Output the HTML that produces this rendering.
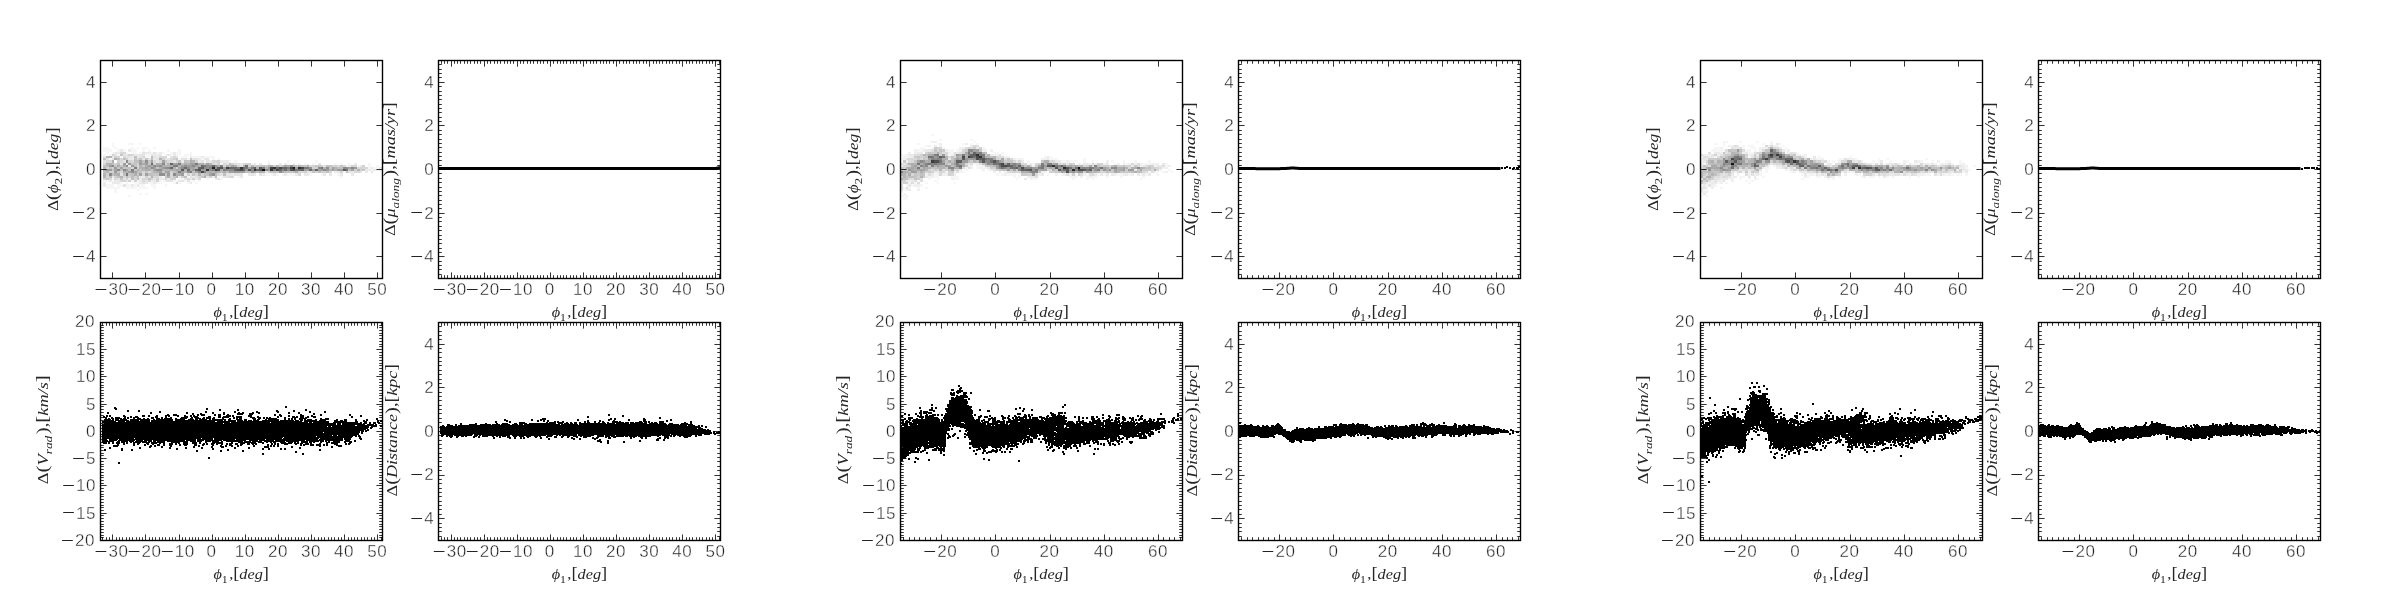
<!DOCTYPE html><html><head><meta charset="utf-8"><title>fig</title><style>html,body{margin:0;padding:0;background:#fff}svg{display:block;will-change:transform}text{font-family:"Liberation Sans",sans-serif;font-size:17px;fill:#242424;stroke:#fff;stroke-width:.36px}text.m{font-family:"Liberation Serif",serif;font-size:15.5px;fill:#262626;stroke:none}tspan.b{font-size:17.6px}</style></head><body><svg width="2400" height="600" viewBox="0 0 2400 600"><rect width="2400" height="600" fill="#fff"/>
<g shape-rendering="crispEdges" fill="none" stroke-width="1">
<path fill="#121212" d="M262 169h3v2h-3z"/>
<path fill="#1e1e1e" d="M293 167h2v2h-2z"/>
<path fill="#242424" d="M212 167h3v2h-3z"/>
<path fill="#303030" d="M298 167h3v2h-3z"/>
<path fill="#363636" d="M206 169h3v2h-3zM240 167h3v2h-3zM254 169h2v2h-2zM270 169h3v2h-3zM273 167h3v2h-3z"/>
<path fill="#424242" d="M215 169h2v2h-2zM226 167h3v2h-3zM270 167h3v2h-3zM290 167h3v2h-3z"/>
<path fill="#484848" d="M201 171h3v2h-3zM240 169h3v2h-3zM276 169h3v2h-3zM279 167h3v2h-3zM293 169h2v2h-2zM301 167h3v2h-3z"/>
<path fill="#545454" d="M198 169h3v2h-3zM217 169h3v2h-3zM220 167h3v2h-3zM248 169h3v2h-3zM290 169h3v2h-3z"/>
<path fill="#5a5a5a" d="M181 169h3v2h-3zM201 167h3v2h-3zM217 167h3v2h-3zM237 169h3v2h-3zM254 167h2v2h-2zM259 167h3v2h-3zM259 169h3v2h-3zM343 169h3v2h-3z"/>
<path fill="#666666" d="M170 163h3v2h-3zM170 167h3v2h-3zM195 169h3v2h-3zM198 167h3v2h-3zM212 165h3v2h-3zM229 167h2v2h-2zM234 169h3v2h-3zM243 169h2v2h-2zM256 169h3v2h-3zM279 169h3v2h-3zM282 167h2v2h-2zM284 167h3v2h-3zM301 169h3v2h-3zM315 169h3v2h-3z"/>
<path fill="#6c6c6c" d="M151 163h2v2h-2zM184 167h3v2h-3zM187 169h3v2h-3zM201 165h3v2h-3zM231 167h3v2h-3zM234 167h3v2h-3zM243 167h2v2h-2zM245 165h3v2h-3zM276 167h3v2h-3zM284 169h3v2h-3zM298 169h3v2h-3zM309 169h3v2h-3z"/>
<path fill="#787878" d="M126 173h2v3h-2zM176 165h2v2h-2zM195 163h3v2h-3zM204 165h2v2h-2zM245 167h3v2h-3zM262 167h3v2h-3zM273 169h3v2h-3zM295 169h3v2h-3zM304 167h3v2h-3zM307 167h2v2h-2zM321 167h2v2h-2zM346 169h2v2h-2z"/>
<path fill="#7e7e7e" d="M131 169h3v2h-3zM134 167h3v2h-3zM173 165h3v2h-3zM178 163h3v2h-3zM178 171h3v2h-3zM190 171h2v2h-2zM209 167h3v2h-3zM212 169h3v2h-3zM220 165h3v2h-3zM223 169h3v2h-3zM237 167h3v2h-3zM251 167h3v2h-3zM287 167h3v2h-3z"/>
<path fill="#8a8a8a" d="M109 173h3v3h-3zM112 165h2v2h-2zM117 169h3v2h-3zM123 169h3v2h-3zM126 160h2v3h-2zM126 165h2v2h-2zM151 167h2v2h-2zM156 169h3v2h-3zM162 163h3v2h-3zM167 167h3v2h-3zM173 173h3v3h-3zM181 167h3v2h-3zM192 165h3v2h-3zM198 171h3v2h-3zM204 167h2v2h-2zM204 171h2v2h-2zM226 169h3v2h-3zM229 169h2v2h-2zM231 169h3v2h-3zM251 169h3v2h-3zM265 169h3v2h-3zM282 169h2v2h-2zM318 167h3v2h-3zM323 169h3v2h-3zM343 167h3v2h-3zM351 167h3v2h-3z"/>
<path fill="#909090" d="M131 171h3v2h-3zM145 160h3v3h-3zM153 165h3v2h-3zM159 165h3v2h-3zM159 169h3v2h-3zM159 173h3v3h-3zM162 173h3v3h-3zM165 167h2v2h-2zM184 165h3v2h-3zM187 167h3v2h-3zM187 171h3v2h-3zM206 165h3v2h-3zM206 167h3v2h-3zM209 165h3v2h-3zM209 169h3v2h-3zM212 173h3v3h-3zM215 165h2v2h-2zM215 167h2v2h-2zM279 171h3v2h-3zM287 169h3v2h-3zM290 165h3v2h-3zM309 167h3v2h-3zM326 167h3v2h-3zM346 167h2v2h-2z"/>
<path fill="#9c9c9c" d="M106 169h3v2h-3zM109 165h3v2h-3zM109 169h3v2h-3zM114 167h3v2h-3zM114 171h3v2h-3zM123 163h3v2h-3zM128 163h3v2h-3zM131 165h3v2h-3zM139 163h3v2h-3zM145 163h3v2h-3zM148 165h3v2h-3zM153 167h3v2h-3zM156 165h3v2h-3zM162 167h3v2h-3zM167 173h3v3h-3zM181 165h3v2h-3zM181 173h3v3h-3zM187 165h3v2h-3zM190 165h2v2h-2zM192 169h3v2h-3zM201 169h3v2h-3zM204 169h2v2h-2zM223 167h3v2h-3zM229 171h2v2h-2zM234 171h3v2h-3zM237 171h3v2h-3zM245 169h3v2h-3zM251 171h3v2h-3zM268 167h2v2h-2zM268 169h2v2h-2zM295 167h3v2h-3zM321 169h2v2h-2zM326 169h3v2h-3zM332 169h2v2h-2zM337 169h3v2h-3zM340 169h3v2h-3zM354 167h3v2h-3z"/>
<path fill="#a2a2a2" d="M114 169h3v2h-3zM120 167h3v2h-3zM126 169h2v2h-2zM128 171h3v2h-3zM134 171h3v2h-3zM139 160h3v3h-3zM139 173h3v3h-3zM145 167h3v2h-3zM145 173h3v3h-3zM151 160h2v3h-2zM153 169h3v2h-3zM159 171h3v2h-3zM162 160h3v3h-3zM165 171h2v2h-2zM167 171h3v2h-3zM173 163h3v2h-3zM176 163h2v2h-2zM176 169h2v2h-2zM178 167h3v2h-3zM181 171h3v2h-3zM190 163h2v2h-2zM190 167h2v2h-2zM192 163h3v2h-3zM192 167h3v2h-3zM195 165h3v2h-3zM195 171h3v2h-3zM206 163h3v2h-3zM209 173h3v3h-3zM215 171h2v2h-2zM231 165h3v2h-3zM231 171h3v2h-3zM240 171h3v2h-3zM243 171h2v2h-2zM248 167h3v2h-3zM284 165h3v2h-3zM304 169h3v2h-3zM307 169h2v2h-2zM312 169h3v2h-3zM318 169h3v2h-3zM332 167h2v2h-2zM348 167h3v2h-3zM351 169h3v2h-3z"/>
<path fill="#aeaeae" d="M103 169h3v2h-3zM112 160h2v3h-2zM114 158h3v2h-3zM117 165h3v2h-3zM117 173h3v3h-3zM123 165h3v2h-3zM123 171h3v2h-3zM134 173h3v3h-3zM137 169h2v2h-2zM142 163h3v2h-3zM142 167h3v2h-3zM145 165h3v2h-3zM145 169h3v2h-3zM148 167h3v2h-3zM148 169h3v2h-3zM151 165h2v2h-2zM156 163h3v2h-3zM156 171h3v2h-3zM159 167h3v2h-3zM162 165h3v2h-3zM167 176h3v2h-3zM170 165h3v2h-3zM170 169h3v2h-3zM173 167h3v2h-3zM173 169h3v2h-3zM176 173h2v3h-2zM178 169h3v2h-3zM178 173h3v3h-3zM184 163h3v2h-3zM184 169h3v2h-3zM190 160h2v3h-2zM190 169h2v2h-2zM198 163h3v2h-3zM198 165h3v2h-3zM201 163h3v2h-3zM204 176h2v2h-2zM206 171h3v2h-3zM209 171h3v2h-3zM217 165h3v2h-3zM217 171h3v2h-3zM220 169h3v2h-3zM223 171h3v2h-3zM226 165h3v2h-3zM234 165h3v2h-3zM254 171h2v2h-2zM259 171h3v2h-3zM270 165h3v2h-3zM282 171h2v2h-2zM287 165h3v2h-3zM295 171h3v2h-3zM307 165h2v2h-2z"/>
<path fill="#b4b4b4" d="M103 167h3v2h-3zM103 173h3v3h-3zM103 176h3v2h-3zM106 156h3v2h-3zM106 163h3v2h-3zM106 171h3v2h-3zM109 156h3v2h-3zM109 163h3v2h-3zM114 173h3v3h-3zM120 176h3v2h-3zM126 171h2v2h-2zM139 165h3v2h-3zM139 167h3v2h-3zM142 169h3v2h-3zM151 176h2v2h-2zM153 171h3v2h-3zM159 158h3v2h-3zM159 163h3v2h-3zM162 169h3v2h-3zM165 165h2v2h-2zM165 169h2v2h-2zM167 163h3v2h-3zM167 165h3v2h-3zM167 169h3v2h-3zM176 171h2v2h-2zM176 176h2v2h-2zM178 165h3v2h-3zM184 171h3v2h-3zM187 163h3v2h-3zM192 160h3v3h-3zM195 167h3v2h-3zM198 173h3v3h-3zM209 163h3v2h-3zM212 171h3v2h-3zM243 165h2v2h-2zM251 165h3v2h-3zM256 167h3v2h-3zM262 171h3v2h-3zM265 167h3v2h-3zM268 165h2v2h-2zM276 165h3v2h-3zM293 165h2v2h-2zM298 165h3v2h-3zM323 167h3v2h-3zM329 169h3v2h-3zM334 167h3v2h-3zM334 169h3v2h-3zM357 169h3v2h-3z"/>
<path fill="#c0c0c0" d="M103 158h3v2h-3zM103 165h3v2h-3zM103 171h3v2h-3zM106 165h3v2h-3zM109 176h3v2h-3zM112 163h2v2h-2zM112 173h2v3h-2zM117 158h3v2h-3zM117 163h3v2h-3zM117 176h3v2h-3zM120 169h3v2h-3zM123 158h3v2h-3zM123 173h3v3h-3zM126 176h2v2h-2zM128 167h3v2h-3zM128 169h3v2h-3zM131 173h3v3h-3zM131 176h3v2h-3zM131 178h3v2h-3zM134 156h3v2h-3zM134 160h3v3h-3zM134 165h3v2h-3zM137 160h2v3h-2zM137 171h2v2h-2zM137 176h2v2h-2zM137 178h2v2h-2zM139 169h3v2h-3zM139 171h3v2h-3zM142 160h3v3h-3zM148 173h3v3h-3zM148 178h3v2h-3zM151 156h2v2h-2zM151 158h2v2h-2zM151 173h2v3h-2zM173 171h3v2h-3zM178 160h3v3h-3zM181 163h3v2h-3zM184 160h3v3h-3zM184 176h3v2h-3zM192 171h3v2h-3zM204 173h2v3h-2zM206 173h3v3h-3zM215 173h2v3h-2zM215 176h2v2h-2zM220 171h3v2h-3zM223 173h3v3h-3zM226 171h3v2h-3zM229 163h2v2h-2zM229 165h2v2h-2zM245 171h3v2h-3zM248 171h3v2h-3zM256 171h3v2h-3zM262 165h3v2h-3zM270 171h3v2h-3zM273 171h3v2h-3zM282 165h2v2h-2zM284 171h3v2h-3zM287 171h3v2h-3zM293 171h2v2h-2zM301 165h3v2h-3zM318 171h3v2h-3zM326 165h3v2h-3zM326 171h3v2h-3zM337 167h3v2h-3zM340 167h3v2h-3zM346 171h2v2h-2zM348 169h3v2h-3z"/>
<path fill="#c6c6c6" d="M106 178h3v2h-3zM109 167h3v2h-3zM112 169h2v2h-2zM114 165h3v2h-3zM117 167h3v2h-3zM117 171h3v2h-3zM120 154h3v2h-3zM120 165h3v2h-3zM120 178h3v2h-3zM123 167h3v2h-3zM126 167h2v2h-2zM128 173h3v3h-3zM131 163h3v2h-3zM134 158h3v2h-3zM134 163h3v2h-3zM134 169h3v2h-3zM137 173h2v3h-2zM139 158h3v2h-3zM142 165h3v2h-3zM145 158h3v2h-3zM145 171h3v2h-3zM148 160h3v3h-3zM148 163h3v2h-3zM151 169h2v2h-2zM151 171h2v2h-2zM153 173h3v3h-3zM156 167h3v2h-3zM156 173h3v3h-3zM162 171h3v2h-3zM165 160h2v3h-2zM165 173h2v3h-2zM165 176h2v2h-2zM173 176h3v2h-3zM176 158h2v2h-2zM187 160h3v3h-3zM190 158h2v2h-2zM192 173h3v3h-3zM201 176h3v2h-3zM204 163h2v2h-2zM256 165h3v2h-3zM259 165h3v2h-3zM265 165h3v2h-3zM276 171h3v2h-3zM290 171h3v2h-3zM295 165h3v2h-3zM304 165h3v2h-3zM312 171h3v2h-3zM315 165h3v2h-3zM318 165h3v2h-3zM329 165h3v2h-3zM329 167h3v2h-3zM340 165h3v2h-3zM362 169h3v2h-3z"/>
<path fill="#d2d2d2" d="M103 178h3v2h-3zM106 167h3v2h-3zM106 173h3v3h-3zM109 171h3v2h-3zM112 154h2v2h-2zM112 167h2v2h-2zM112 171h2v2h-2zM114 156h3v2h-3zM114 163h3v2h-3zM114 176h3v2h-3zM117 160h3v3h-3zM123 180h3v2h-3zM126 158h2v2h-2zM126 178h2v2h-2zM128 154h3v2h-3zM128 160h3v3h-3zM128 176h3v2h-3zM128 180h3v2h-3zM134 176h3v2h-3zM134 180h3v2h-3zM137 163h2v2h-2zM137 167h2v2h-2zM145 176h3v2h-3zM153 163h3v2h-3zM156 178h3v2h-3zM156 180h3v2h-3zM162 158h3v2h-3zM165 163h2v2h-2zM165 178h2v2h-2zM170 171h3v2h-3zM170 178h3v2h-3zM173 158h3v2h-3zM173 178h3v2h-3zM176 160h2v3h-2zM176 167h2v2h-2zM181 176h3v2h-3zM187 173h3v3h-3zM192 178h3v2h-3zM195 160h3v3h-3zM201 173h3v3h-3zM209 176h3v2h-3zM217 160h3v3h-3zM217 163h3v2h-3zM231 163h3v2h-3zM245 163h3v2h-3zM248 163h3v2h-3zM248 165h3v2h-3zM254 165h2v2h-2zM268 171h2v2h-2zM273 165h3v2h-3zM279 165h3v2h-3zM304 171h3v2h-3zM312 165h3v2h-3zM312 167h3v2h-3zM315 167h3v2h-3zM315 171h3v2h-3zM321 165h2v2h-2zM321 171h2v2h-2zM323 171h3v2h-3zM332 165h2v2h-2zM334 165h3v2h-3zM340 171h3v2h-3zM351 165h3v2h-3zM354 169h3v2h-3zM360 167h2v2h-2zM360 169h2v2h-2zM362 165h3v2h-3z"/>
<path fill="#d8d8d8" d="M103 163h3v2h-3zM106 160h3v3h-3zM106 176h3v2h-3zM109 160h3v3h-3zM109 178h3v2h-3zM114 178h3v2h-3zM117 156h3v2h-3zM120 152h3v2h-3zM120 158h3v2h-3zM120 160h3v3h-3zM120 171h3v2h-3zM120 180h3v2h-3zM123 152h3v2h-3zM123 156h3v2h-3zM123 176h3v2h-3zM131 154h3v2h-3zM131 160h3v3h-3zM131 167h3v2h-3zM134 178h3v2h-3zM137 158h2v2h-2zM137 165h2v2h-2zM142 156h3v2h-3zM142 171h3v2h-3zM142 173h3v3h-3zM142 178h3v2h-3zM142 180h3v2h-3zM145 178h3v2h-3zM148 171h3v2h-3zM148 180h3v2h-3zM151 178h2v2h-2zM153 160h3v3h-3zM153 176h3v2h-3zM156 176h3v2h-3zM159 156h3v2h-3zM159 160h3v3h-3zM162 156h3v2h-3zM165 156h2v2h-2zM167 160h3v3h-3zM170 158h3v2h-3zM170 160h3v3h-3zM170 173h3v3h-3zM170 176h3v2h-3zM173 156h3v2h-3zM176 182h2v2h-2zM187 178h3v2h-3zM195 173h3v3h-3zM198 176h3v2h-3zM198 178h3v2h-3zM212 160h3v3h-3zM212 163h3v2h-3zM215 160h2v3h-2zM217 173h3v3h-3zM223 163h3v2h-3zM223 165h3v2h-3zM229 176h2v2h-2zM231 176h3v2h-3zM237 165h3v2h-3zM243 163h2v2h-2zM298 171h3v2h-3zM298 173h3v3h-3zM301 171h3v2h-3zM309 165h3v2h-3zM329 171h3v2h-3zM337 165h3v2h-3zM343 165h3v2h-3zM354 165h3v2h-3zM354 171h3v2h-3zM357 167h3v2h-3zM357 171h3v2h-3zM362 167h3v2h-3zM365 167h3v2h-3z"/>
<path fill="#e4e4e4" d="M103 156h3v2h-3zM103 160h3v3h-3zM106 158h3v2h-3zM112 158h2v2h-2zM114 154h3v2h-3zM117 178h3v2h-3zM120 163h3v2h-3zM120 173h3v3h-3zM123 154h3v2h-3zM123 160h3v3h-3zM123 178h3v2h-3zM123 184h3v3h-3zM126 154h2v2h-2zM126 156h2v2h-2zM126 163h2v2h-2zM128 156h3v2h-3zM139 154h3v2h-3zM139 156h3v2h-3zM142 152h3v2h-3zM142 154h3v2h-3zM142 158h3v2h-3zM142 182h3v2h-3zM145 180h3v2h-3zM148 158h3v2h-3zM148 176h3v2h-3zM151 154h2v2h-2zM153 152h3v2h-3zM153 156h3v2h-3zM153 178h3v2h-3zM156 158h3v2h-3zM156 160h3v3h-3zM165 158h2v2h-2zM167 154h3v2h-3zM167 158h3v2h-3zM167 180h3v2h-3zM170 156h3v2h-3zM170 180h3v2h-3zM173 160h3v3h-3zM176 156h2v2h-2zM181 158h3v2h-3zM181 180h3v2h-3zM184 158h3v2h-3zM184 178h3v2h-3zM187 180h3v2h-3zM190 173h2v3h-2zM190 176h2v2h-2zM192 158h3v2h-3zM195 158h3v2h-3zM195 176h3v2h-3zM201 160h3v3h-3zM206 158h3v2h-3zM206 160h3v3h-3zM206 176h3v2h-3zM215 163h2v2h-2zM217 178h3v2h-3zM220 173h3v3h-3zM223 176h3v2h-3zM226 163h3v2h-3zM226 173h3v3h-3zM226 176h3v2h-3zM229 173h2v3h-2zM234 163h3v2h-3zM234 173h3v3h-3zM237 163h3v2h-3zM237 173h3v3h-3zM240 165h3v2h-3zM240 173h3v3h-3zM251 173h3v3h-3zM259 173h3v3h-3zM265 171h3v2h-3zM309 171h3v2h-3zM318 163h3v2h-3zM323 165h3v2h-3zM348 171h3v2h-3zM360 171h2v2h-2zM371 171h2v2h-2z"/>
<path fill="#eaeaea" d="M103 182h3v2h-3zM103 184h3v3h-3zM109 180h3v2h-3zM112 156h2v2h-2zM112 176h2v2h-2zM112 182h2v2h-2zM114 152h3v2h-3zM114 180h3v2h-3zM114 182h3v2h-3zM117 152h3v2h-3zM117 180h3v2h-3zM117 182h3v2h-3zM120 149h3v3h-3zM126 180h2v2h-2zM128 149h3v3h-3zM128 158h3v2h-3zM128 165h3v2h-3zM128 178h3v2h-3zM131 156h3v2h-3zM131 158h3v2h-3zM131 184h3v3h-3zM134 154h3v2h-3zM137 154h2v2h-2zM137 156h2v2h-2zM137 184h2v3h-2zM139 176h3v2h-3zM139 178h3v2h-3zM139 180h3v2h-3zM139 182h3v2h-3zM142 176h3v2h-3zM145 152h3v2h-3zM145 182h3v2h-3zM148 152h3v2h-3zM151 180h2v2h-2zM153 154h3v2h-3zM153 158h3v2h-3zM153 180h3v2h-3zM153 182h3v2h-3zM156 154h3v2h-3zM156 156h3v2h-3zM159 152h3v2h-3zM159 154h3v2h-3zM159 176h3v2h-3zM159 178h3v2h-3zM162 178h3v2h-3zM165 180h2v2h-2zM167 178h3v2h-3zM173 152h3v2h-3zM173 154h3v2h-3zM178 176h3v2h-3zM178 180h3v2h-3zM181 160h3v3h-3zM184 173h3v3h-3zM190 156h2v2h-2zM190 178h2v2h-2zM190 182h2v2h-2zM192 176h3v2h-3zM195 178h3v2h-3zM198 158h3v2h-3zM198 160h3v3h-3zM201 156h3v2h-3zM204 158h2v2h-2zM209 160h3v3h-3zM212 176h3v2h-3zM215 178h2v2h-2zM220 160h3v3h-3zM223 160h3v3h-3zM226 160h3v3h-3zM231 173h3v3h-3zM240 163h3v2h-3zM240 176h3v2h-3zM248 173h3v3h-3zM254 163h2v2h-2zM254 173h2v3h-2zM259 163h3v2h-3zM262 173h3v3h-3zM268 163h2v2h-2zM273 173h3v3h-3zM279 163h3v2h-3zM284 163h3v2h-3zM284 173h3v3h-3zM293 163h2v2h-2zM295 173h3v3h-3zM304 173h3v3h-3zM307 171h2v2h-2zM307 173h2v3h-2zM323 173h3v3h-3zM329 173h3v3h-3zM334 171h3v2h-3zM337 171h3v2h-3zM340 173h3v3h-3zM348 165h3v2h-3zM351 171h3v2h-3zM351 173h3v3h-3zM354 163h3v2h-3zM360 165h2v2h-2zM365 169h3v2h-3zM365 171h3v2h-3zM368 169h3v2h-3zM371 167h2v2h-2zM373 169h3v2h-3zM379 167h3v2h-3zM379 169h3v2h-3z"/>
<path fill="#f6f6f6" d="M103 147h3v2h-3zM103 149h3v3h-3zM103 154h3v2h-3zM103 180h3v2h-3zM106 147h3v2h-3zM106 149h3v3h-3zM106 152h3v2h-3zM106 180h3v2h-3zM106 184h3v3h-3zM106 187h3v2h-3zM109 149h3v3h-3zM109 154h3v2h-3zM109 158h3v2h-3zM109 184h3v3h-3zM109 187h3v2h-3zM112 143h2v2h-2zM112 145h2v2h-2zM112 152h2v2h-2zM112 178h2v2h-2zM112 180h2v2h-2zM112 184h2v3h-2zM112 187h2v2h-2zM114 147h3v2h-3zM114 187h3v2h-3zM114 189h3v2h-3zM114 191h3v2h-3zM117 149h3v3h-3zM117 154h3v2h-3zM117 184h3v3h-3zM117 187h3v2h-3zM120 156h3v2h-3zM120 182h3v2h-3zM120 184h3v3h-3zM123 149h3v3h-3zM126 152h2v2h-2zM126 182h2v2h-2zM126 184h2v3h-2zM126 187h2v2h-2zM128 143h3v2h-3zM128 184h3v3h-3zM128 187h3v2h-3zM128 195h3v2h-3zM131 143h3v2h-3zM131 147h3v2h-3zM131 149h3v3h-3zM131 152h3v2h-3zM131 180h3v2h-3zM131 187h3v2h-3zM134 149h3v3h-3zM134 152h3v2h-3zM134 182h3v2h-3zM134 184h3v3h-3zM134 187h3v2h-3zM137 147h2v2h-2zM137 180h2v2h-2zM137 182h2v2h-2zM137 189h2v2h-2zM139 143h3v2h-3zM139 152h3v2h-3zM139 184h3v3h-3zM139 187h3v2h-3zM139 193h3v2h-3zM142 147h3v2h-3zM142 149h3v3h-3zM142 184h3v3h-3zM142 187h3v2h-3zM145 147h3v2h-3zM145 154h3v2h-3zM145 156h3v2h-3zM145 187h3v2h-3zM145 193h3v2h-3zM148 149h3v3h-3zM148 154h3v2h-3zM148 156h3v2h-3zM148 182h3v2h-3zM151 152h2v2h-2zM151 182h2v2h-2zM151 184h2v3h-2zM153 147h3v2h-3zM153 184h3v3h-3zM153 187h3v2h-3zM156 152h3v2h-3zM156 182h3v2h-3zM159 180h3v2h-3zM159 182h3v2h-3zM162 152h3v2h-3zM162 176h3v2h-3zM162 180h3v2h-3zM165 154h2v2h-2zM165 184h2v3h-2zM167 149h3v3h-3zM170 152h3v2h-3zM170 154h3v2h-3zM173 180h3v2h-3zM173 182h3v2h-3zM176 152h2v2h-2zM176 154h2v2h-2zM176 180h2v2h-2zM178 149h3v3h-3zM178 152h3v2h-3zM178 154h3v2h-3zM178 158h3v2h-3zM178 178h3v2h-3zM178 182h3v2h-3zM181 156h3v2h-3zM181 178h3v2h-3zM184 154h3v2h-3zM184 156h3v2h-3zM184 180h3v2h-3zM187 154h3v2h-3zM187 158h3v2h-3zM187 176h3v2h-3zM187 182h3v2h-3zM190 152h2v2h-2zM190 154h2v2h-2zM190 180h2v2h-2zM192 156h3v2h-3zM192 180h3v2h-3zM195 156h3v2h-3zM195 182h3v2h-3zM198 156h3v2h-3zM198 180h3v2h-3zM201 158h3v2h-3zM204 156h2v2h-2zM204 160h2v3h-2zM206 156h3v2h-3zM206 178h3v2h-3zM209 156h3v2h-3zM212 156h3v2h-3zM212 158h3v2h-3zM217 158h3v2h-3zM217 176h3v2h-3zM220 163h3v2h-3zM220 176h3v2h-3zM220 178h3v2h-3zM229 160h2v3h-2zM234 160h3v3h-3zM237 176h3v2h-3zM251 163h3v2h-3zM265 173h3v3h-3zM268 160h2v3h-2zM268 173h2v3h-2zM270 173h3v3h-3zM276 173h3v3h-3zM282 173h2v3h-2zM287 160h3v3h-3zM287 163h3v2h-3zM287 173h3v3h-3zM290 173h3v3h-3zM293 173h2v3h-2zM298 163h3v2h-3zM304 163h3v2h-3zM307 163h2v2h-2zM309 173h3v3h-3zM312 163h3v2h-3zM315 160h3v3h-3zM321 173h2v3h-2zM334 163h3v2h-3zM337 173h3v3h-3zM340 163h3v2h-3zM340 176h3v2h-3zM343 171h3v2h-3zM346 165h2v2h-2zM348 163h3v2h-3zM357 165h3v2h-3zM368 163h3v2h-3zM368 165h3v2h-3zM368 167h3v2h-3zM371 169h2v2h-2zM373 167h3v2h-3zM376 165h3v2h-3zM376 167h3v2h-3zM376 169h3v2h-3z"/>
<path transform="translate(0 .5)" stroke="#000" d="M285 406h2M114 407h2m169 0h2M114 408h3m89 0h2M115 409h2m89 0h2m11 0h2m16 0h2m66 0h2M127 410h2m9 0h2m79 0h2m16 0h2m37 0h2m15 0h2m10 0h2M127 411h2m9 0h2m19 0h2m44 0h2m27 0h2m20 0h2m18 0h3m14 0h2m14 0h2m13 0h2M107 412h2m41 0h2m7 0h2m25 0h2m17 0h2m5 0h2m9 0h2m9 0h2m2 0h2m2 0h2m8 0h2m2 0h4m17 0h2m9 0h2m8 0h2m9 0h2m13 0h2M107 413h2m41 0h2m34 0h2m4 0h2m6 0h2m10 0h2m9 0h2m12 0h7m5 0h5m4 0h2m28 0h2m8 0h2m13 0h2M167 414h2m4 0h4m15 0h2m3 0h2m1 0h5m9 0h2m2 0h3m2 0h2m2 0h2m8 0h6m6 0h4m21 0h2m3 0h2m19 0h2m11 0h2m5 0h2m27 0h2M106 415h2m1 0h2m12 0h2m17 0h3m3 0h2m6 0h2m7 0h5m3 0h6m5 0h2m4 0h2m1 0h2m2 0h2m2 0h4m9 0h2m2 0h3m5 0h5m1 0h2m14 0h4m22 0h2m3 0h3m6 0h2m10 0h4m7 0h2m7 0h2m27 0h2m9 0h2M103 416h2m1 0h2m1 0h2m12 0h3m4 0h2m3 0h3m4 0h3m3 0h2m5 0h3m7 0h2m1 0h2m7 0h2m5 0h4m2 0h2m1 0h5m10 0h3m7 0h3m2 0h8m1 0h2m2 0h6m6 0h4m5 0h2m18 0h2m1 0h2m6 0h2m2 0h3m1 0h2m2 0h4m3 0h2m2 0h5m35 0h2m7 0h2M103 417h4m4 0h2m2 0h5m4 0h2m1 0h2m1 0h2m1 0h6m12 0h3m1 0h3m3 0h2m2 0h2m3 0h2m9 0h7m3 0h2m1 0h5m4 0h2m1 0h5m2 0h2m3 0h3m1 0h7m4 0h2m1 0h6m8 0h5m2 0h4m2 0h2m1 0h2m1 0h2m6 0h2m5 0h2m6 0h6m2 0h4m1 0h4m4 0h3m35 0h2M105 418h2m1 0h2m1 0h3m1 0h7m1 0h3m1 0h2m4 0h2m2 0h4m2 0h2m2 0h2m2 0h3m2 0h4m1 0h2m1 0h8m3 0h2m3 0h7m3 0h3m2 0h6m1 0h3m1 0h5m1 0h3m7 0h2m5 0h2m2 0h2m1 0h2m1 0h3m10 0h4m2 0h3m2 0h2m1 0h11m7 0h2m2 0h2m1 0h2m1 0h2m3 0h8m13 0h2m3 0h4m47 0h2M104 419h7m1 0h2m1 0h4m1 0h7m3 0h20m3 0h2m1 0h17m2 0h10m3 0h6m1 0h3m1 0h8m2 0h2m1 0h14m2 0h3m5 0h6m2 0h3m6 0h3m1 0h3m5 0h2m1 0h11m5 0h2m2 0h2m1 0h2m1 0h2m3 0h4m1 0h2m1 0h5m3 0h2m3 0h9m7 0h2m6 0h3m8 0h2m9 0h2m8 0h2M104 420h10m1 0h14m1 0h9m1 0h10m1 0h22m2 0h48m1 0h2m2 0h8m1 0h6m1 0h3m1 0h4m1 0h6m3 0h17m1 0h14m1 0h4m1 0h3m1 0h13m2 0h7m8 0h4m2 0h3m1 0h3m8 0h2m6 0h2m1 0h2m9 0h2m1 0h2M102 421h14m2 0h7m1 0h24m1 0h64m2 0h19m1 0h65m2 0h25m5 0h13m8 0h3m5 0h4m10 0h2m1 0h2M102 422h128m1 0h39m1 0h37m1 0h3m1 0h16m4 0h25m2 0h2m2 0h3m2 0h2m2 0h3m1 0h3M104 423h119m1 0h112m1 0h4m1 0h20m1 0h4m2 0h2m2 0h3m2 0h2M102 424h234m1 0h4m1 0h23m2 0h7m1 0h2M102 425h253m2 0h20m3 0h2M102 426h225m1 0h3m1 0h37m2 0h6m3 0h2M102 427h267m1 0h3M102 428h266m2 0h2M102 429h264m1 0h2M102 430h262m1 0h4M102 431h258m1 0h3m1 0h2M102 432h221m1 0h36m1 0h2M102 433h257m2 0h2M102 434h257M102 435h230m1 0h4m1 0h19m1 0h2M102 436h214m1 0h36m2 0h2m1 0h3M102 437h181m1 0h68m7 0h2M102 438h32m1 0h66m1 0h11m1 0h68m1 0h36m1 0h23m1 0h7m8 0h3M102 439h5m2 0h9m1 0h77m1 0h16m1 0h21m1 0h29m1 0h52m1 0h24m1 0h7m9 0h2M102 440h6m1 0h8m1 0h17m1 0h7m1 0h8m1 0h32m1 0h10m1 0h7m1 0h17m1 0h23m3 0h9m1 0h15m1 0h30m1 0h18m1 0h18m2 0h5m4 0h2M102 441h12m3 0h3m1 0h7m1 0h5m1 0h12m1 0h4m1 0h3m1 0h8m2 0h21m2 0h6m1 0h5m3 0h6m1 0h7m2 0h2m3 0h17m1 0h7m1 0h10m2 0h21m1 0h13m2 0h7m1 0h10m1 0h4m1 0h2m1 0h2m3 0h7m4 0h8m2 0h2M102 442h5m1 0h2m2 0h2m2 0h4m1 0h4m1 0h2m2 0h2m1 0h8m1 0h8m1 0h14m6 0h9m3 0h5m4 0h5m2 0h2m4 0h2m5 0h11m8 0h2m5 0h18m2 0h6m2 0h2m2 0h2m1 0h3m4 0h6m2 0h5m1 0h2m1 0h2m2 0h7m1 0h3m1 0h2m5 0h2m4 0h4m1 0h9m4 0h2m3 0h3M103 443h4m1 0h2m2 0h2m2 0h4m3 0h2m1 0h2m5 0h2m2 0h3m6 0h3m2 0h6m2 0h2m2 0h2m4 0h4m2 0h2m1 0h2m3 0h5m4 0h5m2 0h2m2 0h2m1 0h2m3 0h4m1 0h7m3 0h2m1 0h4m2 0h3m2 0h5m2 0h3m1 0h6m5 0h2m7 0h2m1 0h2m1 0h2m2 0h11m2 0h5m1 0h3m2 0h4m1 0h2m7 0h2m5 0h2m3 0h7m7 0h2m1 0h3M117 444h2m4 0h2m8 0h2m2 0h2m5 0h2m1 0h2m3 0h2m3 0h3m3 0h2m4 0h4m2 0h2m2 0h2m2 0h5m6 0h3m5 0h3m1 0h2m3 0h3m2 0h2m3 0h2m3 0h2m1 0h3m3 0h3m2 0h3m4 0h3m2 0h2m1 0h2m10 0h2m2 0h2m1 0h2m1 0h2m5 0h4m7 0h2m3 0h2m1 0h6m1 0h4m2 0h5m2 0h2m1 0h2m6 0h4m7 0h2m1 0h2M113 445h6m14 0h2m9 0h2m4 0h2m2 0h2m1 0h3m3 0h2m4 0h3m7 0h2m3 0h3m7 0h3m1 0h2m2 0h2m8 0h2m6 0h2m3 0h2m2 0h4m4 0h2m1 0h2m11 0h2m12 0h2m1 0h2m1 0h2m2 0h2m21 0h2m1 0h2m5 0h4m2 0h5m2 0h2m1 0h2m8 0h6M113 446h5m31 0h3m2 0h2m5 0h2m7 0h2m21 0h2m3 0h2m11 0h2m7 0h4m1 0h2m4 0h2m4 0h2m14 0h2m9 0h5m1 0h2m1 0h2m2 0h2m12 0h2m26 0h2m10 0h2m5 0h4M109 447h2m28 0h2m8 0h2m10 0h2m6 0h2m14 0h2m6 0h2m6 0h2m8 0h2m8 0h3m10 0h2m12 0h2m14 0h5m22 0h2m6 0h2m30 0h2M109 448h2m10 0h2m16 0h2m28 0h2m5 0h2m7 0h2m14 0h2m9 0h2m20 0h2m12 0h2m12 0h2m4 0h2m10 0h2m2 0h2m13 0h2M104 449h2m15 0h2m8 0h2m43 0h2m34 0h2m13 0h2m33 0h2m4 0h2m10 0h2m2 0h2m33 0h2M104 450h2m15 0h2m8 0h2m63 0h2m22 0h2m5 0h2m13 0h2m75 0h2M196 451h2m22 0h2m20 0h2m51 0h2M295 452h2M262 453h2m38 0h2M262 454h2m38 0h2M208 457h2M208 458h2M118 462h2M118 463h2"/>
<path transform="translate(0 .5)" stroke="#000" d="M608 414h2M608 415h2m12 0h2M587 416h2m33 0h2M587 417h2m70 0h2M542 418h4m64 0h2m2 0h2m27 0h2m14 0h2M504 419h2m25 0h2m7 0h6m31 0h2m29 0h4m2 0h2m12 0h2m13 0h3m24 0h2M504 420h4m23 0h2m4 0h2m1 0h2m1 0h2m2 0h2m28 0h2m8 0h2m10 0h2m7 0h2m3 0h2m13 0h2m13 0h3m20 0h2m2 0h2M495 421h2m9 0h2m1 0h2m26 0h2m4 0h2m2 0h2m5 0h2m1 0h2m3 0h2m20 0h2m1 0h2m5 0h2m3 0h2m1 0h2m8 0h6m1 0h2m18 0h3m1 0h4m1 0h2m9 0h5m2 0h2m22 0h2M495 422h2m12 0h2m8 0h6m21 0h2m1 0h7m1 0h7m2 0h2m2 0h2m2 0h3m2 0h2m3 0h2m1 0h3m4 0h2m2 0h2m2 0h3m2 0h2m3 0h12m1 0h4m1 0h4m1 0h8m1 0h3m1 0h2m1 0h2m1 0h3m2 0h5m20 0h2m4 0h2M460 423h2m13 0h2m8 0h2m9 0h2m4 0h6m6 0h3m2 0h8m2 0h27m2 0h5m1 0h5m1 0h3m1 0h3m2 0h27m1 0h8m1 0h13m1 0h17m2 0h9m1 0h7m3 0h4m8 0h7m2 0h2M447 424h3m5 0h2m3 0h2m7 0h8m3 0h11m1 0h8m1 0h9m2 0h6m1 0h4m1 0h36m1 0h17m1 0h88m1 0h11m1 0h13M442 425h2m3 0h6m2 0h2m1 0h229m1 0h7m3 0h2m1 0h2M440 426h5m1 0h254m1 0h2m2 0h2M440 427h261m4 0h2M440 428h257m1 0h5M440 429h266m1 0h2M440 430h271M440 431h271m2 0h2m3 0h2M440 432h272m1 0h2m1 0h4M440 433h272m1 0h7M441 434h32m1 0h103m1 0h92m1 0h31m2 0h6m4 0h2M441 435h3m2 0h7m1 0h18m2 0h4m1 0h2m1 0h28m2 0h34m1 0h6m3 0h2m1 0h2m1 0h15m1 0h16m3 0h7m1 0h10m1 0h45m1 0h10m1 0h3m1 0h15m3 0h2m1 0h4M441 436h2m3 0h2m1 0h4m3 0h3m2 0h3m1 0h2m6 0h4m1 0h2m2 0h6m4 0h2m2 0h2m1 0h2m1 0h4m1 0h3m3 0h4m2 0h5m2 0h5m3 0h4m1 0h2m5 0h6m2 0h3m4 0h3m3 0h3m3 0h5m2 0h2m1 0h8m6 0h7m1 0h5m1 0h13m1 0h3m1 0h8m1 0h13m6 0h2m5 0h5m1 0h2m1 0h2m4 0h2m2 0h8m4 0h2M450 437h2m4 0h2m15 0h2m3 0h2m13 0h2m4 0h2m6 0h4m3 0h2m4 0h2m1 0h2m2 0h2m6 0h2m3 0h2m4 0h2m6 0h3m4 0h2m4 0h2m2 0h2m3 0h2m5 0h4m5 0h2m2 0h3m6 0h2m1 0h3m2 0h3m14 0h2m1 0h2m5 0h3m2 0h2m12 0h2m3 0h5m15 0h4M493 438h2m14 0h2m3 0h2m4 0h2m1 0h2m15 0h2m6 0h2m21 0h4m4 0h2m11 0h6m10 0h3m19 0h2m9 0h2m2 0h2m10 0h4m3 0h2m1 0h2M548 439h2m23 0h2m4 0h2m13 0h2m3 0h2m55 0h3m4 0h2M597 440h4m6 0h2m30 0h2m15 0h3m4 0h2M597 441h5m5 0h2m14 0h2m14 0h2M600 442h2m5 0h2m14 0h2M607 443h2"/>
<path fill="#121212" d="M1078 167h2v2h-2z"/>
<path fill="#2a2a2a" d="M1063 167h3v2h-3zM1072 169h3v2h-3z"/>
<path fill="#303030" d="M976 154h3v2h-3zM979 156h3v2h-3zM1052 165h3v2h-3z"/>
<path fill="#3c3c3c" d="M931 160h3v3h-3zM968 156h2v2h-2z"/>
<path fill="#484848" d="M962 156h3v2h-3zM976 156h3v2h-3zM1001 163h3v2h-3zM1004 165h3v2h-3z"/>
<path fill="#4e4e4e" d="M934 160h3v3h-3zM937 160h2v3h-2zM976 158h3v2h-3zM1001 165h3v2h-3zM1021 167h3v2h-3zM1078 169h2v2h-2zM1080 169h3v2h-3z"/>
<path fill="#545454" d="M970 156h3v2h-3zM982 158h3v2h-3zM993 160h3v3h-3zM1030 169h2v2h-2zM1047 165h2v2h-2zM1055 167h3v2h-3zM1066 167h3v2h-3zM1066 171h3v2h-3z"/>
<path fill="#5a5a5a" d="M962 158h3v2h-3zM973 154h3v2h-3zM982 160h3v3h-3zM1007 165h3v2h-3zM1027 169h3v2h-3zM1049 165h3v2h-3zM1058 169h3v2h-3zM1066 169h3v2h-3zM1083 169h3v2h-3z"/>
<path fill="#606060" d="M939 156h3v2h-3zM956 160h3v3h-3zM959 160h3v3h-3zM979 158h3v2h-3zM999 163h2v2h-2zM1016 167h2v2h-2zM1021 169h3v2h-3zM1089 169h3v2h-3z"/>
<path fill="#666666" d="M970 154h3v2h-3zM973 152h3v2h-3zM1007 163h3v2h-3zM1010 165h3v2h-3zM1018 165h3v2h-3zM1024 169h3v2h-3zM1061 165h2v2h-2z"/>
<path fill="#727272" d="M928 156h3v2h-3zM939 160h3v3h-3zM942 156h3v2h-3zM959 165h3v2h-3zM973 156h3v2h-3zM985 158h2v2h-2zM990 160h3v3h-3zM993 163h3v2h-3zM999 165h2v2h-2zM1001 167h3v2h-3zM1010 167h3v2h-3zM1013 167h3v2h-3zM1063 169h3v2h-3zM1069 167h3v2h-3zM1075 167h3v2h-3zM1100 167h3v2h-3z"/>
<path fill="#787878" d="M917 163h3v2h-3zM917 167h3v2h-3zM928 163h3v2h-3zM931 156h3v2h-3zM934 163h3v2h-3zM937 154h2v2h-2zM968 152h2v2h-2zM979 154h3v2h-3zM982 154h3v2h-3zM996 160h3v3h-3zM996 163h3v2h-3zM1035 169h3v2h-3zM1041 165h3v2h-3zM1041 167h3v2h-3zM1055 165h3v2h-3zM1086 169h3v2h-3zM1089 167h3v2h-3z"/>
<path fill="#7e7e7e" d="M931 165h3v2h-3zM934 154h3v2h-3zM956 163h3v2h-3zM962 154h3v2h-3zM979 152h3v2h-3zM982 156h3v2h-3zM987 158h3v2h-3zM990 158h3v2h-3zM1013 165h3v2h-3zM1038 167h3v2h-3zM1041 163h3v2h-3zM1049 163h3v2h-3zM1092 167h2v2h-2zM1097 169h3v2h-3z"/>
<path fill="#848484" d="M900 171h3v2h-3zM920 165h3v2h-3zM925 163h3v2h-3zM931 158h3v2h-3zM931 163h3v2h-3zM937 158h2v2h-2zM939 158h3v2h-3zM951 167h3v2h-3zM956 165h3v2h-3zM959 167h3v2h-3zM968 154h2v2h-2zM979 160h3v3h-3zM999 167h2v2h-2zM1013 163h3v2h-3zM1018 169h3v2h-3zM1024 167h3v2h-3zM1030 167h2v2h-2zM1032 171h3v2h-3zM1047 163h2v2h-2zM1058 165h3v2h-3zM1075 169h3v2h-3zM1083 167h3v2h-3zM1094 165h3v2h-3z"/>
<path fill="#8a8a8a" d="M920 160h3v3h-3zM925 165h3v2h-3zM934 158h3v2h-3zM937 156h2v2h-2zM937 163h2v2h-2zM939 163h3v2h-3zM942 163h3v2h-3zM948 167h3v2h-3zM968 149h2v3h-2zM970 149h3v3h-3zM976 152h3v2h-3zM985 160h2v3h-2zM987 160h3v3h-3zM987 163h3v2h-3zM1004 167h3v2h-3zM1018 167h3v2h-3zM1027 167h3v2h-3zM1030 171h2v2h-2zM1035 171h3v2h-3zM1061 169h2v2h-2zM1063 165h3v2h-3zM1080 167h3v2h-3zM1086 167h3v2h-3zM1111 167h3v2h-3zM1114 167h3v2h-3zM1137 167h3v2h-3z"/>
<path fill="#969696" d="M908 169h3v2h-3zM923 160h2v3h-2zM965 158h3v2h-3zM973 158h3v2h-3zM990 163h3v2h-3zM1010 163h3v2h-3zM1016 163h2v2h-2zM1016 165h2v2h-2zM1032 169h3v2h-3zM1058 167h3v2h-3zM1069 169h3v2h-3zM1072 171h3v2h-3zM1078 171h2v2h-2zM1080 171h3v2h-3zM1094 167h3v2h-3zM1094 169h3v2h-3zM1103 169h3v2h-3zM1109 169h2v2h-2z"/>
<path fill="#9c9c9c" d="M911 171h3v2h-3zM923 163h2v2h-2zM923 165h2v2h-2zM934 156h3v2h-3zM937 165h2v2h-2zM942 154h3v2h-3zM945 165h3v2h-3zM948 165h3v2h-3zM954 163h2v2h-2zM956 154h3v2h-3zM956 158h3v2h-3zM962 160h3v3h-3zM965 160h3v3h-3zM970 158h3v2h-3zM996 165h3v2h-3zM996 167h3v2h-3zM999 160h2v3h-2zM1004 163h3v2h-3zM1007 167h3v2h-3zM1007 169h3v2h-3zM1018 163h3v2h-3zM1032 167h3v2h-3zM1032 173h3v3h-3zM1044 165h3v2h-3zM1055 163h3v2h-3zM1061 167h2v2h-2zM1072 167h3v2h-3zM1086 171h3v2h-3zM1097 167h3v2h-3zM1123 169h2v2h-2zM1128 169h3v2h-3zM1131 169h3v2h-3z"/>
<path fill="#a2a2a2" d="M914 165h3v2h-3zM914 171h3v2h-3zM917 160h3v3h-3zM920 169h3v2h-3zM923 167h2v2h-2zM928 158h3v2h-3zM942 160h3v3h-3zM951 169h3v2h-3zM968 158h2v2h-2zM973 149h3v3h-3zM976 149h3v3h-3zM1013 169h3v2h-3zM1035 167h3v2h-3zM1038 165h3v2h-3zM1041 169h3v2h-3zM1061 171h2v2h-2zM1069 171h3v2h-3zM1103 167h3v2h-3zM1114 169h3v2h-3zM1123 167h2v2h-2z"/>
<path fill="#a8a8a8" d="M911 167h3v2h-3zM911 169h3v2h-3zM917 169h3v2h-3zM923 169h2v2h-2zM928 160h3v3h-3zM931 154h3v2h-3zM954 160h2v3h-2zM959 158h3v2h-3zM959 163h3v2h-3zM965 152h3v2h-3zM970 152h3v2h-3zM993 158h3v2h-3zM1001 158h3v2h-3zM1001 160h3v3h-3zM1021 165h3v2h-3zM1027 171h3v2h-3zM1044 169h3v2h-3zM1049 167h3v2h-3zM1069 165h3v2h-3zM1075 165h3v2h-3zM1089 165h3v2h-3zM1114 171h3v2h-3zM1120 169h3v2h-3zM1140 169h2v2h-2z"/>
<path fill="#aeaeae" d="M900 178h3v2h-3zM903 171h3v2h-3zM906 171h2v2h-2zM908 167h3v2h-3zM908 173h3v3h-3zM911 163h3v2h-3zM911 165h3v2h-3zM914 167h3v2h-3zM914 169h3v2h-3zM920 163h3v2h-3zM920 171h3v2h-3zM925 160h3v3h-3zM925 167h3v2h-3zM928 154h3v2h-3zM934 165h3v2h-3zM937 152h2v2h-2zM939 165h3v2h-3zM942 158h3v2h-3zM945 158h3v2h-3zM948 160h3v3h-3zM951 163h3v2h-3zM954 165h2v2h-2zM954 167h2v2h-2zM956 156h3v2h-3zM956 167h3v2h-3zM959 154h3v2h-3zM962 163h3v2h-3zM962 165h3v2h-3zM965 154h3v2h-3zM965 156h3v2h-3zM985 156h2v2h-2zM985 163h2v2h-2zM1021 171h3v2h-3zM1024 171h3v2h-3zM1027 165h3v2h-3zM1038 169h3v2h-3zM1044 160h3v3h-3zM1044 167h3v2h-3zM1047 160h2v3h-2zM1052 163h3v2h-3zM1052 167h3v2h-3zM1063 171h3v2h-3zM1066 165h3v2h-3zM1075 171h3v2h-3zM1089 171h3v2h-3zM1106 167h3v2h-3zM1106 169h3v2h-3zM1114 165h3v2h-3zM1117 167h3v2h-3zM1117 169h3v2h-3zM1120 167h3v2h-3zM1134 167h3v2h-3zM1134 171h3v2h-3zM1140 167h2v2h-2zM1154 169h2v2h-2z"/>
<path fill="#b4b4b4" d="M900 173h3v3h-3zM903 173h3v3h-3zM903 176h3v2h-3zM906 167h2v2h-2zM908 163h3v2h-3zM914 163h3v2h-3zM920 176h3v2h-3zM923 154h2v2h-2zM925 169h3v2h-3zM928 167h3v2h-3zM937 167h2v2h-2zM939 167h3v2h-3zM939 169h3v2h-3zM942 165h3v2h-3zM942 167h3v2h-3zM945 156h3v2h-3zM954 158h2v2h-2zM959 156h3v2h-3zM973 160h3v3h-3zM982 152h3v2h-3zM987 154h3v2h-3zM987 156h3v2h-3zM993 156h3v2h-3zM993 165h3v2h-3zM1044 163h3v2h-3zM1052 169h3v2h-3zM1072 165h3v2h-3zM1080 165h3v2h-3zM1092 169h2v2h-2zM1094 171h3v2h-3zM1117 171h3v2h-3zM1125 167h3v2h-3zM1131 167h3v2h-3zM1142 167h3v2h-3z"/>
<path fill="#c0c0c0" d="M903 178h3v2h-3zM906 178h2v2h-2zM908 171h3v2h-3zM908 176h3v2h-3zM911 176h3v2h-3zM917 165h3v2h-3zM920 167h3v2h-3zM920 173h3v3h-3zM923 171h2v2h-2zM925 154h3v2h-3zM931 167h3v2h-3zM934 167h3v2h-3zM945 163h3v2h-3zM951 160h3v3h-3zM951 165h3v2h-3zM968 160h2v3h-2zM976 160h3v3h-3zM982 163h3v2h-3zM985 152h2v2h-2zM990 156h3v2h-3zM990 165h3v2h-3zM1001 169h3v2h-3zM1004 169h3v2h-3zM1047 167h2v2h-2zM1058 171h3v2h-3zM1078 165h2v2h-2zM1092 171h2v2h-2zM1097 165h3v2h-3zM1097 171h3v2h-3zM1100 169h3v2h-3zM1106 171h3v2h-3zM1111 165h3v2h-3zM1131 171h3v2h-3zM1137 171h3v2h-3zM1140 171h2v2h-2zM1148 167h3v2h-3z"/>
<path fill="#c6c6c6" d="M900 167h3v2h-3zM903 169h3v2h-3zM906 176h2v2h-2zM914 160h3v3h-3zM914 173h3v3h-3zM914 176h3v2h-3zM914 178h3v2h-3zM917 156h3v2h-3zM917 171h3v2h-3zM923 158h2v2h-2zM923 173h2v3h-2zM925 156h3v2h-3zM928 152h3v2h-3zM928 165h3v2h-3zM934 149h3v3h-3zM939 149h3v3h-3zM945 160h3v3h-3zM945 167h3v2h-3zM948 169h3v2h-3zM951 156h3v2h-3zM951 158h3v2h-3zM979 149h3v3h-3zM985 154h2v2h-2zM987 165h3v2h-3zM1007 158h3v2h-3zM1007 160h3v3h-3zM1010 160h3v3h-3zM1010 169h3v2h-3zM1024 165h3v2h-3zM1038 171h3v2h-3zM1041 160h3v3h-3zM1055 169h3v2h-3zM1109 167h2v2h-2zM1111 169h3v2h-3zM1120 171h3v2h-3zM1123 165h2v2h-2zM1123 171h2v2h-2zM1128 171h3v2h-3zM1134 165h3v2h-3zM1137 169h3v2h-3zM1145 167h3v2h-3z"/>
<path fill="#cccccc" d="M903 160h3v3h-3zM906 169h2v2h-2zM906 173h2v3h-2zM914 156h3v2h-3zM917 158h3v2h-3zM917 173h3v3h-3zM917 178h3v2h-3zM923 156h2v2h-2zM923 176h2v2h-2zM925 158h3v2h-3zM928 171h3v2h-3zM931 152h3v2h-3zM934 147h3v2h-3zM934 152h3v2h-3zM934 169h3v2h-3zM939 152h3v2h-3zM942 149h3v3h-3zM951 171h3v2h-3zM965 149h3v3h-3zM965 165h3v2h-3zM970 160h3v3h-3zM973 147h3v2h-3zM985 165h2v2h-2zM990 167h3v2h-3zM999 169h2v2h-2zM1004 160h3v3h-3zM1016 169h2v2h-2zM1021 173h3v3h-3zM1024 173h3v3h-3zM1035 165h3v2h-3zM1055 171h3v2h-3zM1069 163h3v2h-3zM1083 171h3v2h-3zM1103 165h3v2h-3zM1106 165h3v2h-3zM1109 171h2v2h-2zM1111 171h3v2h-3zM1117 165h3v2h-3zM1120 165h3v2h-3zM1125 169h3v2h-3zM1125 171h3v2h-3zM1142 169h3v2h-3zM1145 169h3v2h-3zM1148 165h3v2h-3zM1148 169h3v2h-3z"/>
<path fill="#d2d2d2" d="M900 169h3v2h-3zM900 176h3v2h-3zM900 180h3v2h-3zM903 167h3v2h-3zM903 180h3v2h-3zM903 182h3v2h-3zM906 163h2v2h-2zM906 182h2v2h-2zM908 165h3v2h-3zM917 176h3v2h-3zM920 154h3v2h-3zM920 156h3v2h-3zM925 152h3v2h-3zM925 171h3v2h-3zM928 169h3v2h-3zM931 171h3v2h-3zM937 147h2v2h-2zM939 154h3v2h-3zM945 169h3v2h-3zM948 163h3v2h-3zM948 171h3v2h-3zM948 173h3v3h-3zM956 169h3v2h-3zM968 147h2v2h-2zM979 147h3v2h-3zM993 167h3v2h-3zM996 158h3v2h-3zM996 169h3v2h-3zM1013 171h3v2h-3zM1027 173h3v3h-3zM1030 165h2v2h-2zM1030 173h2v3h-2zM1038 163h3v2h-3zM1047 169h2v2h-2zM1049 171h3v2h-3zM1052 171h3v2h-3zM1063 163h3v2h-3zM1072 163h3v2h-3zM1072 173h3v3h-3zM1078 173h2v3h-2zM1086 165h3v2h-3zM1097 163h3v2h-3zM1100 163h3v2h-3zM1100 165h3v2h-3zM1103 171h3v2h-3zM1125 165h3v2h-3zM1128 165h3v2h-3zM1151 165h3v2h-3zM1151 167h3v2h-3zM1154 167h2v2h-2z"/>
<path fill="#d8d8d8" d="M900 184h3v3h-3zM900 187h3v2h-3zM903 165h3v2h-3zM906 165h2v2h-2zM908 158h3v2h-3zM908 178h3v2h-3zM911 158h3v2h-3zM911 160h3v3h-3zM911 173h3v3h-3zM914 158h3v2h-3zM920 158h3v2h-3zM937 149h2v3h-2zM937 169h2v2h-2zM939 147h3v2h-3zM939 171h3v2h-3zM939 173h3v3h-3zM942 171h3v2h-3zM945 152h3v2h-3zM945 154h3v2h-3zM948 156h3v2h-3zM951 173h3v3h-3zM954 154h2v2h-2zM954 156h2v2h-2zM954 169h2v2h-2zM962 149h3v3h-3zM962 152h3v2h-3zM965 163h3v2h-3zM970 147h3v2h-3zM973 145h3v2h-3zM996 156h3v2h-3zM999 158h2v2h-2zM1010 158h3v2h-3zM1010 171h3v2h-3zM1013 160h3v3h-3zM1016 171h2v2h-2zM1018 160h3v3h-3zM1018 171h3v2h-3zM1021 163h3v2h-3zM1024 163h3v2h-3zM1035 163h3v2h-3zM1035 173h3v3h-3zM1049 160h3v3h-3zM1049 169h3v2h-3zM1052 160h3v3h-3zM1058 163h3v2h-3zM1083 165h3v2h-3zM1092 163h2v2h-2zM1092 173h2v3h-2zM1100 171h3v2h-3zM1109 165h2v2h-2zM1128 167h3v2h-3zM1131 163h3v2h-3zM1137 165h3v2h-3zM1142 171h3v2h-3zM1151 169h3v2h-3zM1156 167h3v2h-3zM1156 169h3v2h-3z"/>
<path fill="#dedede" d="M900 163h3v2h-3zM900 182h3v2h-3zM900 189h3v2h-3zM906 158h2v2h-2zM906 187h2v2h-2zM908 160h3v3h-3zM911 178h3v2h-3zM911 182h3v2h-3zM914 154h3v2h-3zM914 180h3v2h-3zM917 154h3v2h-3zM917 182h3v2h-3zM920 178h3v2h-3zM920 180h3v2h-3zM928 173h3v3h-3zM931 149h3v3h-3zM931 169h3v2h-3zM942 152h3v2h-3zM942 169h3v2h-3zM954 152h2v2h-2zM956 171h3v2h-3zM959 152h3v2h-3zM962 167h3v2h-3zM965 147h3v2h-3zM968 167h2v2h-2zM970 163h3v2h-3zM976 145h3v2h-3zM979 163h3v2h-3zM993 169h3v2h-3zM999 154h2v2h-2zM999 156h2v2h-2zM1001 156h3v2h-3zM1004 158h3v2h-3zM1007 171h3v2h-3zM1035 176h3v2h-3zM1061 163h2v2h-2zM1066 173h3v3h-3zM1080 173h3v3h-3zM1089 173h3v3h-3zM1092 165h2v2h-2zM1137 163h3v2h-3zM1145 165h3v2h-3zM1145 171h3v2h-3zM1151 171h3v2h-3zM1159 167h3v2h-3zM1162 165h3v2h-3z"/>
<path fill="#eaeaea" d="M903 163h3v2h-3zM906 180h2v2h-2zM908 154h3v2h-3zM908 184h3v3h-3zM908 189h3v2h-3zM911 154h3v2h-3zM911 156h3v2h-3zM911 180h3v2h-3zM917 152h3v2h-3zM920 152h3v2h-3zM925 149h3v3h-3zM925 176h3v2h-3zM928 149h3v3h-3zM931 173h3v3h-3zM934 145h3v2h-3zM934 171h3v2h-3zM937 171h2v2h-2zM948 158h3v2h-3zM956 152h3v2h-3zM959 169h3v2h-3zM968 163h2v2h-2zM970 145h3v2h-3zM976 147h3v2h-3zM987 167h3v2h-3zM990 154h3v2h-3zM990 169h3v2h-3zM999 171h2v2h-2zM1016 160h2v3h-2zM1021 160h3v3h-3zM1024 178h3v2h-3zM1030 163h2v2h-2zM1030 176h2v2h-2zM1032 176h3v2h-3zM1041 173h3v3h-3zM1047 156h2v2h-2zM1047 158h2v2h-2zM1055 160h3v3h-3zM1058 160h3v3h-3zM1066 163h3v2h-3zM1078 163h2v2h-2zM1083 163h3v2h-3zM1086 163h3v2h-3zM1094 163h3v2h-3zM1094 173h3v3h-3zM1100 173h3v3h-3zM1106 163h3v2h-3zM1106 173h3v3h-3zM1111 173h3v3h-3zM1125 173h3v3h-3zM1131 165h3v2h-3zM1134 169h3v2h-3zM1137 173h3v3h-3zM1142 165h3v2h-3zM1142 173h3v3h-3zM1148 173h3v3h-3zM1156 165h3v2h-3zM1159 165h3v2h-3zM1162 163h3v2h-3z"/>
<path fill="#f0f0f0" d="M900 165h3v2h-3zM900 191h3v2h-3zM903 156h3v2h-3zM903 158h3v2h-3zM903 193h3v2h-3zM906 154h2v2h-2zM906 160h2v3h-2zM906 189h2v2h-2zM906 195h2v2h-2zM908 152h3v2h-3zM908 156h3v2h-3zM908 180h3v2h-3zM908 182h3v2h-3zM914 149h3v3h-3zM914 152h3v2h-3zM914 184h3v3h-3zM917 184h3v3h-3zM917 189h3v2h-3zM923 149h2v3h-2zM925 173h3v3h-3zM928 145h3v2h-3zM928 176h3v2h-3zM931 141h3v2h-3zM931 176h3v2h-3zM934 141h3v2h-3zM937 173h2v3h-2zM939 143h3v2h-3zM939 145h3v2h-3zM942 173h3v3h-3zM945 149h3v3h-3zM945 171h3v2h-3zM945 173h3v3h-3zM948 152h3v2h-3zM951 154h3v2h-3zM951 178h3v2h-3zM954 171h2v2h-2zM954 173h2v3h-2zM959 147h3v2h-3zM959 149h3v3h-3zM962 147h3v2h-3zM965 143h3v2h-3zM968 165h2v2h-2zM970 165h3v2h-3zM970 167h3v2h-3zM976 163h3v2h-3zM979 167h3v2h-3zM982 149h3v3h-3zM982 165h3v2h-3zM982 169h3v2h-3zM985 149h2v3h-2zM985 167h2v2h-2zM990 149h3v3h-3zM993 154h3v2h-3zM993 171h3v2h-3zM996 154h3v2h-3zM1004 156h3v2h-3zM1004 171h3v2h-3zM1004 173h3v3h-3zM1007 156h3v2h-3zM1013 158h3v2h-3zM1018 158h3v2h-3zM1027 176h3v2h-3zM1030 178h2v2h-2zM1032 165h3v2h-3zM1038 173h3v3h-3zM1041 158h3v2h-3zM1041 171h3v2h-3zM1044 158h3v2h-3zM1044 171h3v2h-3zM1055 173h3v3h-3zM1063 173h3v3h-3zM1066 160h3v3h-3zM1069 173h3v3h-3zM1080 176h3v2h-3zM1083 173h3v3h-3zM1089 163h3v2h-3zM1089 176h3v2h-3zM1103 163h3v2h-3zM1106 160h3v3h-3zM1114 173h3v3h-3zM1117 163h3v2h-3zM1123 163h2v2h-2zM1123 173h2v3h-2zM1128 163h3v2h-3zM1131 173h3v3h-3zM1134 163h3v2h-3zM1140 163h2v2h-2zM1140 165h2v2h-2zM1151 163h3v2h-3zM1154 163h2v2h-2zM1154 171h2v2h-2zM1156 163h3v2h-3zM1159 169h3v2h-3zM1162 167h3v2h-3zM1165 167h3v2h-3zM1165 171h3v2h-3zM1168 165h3v2h-3z"/>
<path fill="#f6f6f6" d="M900 154h3v2h-3zM900 158h3v2h-3zM900 195h3v2h-3zM903 154h3v2h-3zM903 187h3v2h-3zM903 189h3v2h-3zM903 195h3v2h-3zM903 197h3v3h-3zM906 156h2v2h-2zM906 184h2v3h-2zM906 197h2v3h-2zM908 187h3v2h-3zM911 184h3v3h-3zM914 182h3v2h-3zM917 143h3v2h-3zM917 149h3v3h-3zM917 180h3v2h-3zM917 187h3v2h-3zM920 147h3v2h-3zM920 149h3v3h-3zM920 184h3v3h-3zM923 147h2v2h-2zM923 180h2v2h-2zM925 145h3v2h-3zM925 182h3v2h-3zM925 187h3v2h-3zM928 178h3v2h-3zM931 134h3v2h-3zM931 147h3v2h-3zM934 173h3v3h-3zM934 176h3v2h-3zM934 180h3v2h-3zM937 143h2v2h-2zM937 176h2v2h-2zM937 178h2v2h-2zM937 182h2v2h-2zM939 139h3v2h-3zM942 147h3v2h-3zM948 149h3v3h-3zM948 154h3v2h-3zM951 149h3v3h-3zM951 152h3v2h-3zM951 176h3v2h-3zM954 176h2v2h-2zM954 178h2v2h-2zM954 182h2v2h-2zM956 149h3v3h-3zM956 176h3v2h-3zM956 178h3v2h-3zM959 171h3v2h-3zM962 143h3v2h-3zM962 171h3v2h-3zM965 167h3v2h-3zM965 169h3v2h-3zM970 139h3v2h-3zM970 143h3v2h-3zM973 141h3v2h-3zM973 163h3v2h-3zM976 143h3v2h-3zM976 165h3v2h-3zM976 167h3v2h-3zM979 165h3v2h-3zM982 147h3v2h-3zM982 167h3v2h-3zM987 169h3v2h-3zM993 152h3v2h-3zM996 152h3v2h-3zM996 173h3v3h-3zM1001 152h3v2h-3zM1001 154h3v2h-3zM1001 173h3v3h-3zM1007 173h3v3h-3zM1010 173h3v3h-3zM1013 173h3v3h-3zM1013 176h3v2h-3zM1016 158h2v2h-2zM1016 178h2v2h-2zM1018 173h3v3h-3zM1018 176h3v2h-3zM1021 158h3v2h-3zM1027 160h3v3h-3zM1027 163h3v2h-3zM1032 163h3v2h-3zM1032 178h3v2h-3zM1035 178h3v2h-3zM1044 156h3v2h-3zM1047 173h2v3h-2zM1049 156h3v2h-3zM1049 158h3v2h-3zM1052 158h3v2h-3zM1055 158h3v2h-3zM1061 160h2v3h-2zM1061 173h2v3h-2zM1063 160h3v3h-3zM1069 160h3v3h-3zM1069 176h3v2h-3zM1072 160h3v3h-3zM1072 176h3v2h-3zM1072 178h3v2h-3zM1075 160h3v3h-3zM1075 173h3v3h-3zM1075 176h3v2h-3zM1080 163h3v2h-3zM1083 158h3v2h-3zM1083 160h3v3h-3zM1086 173h3v3h-3zM1086 176h3v2h-3zM1086 178h3v2h-3zM1092 160h2v3h-2zM1092 176h2v2h-2zM1092 178h2v2h-2zM1094 176h3v2h-3zM1097 173h3v3h-3zM1103 173h3v3h-3zM1106 176h3v2h-3zM1111 160h3v3h-3zM1114 163h3v2h-3zM1117 173h3v3h-3zM1120 173h3v3h-3zM1120 176h3v2h-3zM1123 160h2v3h-2zM1125 163h3v2h-3zM1128 173h3v3h-3zM1134 160h3v3h-3zM1140 173h2v3h-2zM1140 178h2v2h-2zM1142 163h3v2h-3zM1142 176h3v2h-3zM1145 163h3v2h-3zM1145 173h3v3h-3zM1148 160h3v3h-3zM1148 163h3v2h-3zM1148 171h3v2h-3zM1154 165h2v2h-2zM1156 171h3v2h-3zM1156 173h3v3h-3zM1162 171h3v2h-3zM1165 163h3v2h-3zM1165 165h3v2h-3zM1168 169h3v2h-3zM1171 171h2v2h-2z"/>
<path transform="translate(0 .5)" stroke="#000" d="M1506 166h2m10 0h2M1501 167h2m1 0h4m1 0h2m2 0h2m1 0h4M1501 168h2m1 0h2m3 0h2m1 0h3m1 0h3M1512 169h2m3 0h2"/>
<path transform="translate(0 .5)" stroke="#000" d="M958 385h2M958 386h2M960 387h2M959 388h3M951 389h3m5 0h2M951 390h3m3 0h6M956 391h7M950 392h2m1 0h2m1 0h5m2 0h4m3 0h2M950 393h5m2 0h2m4 0h4m3 0h2M950 394h5m8 0h3M951 395h4m1 0h2m2 0h7M956 396h12M951 397h3m1 0h13M951 398h13m4 0h2M951 399h16m1 0h2M949 400h18M949 401h19M949 402h19M949 403h19M931 404h2m14 0h20m97 0h2M931 405h2m14 0h22m95 0h2M947 406h25m90 0h2M919 407h2m10 0h2m2 0h2m11 0h24m47 0h2m41 0h2M919 408h2m10 0h2m2 0h2m8 0h26m44 0h2m2 0h2m2 0h2M929 409h4m12 0h27m7 0h2m34 0h2m6 0h2m6 0h2M920 410h2m7 0h6m11 0h27m6 0h2m6 0h3m32 0h2m7 0h2M920 411h2m1 0h5m5 0h2m11 0h27m14 0h3m32 0h2M919 412h3m1 0h9m15 0h26m77 0h2m6 0h5m1 0h2M904 413h2m9 0h2m2 0h3m1 0h4m1 0h4m13 0h28m44 0h4m29 0h4m4 0h5m1 0h2m94 0h2m15 0h2M904 414h2m2 0h2m5 0h2m3 0h2m4 0h2m4 0h4m1 0h2m2 0h2m2 0h27m2 0h2m41 0h4m3 0h2m2 0h2m1 0h2m18 0h5m2 0h2m42 0h2m12 0h4m40 0h2m15 0h2M901 415h2m5 0h2m7 0h2m1 0h2m3 0h3m1 0h7m1 0h2m2 0h2m1 0h29m1 0h2m4 0h2m7 0h2m10 0h2m5 0h2m4 0h2m8 0h3m1 0h2m1 0h2m14 0h2m2 0h5m1 0h5m1 0h2m37 0h2m4 0h2m6 0h4m17 0h2m2 0h2m34 0h2M901 416h2m14 0h7m1 0h9m10 0h29m5 0h4m2 0h4m1 0h2m10 0h3m4 0h2m4 0h3m1 0h2m3 0h4m1 0h3m8 0h3m4 0h3m3 0h13m9 0h2m2 0h2m11 0h3m2 0h2m10 0h3m11 0h2m13 0h2m1 0h3m34 0h2M908 417h5m6 0h5m1 0h13m5 0h31m4 0h3m3 0h4m3 0h2m1 0h2m6 0h4m1 0h2m3 0h2m1 0h12m2 0h2m1 0h6m1 0h6m1 0h2m1 0h18m7 0h2m2 0h2m2 0h2m2 0h2m3 0h3m2 0h2m4 0h2m5 0h2m4 0h2m1 0h2m2 0h3m4 0h2m1 0h2m6 0h2m31 0h2M904 418h2m2 0h5m3 0h2m3 0h2m2 0h14m4 0h31m4 0h2m8 0h8m6 0h4m1 0h3m2 0h2m1 0h3m1 0h5m1 0h2m2 0h2m1 0h6m3 0h26m11 0h2m2 0h2m2 0h2m3 0h4m3 0h2m2 0h2m4 0h2m5 0h5m2 0h4m3 0h5m5 0h4m6 0h2m6 0h8m7 0h3m2 0h2m1 0h2M901 419h5m2 0h3m2 0h27m1 0h2m1 0h31m1 0h4m3 0h2m3 0h3m1 0h4m6 0h2m4 0h3m2 0h26m2 0h2m1 0h21m13 0h2m11 0h4m2 0h3m6 0h4m1 0h2m2 0h4m3 0h4m5 0h3m1 0h2m1 0h5m1 0h2m3 0h3m1 0h2m2 0h8m7 0h2m1 0h4m1 0h2M901 420h3m2 0h2m1 0h2m1 0h28m1 0h2m1 0h36m1 0h4m3 0h2m2 0h4m1 0h3m3 0h2m3 0h36m1 0h22m11 0h2m2 0h2m8 0h9m2 0h10m1 0h3m1 0h2m3 0h3m5 0h3m1 0h2m1 0h2m3 0h3m2 0h4m1 0h2m2 0h2m5 0h2m5 0h3m1 0h4M902 421h2m1 0h5m2 0h28m1 0h39m1 0h2m1 0h5m3 0h13m1 0h12m2 0h47m1 0h5m3 0h8m5 0h2m1 0h9m2 0h8m3 0h6m2 0h2m3 0h2m1 0h2m1 0h2m8 0h11m2 0h3m2 0h5m2 0h2m1 0h3M901 422h3m1 0h7m1 0h48m3 0h17m1 0h7m3 0h13m1 0h60m1 0h7m2 0h2m1 0h8m2 0h15m1 0h15m1 0h14m1 0h2m2 0h8m1 0h17m2 0h2m1 0h4M901 423h7m1 0h55m1 0h21m1 0h11m2 0h5m1 0h2m2 0h65m1 0h28m1 0h13m1 0h44m1 0h2m7 0h2M902 424h6m1 0h8m1 0h32m1 0h35m1 0h21m1 0h72m1 0h12m2 0h8m1 0h16m1 0h14m1 0h26M901 425h7m2 0h41m1 0h39m1 0h2m1 0h69m2 0h15m2 0h52m1 0h29M901 426h1m2 0h47m1 0h2m2 0h100m1 0h7m2 0h35m1 0h58m1 0h4M901 427h48m11 0h104m1 0h2m2 0h35m1 0h15m1 0h44M901 428h49m1 0h2m11 0h65m1 0h90m1 0h40m2 0h2M901 429h49m1 0h2m13 0h188m1 0h5M901 430h49m9 0h2m4 0h186m4 0h2M901 431h46m12 0h2m4 0h2m1 0h86m2 0h97m5 0h2M901 432h46m20 0h89m1 0h82m2 0h8m1 0h4m4 0h2M901 433h48m5 0h2m8 0h2m1 0h178m1 0h8M901 434h45m1 0h2m4 0h3m8 0h73m2 0h98m1 0h7m3 0h6M901 435h45m2 0h2m2 0h3m11 0h61m2 0h9m1 0h2m2 0h76m4 0h19m1 0h3m2 0h3M901 436h45m2 0h3m1 0h2m10 0h2m2 0h62m1 0h7m5 0h11m1 0h65m4 0h18m1 0h4m2 0h2M901 437h45m1 0h4m6 0h2m5 0h2m2 0h62m3 0h4m7 0h2m1 0h57m1 0h12m1 0h2m2 0h2m2 0h4m2 0h2m5 0h8M901 438h45m1 0h2m8 0h2m10 0h57m1 0h5m1 0h4m1 0h2m2 0h4m1 0h62m1 0h7m1 0h6m2 0h2m11 0h8M901 439h45m23 0h54m1 0h9m5 0h2m2 0h66m2 0h7m2 0h3m4 0h2M901 440h45m25 0h51m1 0h6m1 0h3m11 0h10m1 0h10m1 0h25m1 0h6m9 0h2m1 0h10M901 441h27m1 0h17m25 0h51m1 0h3m1 0h2m1 0h3m7 0h2m3 0h40m1 0h4m2 0h2m1 0h4m8 0h2m1 0h4m2 0h4m1 0h2m6 0h4M901 442h45m23 0h40m1 0h7m3 0h2m1 0h2m2 0h2m1 0h3m7 0h2m3 0h2m1 0h37m1 0h4m3 0h6m9 0h3m6 0h2m2 0h2m6 0h4M901 443h45m23 0h50m3 0h3m20 0h2m1 0h2m1 0h30m2 0h7m3 0h2m2 0h2m1 0h2m1 0h2m3 0h3m1 0h2m4 0h2m10 0h2M901 444h27m1 0h17m23 0h41m1 0h2m1 0h5m3 0h2m24 0h2m1 0h12m2 0h7m2 0h2m3 0h2m2 0h3m11 0h2m1 0h2m1 0h2m4 0h2m1 0h4m2 0h2M901 445h45m26 0h33m2 0h10m31 0h2m1 0h2m1 0h8m1 0h8m2 0h4m2 0h2m8 0h2m12 0h2m4 0h2m3 0h2M901 446h21m1 0h15m1 0h7m26 0h16m3 0h10m1 0h3m2 0h8m1 0h2m28 0h2m2 0h3m3 0h3m1 0h2m1 0h8m2 0h4m2 0h2m8 0h2M901 447h1m1 0h15m1 0h2m3 0h10m2 0h3m1 0h2m1 0h2m24 0h2m2 0h7m1 0h7m4 0h10m1 0h2m2 0h2m7 0h2m28 0h2m1 0h4m5 0h2m3 0h6m1 0h2m4 0h2M901 448h15m1 0h4m3 0h5m5 0h11m24 0h2m7 0h3m1 0h4m9 0h2m3 0h2m4 0h2m2 0h3m36 0h2m7 0h2m3 0h4m3 0h2m4 0h2m16 0h2m1 0h2M901 449h15m1 0h3m4 0h2m6 0h5m1 0h7m31 0h5m2 0h2m7 0h2m2 0h2m1 0h2m5 0h2m2 0h3m34 0h2m4 0h2m10 0h2m27 0h2m1 0h2M901 450h14m2 0h3m2 0h4m6 0h5m1 0h7m28 0h2m1 0h2m5 0h3m5 0h7m1 0h2m46 0h2m3 0h3m22 0h2M901 451h8m1 0h9m1 0h4m16 0h2m1 0h2m28 0h2m8 0h3m2 0h10m3 0h2m1 0h2m3 0h2m41 0h2m8 0h2m13 0h2M901 452h18m1 0h2m4 0h2m12 0h2m40 0h2m2 0h6m3 0h2m4 0h2m1 0h2m3 0h2m51 0h2M901 453h10m15 0h2m12 0h2m33 0h2m5 0h2m2 0h2m75 0h2m28 0h2M901 454h8m34 0h2m30 0h2m86 0h2m28 0h2M901 455h8m34 0h2M901 456h6M901 457h5m9 0h2M901 458h5m2 0h2m5 0h4m64 0h2M901 459h2m5 0h2m7 0h2m9 0h2m53 0h2m3 0h2M901 460h2m25 0h2m58 0h2m28 0h2M914 461h2m102 0h2M914 462h2M901 463h1M901 464h1"/>
<path transform="translate(0 .5)" stroke="#000" d="M1239 422h2m181 0h2m19 0h2M1239 423h2m36 0h2m61 0h2m10 0h2m3 0h2m61 0h6m5 0h2m10 0h2m9 0h2M1244 424h2m4 0h2m24 0h4m53 0h4m2 0h8m1 0h7m1 0h8m1 0h3m43 0h4m1 0h2m2 0h7m2 0h6m3 0h2m14 0h3m6 0h2m3 0h2m3 0h2M1239 425h14m4 0h2m3 0h2m2 0h2m3 0h3m1 0h6m52 0h4m2 0h29m16 0h2m2 0h2m1 0h3m1 0h2m8 0h2m2 0h6m1 0h2m2 0h2m1 0h12m1 0h11m6 0h4m1 0h3m1 0h4m2 0h7m8 0h2M1239 426h21m2 0h7m2 0h11m36 0h2m4 0h3m1 0h6m1 0h35m6 0h3m1 0h2m2 0h2m2 0h6m1 0h3m1 0h9m1 0h13m1 0h2m1 0h5m1 0h25m1 0h24m1 0h6M1239 427h44m13 0h2m10 0h2m8 0h2m4 0h49m1 0h9m2 0h72m1 0h33M1239 428h44m13 0h2m1 0h5m2 0h7m1 0h181m1 0h4M1239 429h47m8 0h208m1 0h2m5 0h2M1239 430h47m6 0h216m2 0h4M1239 431h51m1 0h218m3 0h2m2 0h3M1239 432h260m1 0h9m3 0h2m2 0h3M1239 433h119m1 0h112m2 0h26m10 0h2m1 0h2M1239 434h37m2 0h68m1 0h9m1 0h2m1 0h78m4 0h4m3 0h15m1 0h3m1 0h2m2 0h3m1 0h4m6 0h2m2 0h3m15 0h2M1239 435h35m8 0h64m2 0h7m2 0h2m1 0h2m2 0h2m5 0h45m1 0h11m3 0h6m5 0h4m3 0h3m1 0h2m3 0h4m3 0h2m6 0h2M1239 436h8m2 0h6m3 0h17m8 0h59m8 0h2m1 0h2m17 0h39m1 0h3m3 0h2m1 0h3m1 0h2m4 0h3m16 0h2m1 0h2m3 0h2m5 0h2M1239 437h2m19 0h9m4 0h2m10 0h47m2 0h3m2 0h2m26 0h2m3 0h2m1 0h2m6 0h8m2 0h6m1 0h4m1 0h2m1 0h2m2 0h4m9 0h2m4 0h2M1286 438h41m3 0h2m35 0h2m16 0h8m4 0h2m3 0h2m8 0h4M1287 439h29m71 0h2m2 0h2M1289 440h6m1 0h6m2 0h12M1289 441h6m4 0h3m10 0h2M1291 442h3m6 0h2"/>
<path fill="#121212" d="M1731 163h3v2h-3z"/>
<path fill="#303030" d="M1858 167h3v2h-3z"/>
<path fill="#363636" d="M1793 160h3v3h-3z"/>
<path fill="#3c3c3c" d="M1770 154h3v2h-3zM1776 154h3v2h-3z"/>
<path fill="#424242" d="M1765 158h3v2h-3zM1779 156h3v2h-3zM1852 167h3v2h-3z"/>
<path fill="#484848" d="M1731 158h3v2h-3z"/>
<path fill="#4e4e4e" d="M1787 160h3v3h-3zM1866 167h3v2h-3z"/>
<path fill="#545454" d="M1835 169h3v2h-3z"/>
<path fill="#5a5a5a" d="M1734 160h3v3h-3zM1770 156h3v2h-3zM1796 160h3v3h-3zM1855 165h3v2h-3zM1869 167h3v2h-3zM1875 167h3v2h-3zM1878 169h2v2h-2z"/>
<path fill="#606060" d="M1725 160h3v3h-3zM1754 165h2v2h-2zM1768 154h2v2h-2zM1785 158h2v2h-2zM1785 160h2v3h-2zM1790 158h3v2h-3zM1801 165h3v2h-3zM1818 165h3v2h-3zM1863 167h3v2h-3zM1875 169h3v2h-3z"/>
<path fill="#666666" d="M1739 158h3v2h-3zM1762 158h3v2h-3zM1770 149h3v3h-3zM1796 163h3v2h-3zM1799 163h2v2h-2zM1799 165h2v2h-2zM1824 167h3v2h-3zM1827 169h3v2h-3z"/>
<path fill="#6c6c6c" d="M1731 167h3v2h-3zM1737 158h2v2h-2zM1754 163h2v2h-2zM1768 156h2v2h-2zM1779 154h3v2h-3zM1779 158h3v2h-3zM1787 158h3v2h-3zM1847 163h2v2h-2zM1852 165h3v2h-3zM1858 165h3v2h-3zM1889 169h3v2h-3z"/>
<path fill="#727272" d="M1734 158h3v2h-3zM1737 156h2v2h-2zM1756 165h3v2h-3zM1790 160h3v3h-3zM1790 163h3v2h-3zM1807 165h3v2h-3zM1816 167h2v2h-2zM1841 165h3v2h-3zM1861 167h2v2h-2zM1906 167h3v2h-3z"/>
<path fill="#787878" d="M1731 165h3v2h-3zM1734 156h3v2h-3zM1739 163h3v2h-3zM1762 156h3v2h-3zM1768 158h2v2h-2zM1782 158h3v2h-3zM1821 169h3v2h-3zM1830 169h2v2h-2zM1847 165h2v2h-2z"/>
<path fill="#7e7e7e" d="M1731 160h3v3h-3zM1737 163h2v2h-2zM1756 160h3v3h-3zM1773 152h3v2h-3zM1773 154h3v2h-3zM1776 152h3v2h-3zM1776 158h3v2h-3zM1782 156h3v2h-3zM1801 160h3v3h-3zM1801 163h3v2h-3zM1804 167h3v2h-3zM1813 167h3v2h-3z"/>
<path fill="#848484" d="M1723 163h2v2h-2zM1739 156h3v2h-3zM1770 152h3v2h-3zM1804 163h3v2h-3zM1810 167h3v2h-3zM1841 167h3v2h-3zM1872 167h3v2h-3zM1872 169h3v2h-3zM1880 167h3v2h-3zM1883 169h3v2h-3zM1886 167h3v2h-3z"/>
<path fill="#8a8a8a" d="M1720 167h3v2h-3zM1734 165h3v2h-3zM1759 158h3v2h-3zM1759 160h3v3h-3zM1762 154h3v2h-3zM1773 156h3v2h-3zM1776 156h3v2h-3zM1821 167h3v2h-3zM1832 169h3v2h-3zM1844 163h3v2h-3zM1849 167h3v2h-3zM1861 169h2v2h-2zM1866 169h3v2h-3zM1892 167h2v2h-2zM1925 169h3v2h-3z"/>
<path fill="#909090" d="M1708 169h3v2h-3zM1723 158h2v2h-2zM1723 169h2v2h-2zM1728 160h3v3h-3zM1728 163h3v2h-3zM1734 163h3v2h-3zM1737 160h2v3h-2zM1768 160h2v3h-2zM1773 149h3v3h-3zM1787 156h3v2h-3zM1810 165h3v2h-3zM1813 165h3v2h-3zM1818 167h3v2h-3zM1827 167h3v2h-3zM1830 171h2v2h-2zM1844 167h3v2h-3zM1849 165h3v2h-3zM1863 165h3v2h-3zM1880 169h3v2h-3z"/>
<path fill="#969696" d="M1723 165h2v2h-2zM1725 163h3v2h-3zM1737 154h2v2h-2zM1737 167h2v2h-2zM1739 160h3v3h-3zM1751 163h3v2h-3zM1751 165h3v2h-3zM1765 160h3v3h-3zM1782 154h3v2h-3zM1790 156h3v2h-3zM1804 160h3v3h-3zM1816 163h2v2h-2zM1816 165h2v2h-2zM1824 169h3v2h-3zM1835 171h3v2h-3zM1838 167h3v2h-3zM1841 163h3v2h-3zM1852 163h3v2h-3zM1855 163h3v2h-3zM1869 169h3v2h-3zM1878 167h2v2h-2zM1886 165h3v2h-3zM1900 171h3v2h-3zM1909 167h2v2h-2zM1914 169h3v2h-3zM1928 167h3v2h-3zM1931 169h3v2h-3zM1940 167h2v2h-2z"/>
<path fill="#9c9c9c" d="M1708 167h3v2h-3zM1723 160h2v3h-2zM1725 169h3v2h-3zM1728 167h3v2h-3zM1737 149h2v3h-2zM1754 158h2v2h-2zM1754 160h2v3h-2zM1754 167h2v2h-2zM1762 152h3v2h-3zM1765 154h3v2h-3zM1765 156h3v2h-3zM1793 163h3v2h-3zM1799 160h2v3h-2zM1813 163h3v2h-3zM1821 165h3v2h-3zM1838 165h3v2h-3zM1886 169h3v2h-3zM1903 167h3v2h-3zM1909 169h2v2h-2z"/>
<path fill="#a2a2a2" d="M1717 167h3v2h-3zM1720 169h3v2h-3zM1728 169h3v2h-3zM1731 156h3v2h-3zM1734 154h3v2h-3zM1742 160h3v3h-3zM1745 163h3v2h-3zM1756 163h3v2h-3zM1770 158h3v2h-3zM1773 158h3v2h-3zM1782 160h3v3h-3zM1799 167h2v2h-2zM1810 160h3v3h-3zM1810 163h3v2h-3zM1816 169h2v2h-2zM1818 169h3v2h-3zM1849 163h3v2h-3zM1861 165h2v2h-2zM1863 169h3v2h-3zM1875 171h3v2h-3zM1892 169h2v2h-2zM1906 169h3v2h-3zM1920 167h3v2h-3zM1948 167h3v2h-3z"/>
<path fill="#a8a8a8" d="M1706 167h2v2h-2zM1711 165h3v2h-3zM1711 167h3v2h-3zM1714 165h3v2h-3zM1714 167h3v2h-3zM1720 165h3v2h-3zM1725 165h3v2h-3zM1728 158h3v2h-3zM1742 163h3v2h-3zM1779 152h3v2h-3zM1785 156h2v2h-2zM1835 167h3v2h-3zM1838 169h3v2h-3zM1844 165h3v2h-3zM1847 167h2v2h-2zM1858 169h3v2h-3zM1866 165h3v2h-3zM1869 165h3v2h-3zM1878 165h2v2h-2zM1900 167h3v2h-3zM1903 169h3v2h-3zM1911 169h3v2h-3zM1934 169h3v2h-3z"/>
<path fill="#aeaeae" d="M1708 176h3v2h-3zM1711 160h3v3h-3zM1717 160h3v3h-3zM1728 156h3v2h-3zM1742 156h3v2h-3zM1742 158h3v2h-3zM1748 163h3v2h-3zM1768 152h2v2h-2zM1782 163h3v2h-3zM1801 158h3v2h-3zM1804 165h3v2h-3zM1818 163h3v2h-3zM1832 171h3v2h-3zM1847 160h2v3h-2zM1849 160h3v3h-3zM1849 169h3v2h-3zM1880 165h3v2h-3zM1897 169h3v2h-3zM1906 165h3v2h-3zM1911 167h3v2h-3zM1917 169h3v2h-3zM1920 169h3v2h-3z"/>
<path fill="#b4b4b4" d="M1700 173h3v3h-3zM1700 176h3v2h-3zM1706 176h2v2h-2zM1711 173h3v3h-3zM1714 169h3v2h-3zM1717 169h3v2h-3zM1720 160h3v3h-3zM1720 163h3v2h-3zM1720 171h3v2h-3zM1723 167h2v2h-2zM1725 158h3v2h-3zM1728 165h3v2h-3zM1731 152h3v2h-3zM1731 154h3v2h-3zM1734 167h3v2h-3zM1737 165h2v2h-2zM1739 154h3v2h-3zM1739 165h3v2h-3zM1742 165h3v2h-3zM1742 167h3v2h-3zM1745 165h3v2h-3zM1748 160h3v3h-3zM1751 158h3v2h-3zM1751 160h3v3h-3zM1756 169h3v2h-3zM1759 154h3v2h-3zM1759 156h3v2h-3zM1759 163h3v2h-3zM1765 152h3v2h-3zM1770 147h3v2h-3zM1773 160h3v3h-3zM1776 149h3v3h-3zM1779 160h3v3h-3zM1785 154h2v2h-2zM1787 154h3v2h-3zM1787 163h3v2h-3zM1787 165h3v2h-3zM1793 158h3v2h-3zM1793 165h3v2h-3zM1796 165h3v2h-3zM1796 167h3v2h-3zM1807 158h3v2h-3zM1807 160h3v3h-3zM1807 163h3v2h-3zM1807 167h3v2h-3zM1807 169h3v2h-3zM1810 169h3v2h-3zM1821 163h3v2h-3zM1821 171h3v2h-3zM1827 173h3v3h-3zM1830 167h2v2h-2zM1832 173h3v3h-3zM1838 171h3v2h-3zM1841 169h3v2h-3zM1852 169h3v2h-3zM1855 167h3v2h-3zM1863 171h3v2h-3zM1866 171h3v2h-3zM1872 171h3v2h-3zM1875 165h3v2h-3zM1878 171h2v2h-2zM1883 167h3v2h-3zM1886 171h3v2h-3zM1889 167h3v2h-3zM1894 167h3v2h-3zM1894 171h3v2h-3zM1897 167h3v2h-3zM1897 171h3v2h-3zM1914 167h3v2h-3zM1917 165h3v2h-3zM1917 167h3v2h-3zM1923 167h2v2h-2zM1923 169h2v2h-2zM1925 165h3v2h-3zM1954 169h2v2h-2z"/>
<path fill="#bababa" d="M1700 171h3v2h-3zM1700 180h3v2h-3zM1703 169h3v2h-3zM1703 178h3v2h-3zM1708 160h3v3h-3zM1708 171h3v2h-3zM1711 163h3v2h-3zM1714 163h3v2h-3zM1717 163h3v2h-3zM1725 167h3v2h-3zM1734 152h3v2h-3zM1737 152h2v2h-2zM1742 154h3v2h-3zM1745 158h3v2h-3zM1748 167h3v2h-3zM1759 167h3v2h-3zM1762 163h3v2h-3zM1765 163h3v2h-3zM1813 169h3v2h-3zM1824 171h3v2h-3zM1832 167h3v2h-3zM1883 165h3v2h-3zM1894 169h3v2h-3zM1900 169h3v2h-3zM1925 167h3v2h-3zM1934 171h3v2h-3zM1940 169h2v2h-2zM1945 167h3v2h-3zM1951 167h3v2h-3zM1956 167h3v2h-3z"/>
<path fill="#c0c0c0" d="M1703 171h3v2h-3zM1706 171h2v2h-2zM1706 180h2v2h-2zM1708 163h3v2h-3zM1708 173h3v3h-3zM1711 169h3v2h-3zM1711 171h3v2h-3zM1714 173h3v3h-3zM1717 165h3v2h-3zM1717 171h3v2h-3zM1725 156h3v2h-3zM1725 171h3v2h-3zM1728 149h3v3h-3zM1728 171h3v2h-3zM1748 158h3v2h-3zM1748 165h3v2h-3zM1756 158h3v2h-3zM1762 160h3v3h-3zM1762 165h3v2h-3zM1799 158h2v2h-2zM1816 171h2v2h-2zM1855 169h3v2h-3zM1880 171h3v2h-3zM1897 165h3v2h-3zM1909 165h2v2h-2zM1914 171h3v2h-3zM1928 169h3v2h-3zM1931 167h3v2h-3zM1934 167h3v2h-3zM1937 167h3v2h-3zM1945 169h3v2h-3zM1948 165h3v2h-3z"/>
<path fill="#c6c6c6" d="M1700 169h3v2h-3zM1703 165h3v2h-3zM1708 178h3v2h-3zM1714 171h3v2h-3zM1717 158h3v2h-3zM1720 156h3v2h-3zM1723 152h2v2h-2zM1731 149h3v3h-3zM1731 169h3v2h-3zM1734 149h3v3h-3zM1734 169h3v2h-3zM1739 149h3v3h-3zM1745 160h3v3h-3zM1751 167h3v2h-3zM1754 169h2v2h-2zM1765 149h3v3h-3zM1768 149h2v3h-2zM1776 160h3v3h-3zM1782 152h3v2h-3zM1793 154h3v2h-3zM1799 156h2v2h-2zM1801 169h3v2h-3zM1813 160h3v3h-3zM1824 165h3v2h-3zM1855 171h3v2h-3zM1858 171h3v2h-3zM1872 165h3v2h-3zM1883 171h3v2h-3zM1892 165h2v2h-2zM1900 165h3v2h-3zM1911 171h3v2h-3zM1931 165h3v2h-3zM1937 169h3v2h-3zM1942 167h3v2h-3zM1954 167h2v2h-2z"/>
<path fill="#cccccc" d="M1700 182h3v2h-3zM1703 167h3v2h-3zM1703 173h3v3h-3zM1708 158h3v2h-3zM1711 158h3v2h-3zM1711 176h3v2h-3zM1714 158h3v2h-3zM1714 160h3v3h-3zM1720 158h3v2h-3zM1725 154h3v2h-3zM1728 154h3v2h-3zM1739 152h3v2h-3zM1745 171h3v2h-3zM1751 171h3v2h-3zM1754 154h2v2h-2zM1754 156h2v2h-2zM1756 167h3v2h-3zM1759 165h3v2h-3zM1785 163h2v2h-2zM1790 165h3v2h-3zM1796 156h3v2h-3zM1799 169h2v2h-2zM1830 173h2v3h-2zM1835 173h3v3h-3zM1858 163h3v2h-3zM1861 163h2v2h-2zM1869 171h3v2h-3zM1906 171h3v2h-3zM1914 165h3v2h-3zM1917 171h3v2h-3zM1925 171h3v2h-3zM1945 165h3v2h-3zM1954 171h2v2h-2z"/>
<path fill="#d2d2d2" d="M1703 180h3v2h-3zM1706 165h2v2h-2zM1706 169h2v2h-2zM1706 178h2v2h-2zM1711 178h3v2h-3zM1714 154h3v2h-3zM1717 173h3v3h-3zM1723 156h2v2h-2zM1728 173h3v3h-3zM1737 169h2v2h-2zM1739 167h3v2h-3zM1745 154h3v2h-3zM1745 167h3v2h-3zM1756 171h3v2h-3zM1759 152h3v2h-3zM1768 147h2v2h-2zM1768 163h2v2h-2zM1770 160h3v3h-3zM1779 149h3v3h-3zM1785 167h2v2h-2zM1790 154h3v2h-3zM1793 156h3v2h-3zM1796 158h3v2h-3zM1801 167h3v2h-3zM1818 160h3v3h-3zM1827 171h3v2h-3zM1832 165h3v2h-3zM1835 165h3v2h-3zM1866 173h3v3h-3zM1869 173h3v3h-3zM1894 165h3v2h-3zM1909 171h2v2h-2zM1911 165h3v2h-3zM1920 165h3v2h-3zM1928 165h3v2h-3zM1934 165h3v2h-3zM1945 171h3v2h-3zM1951 165h3v2h-3zM1951 169h3v2h-3zM1956 165h3v2h-3zM1959 169h3v2h-3z"/>
<path fill="#d8d8d8" d="M1700 167h3v2h-3zM1703 176h3v2h-3zM1706 160h2v3h-2zM1706 173h2v3h-2zM1723 154h2v2h-2zM1723 171h2v2h-2zM1723 176h2v2h-2zM1728 152h3v2h-3zM1739 171h3v2h-3zM1745 156h3v2h-3zM1745 169h3v2h-3zM1754 171h2v2h-2zM1756 152h3v2h-3zM1765 145h3v2h-3zM1773 147h3v2h-3zM1776 163h3v2h-3zM1779 163h3v2h-3zM1793 169h3v2h-3zM1804 158h3v2h-3zM1804 169h3v2h-3zM1813 171h3v2h-3zM1816 160h2v3h-2zM1818 171h3v2h-3zM1838 173h3v3h-3zM1841 160h3v3h-3zM1844 160h3v3h-3zM1844 169h3v2h-3zM1861 171h2v2h-2zM1863 163h3v2h-3zM1863 173h3v3h-3zM1878 173h2v3h-2zM1889 171h3v2h-3zM1892 171h2v2h-2zM1920 163h3v2h-3zM1940 171h2v2h-2zM1942 165h3v2h-3zM1942 171h3v2h-3zM1948 169h3v2h-3zM1956 171h3v2h-3zM1959 171h3v2h-3z"/>
<path fill="#dedede" d="M1700 154h3v2h-3zM1703 156h3v2h-3zM1703 182h3v2h-3zM1706 156h2v2h-2zM1706 163h2v2h-2zM1708 152h3v2h-3zM1708 165h3v2h-3zM1708 180h3v2h-3zM1714 176h3v2h-3zM1717 156h3v2h-3zM1717 176h3v2h-3zM1720 173h3v3h-3zM1725 149h3v3h-3zM1725 173h3v3h-3zM1725 176h3v2h-3zM1734 145h3v2h-3zM1737 171h2v2h-2zM1739 147h3v2h-3zM1742 149h3v3h-3zM1742 169h3v2h-3zM1745 173h3v3h-3zM1751 169h3v2h-3zM1756 156h3v2h-3zM1762 149h3v3h-3zM1765 165h3v2h-3zM1770 145h3v2h-3zM1773 163h3v2h-3zM1776 147h3v2h-3zM1782 165h3v2h-3zM1790 167h3v2h-3zM1801 156h3v2h-3zM1807 171h3v2h-3zM1824 160h3v3h-3zM1827 165h3v2h-3zM1827 176h3v2h-3zM1835 163h3v2h-3zM1838 163h3v2h-3zM1858 160h3v3h-3zM1875 163h3v2h-3zM1880 163h3v2h-3zM1883 173h3v3h-3zM1889 165h3v2h-3zM1894 163h3v2h-3zM1903 165h3v2h-3zM1903 171h3v2h-3zM1903 173h3v3h-3zM1911 173h3v3h-3zM1920 171h3v2h-3zM1923 165h2v2h-2zM1923 171h2v2h-2zM1937 171h3v2h-3zM1940 165h2v2h-2zM1940 173h2v3h-2zM1942 169h3v2h-3z"/>
<path fill="#e4e4e4" d="M1700 165h3v2h-3zM1700 178h3v2h-3zM1700 187h3v2h-3zM1700 189h3v2h-3zM1703 158h3v2h-3zM1703 187h3v2h-3zM1708 184h3v3h-3zM1711 154h3v2h-3zM1714 178h3v2h-3zM1714 180h3v2h-3zM1717 178h3v2h-3zM1720 154h3v2h-3zM1720 176h3v2h-3zM1723 173h2v3h-2zM1723 180h2v2h-2zM1725 152h3v2h-3zM1728 176h3v2h-3zM1731 147h3v2h-3zM1731 171h3v2h-3zM1739 169h3v2h-3zM1748 169h3v2h-3zM1751 156h3v2h-3zM1751 173h3v3h-3zM1754 152h2v2h-2zM1759 169h3v2h-3zM1770 163h3v2h-3zM1782 167h3v2h-3zM1790 152h3v2h-3zM1793 152h3v2h-3zM1796 169h3v2h-3zM1810 171h3v2h-3zM1816 173h2v3h-2zM1821 160h3v3h-3zM1821 173h3v3h-3zM1844 158h3v2h-3zM1844 171h3v2h-3zM1847 169h2v2h-2zM1852 160h3v3h-3zM1866 163h3v2h-3zM1872 173h3v3h-3zM1880 173h3v3h-3zM1886 173h3v3h-3zM1894 173h3v3h-3zM1897 173h3v3h-3zM1914 173h3v3h-3zM1928 171h3v2h-3zM1931 171h3v2h-3zM1934 173h3v3h-3zM1937 165h3v2h-3zM1948 163h3v2h-3zM1948 171h3v2h-3zM1959 165h3v2h-3z"/>
<path fill="#eaeaea" d="M1700 163h3v2h-3zM1703 160h3v3h-3zM1703 184h3v3h-3zM1703 193h3v2h-3zM1706 158h2v2h-2zM1706 182h2v2h-2zM1708 156h3v2h-3zM1711 156h3v2h-3zM1711 182h3v2h-3zM1714 152h3v2h-3zM1714 182h3v2h-3zM1717 152h3v2h-3zM1720 178h3v2h-3zM1723 178h2v2h-2zM1725 178h3v2h-3zM1731 173h3v3h-3zM1734 147h3v2h-3zM1734 176h3v2h-3zM1737 145h2v2h-2zM1737 147h2v2h-2zM1745 152h3v2h-3zM1748 176h3v2h-3zM1751 154h3v2h-3zM1754 176h2v2h-2zM1756 154h3v2h-3zM1756 173h3v3h-3zM1776 143h3v2h-3zM1776 165h3v2h-3zM1779 147h3v2h-3zM1779 165h3v2h-3zM1782 149h3v3h-3zM1785 165h2v2h-2zM1787 167h3v2h-3zM1790 169h3v2h-3zM1793 167h3v2h-3zM1799 171h2v2h-2zM1801 171h3v2h-3zM1804 171h3v2h-3zM1804 173h3v3h-3zM1813 156h3v2h-3zM1813 158h3v2h-3zM1824 173h3v3h-3zM1827 163h3v2h-3zM1830 163h2v2h-2zM1830 165h2v2h-2zM1830 176h2v2h-2zM1847 158h2v2h-2zM1855 160h3v3h-3zM1869 163h3v2h-3zM1880 160h3v3h-3zM1883 176h3v2h-3zM1886 163h3v2h-3zM1889 163h3v2h-3zM1889 173h3v3h-3zM1892 163h2v2h-2zM1892 173h2v3h-2zM1897 163h3v2h-3zM1903 163h3v2h-3zM1906 173h3v3h-3zM1909 163h2v2h-2zM1914 160h3v3h-3zM1925 163h3v2h-3zM1931 163h3v2h-3zM1951 171h3v2h-3zM1954 165h2v2h-2zM1956 169h3v2h-3zM1962 167h3v2h-3zM1962 169h3v2h-3zM1965 169h3v2h-3zM1965 171h3v2h-3z"/>
<path fill="#f0f0f0" d="M1700 158h3v2h-3zM1700 160h3v3h-3zM1700 191h3v2h-3zM1703 154h3v2h-3zM1703 191h3v2h-3zM1706 154h2v2h-2zM1706 187h2v2h-2zM1706 191h2v2h-2zM1708 154h3v2h-3zM1708 182h3v2h-3zM1711 180h3v2h-3zM1711 184h3v3h-3zM1711 187h3v2h-3zM1717 154h3v2h-3zM1717 180h3v2h-3zM1720 147h3v2h-3zM1720 152h3v2h-3zM1720 180h3v2h-3zM1720 182h3v2h-3zM1728 145h3v2h-3zM1731 145h3v2h-3zM1731 176h3v2h-3zM1731 178h3v2h-3zM1731 180h3v2h-3zM1734 171h3v2h-3zM1737 173h2v3h-2zM1742 152h3v2h-3zM1742 171h3v2h-3zM1748 154h3v2h-3zM1748 171h3v2h-3zM1748 173h3v3h-3zM1754 173h2v3h-2zM1754 178h2v2h-2zM1759 147h3v2h-3zM1759 149h3v3h-3zM1762 147h3v2h-3zM1762 167h3v2h-3zM1765 147h3v2h-3zM1768 145h2v2h-2zM1768 165h2v2h-2zM1770 143h3v2h-3zM1773 145h3v2h-3zM1776 145h3v2h-3zM1776 167h3v2h-3zM1779 167h3v2h-3zM1785 169h2v2h-2zM1787 149h3v3h-3zM1787 152h3v2h-3zM1793 171h3v2h-3zM1796 154h3v2h-3zM1799 154h2v2h-2zM1804 154h3v2h-3zM1804 156h3v2h-3zM1804 176h3v2h-3zM1810 158h3v2h-3zM1810 173h3v3h-3zM1816 158h2v2h-2zM1818 173h3v3h-3zM1821 158h3v2h-3zM1824 176h3v2h-3zM1832 176h3v2h-3zM1838 160h3v3h-3zM1841 171h3v2h-3zM1844 173h3v3h-3zM1847 171h2v2h-2zM1849 158h3v2h-3zM1852 158h3v2h-3zM1852 171h3v2h-3zM1855 173h3v3h-3zM1861 160h2v3h-2zM1863 176h3v2h-3zM1875 173h3v3h-3zM1892 176h2v2h-2zM1900 173h3v3h-3zM1903 160h3v3h-3zM1909 173h2v3h-2zM1917 160h3v3h-3zM1917 173h3v3h-3zM1920 173h3v3h-3zM1923 163h2v2h-2zM1923 173h2v3h-2zM1928 163h3v2h-3zM1934 163h3v2h-3zM1937 160h3v3h-3zM1937 173h3v3h-3zM1940 163h2v2h-2zM1942 163h3v2h-3zM1942 173h3v3h-3zM1945 163h3v2h-3zM1948 173h3v3h-3zM1959 167h3v2h-3zM1962 163h3v2h-3zM1962 165h3v2h-3zM1965 165h3v2h-3z"/>
<path fill="#f6f6f6" d="M1700 156h3v2h-3zM1700 184h3v3h-3zM1700 195h3v2h-3zM1703 163h3v2h-3zM1703 189h3v2h-3zM1706 184h2v3h-2zM1706 189h2v2h-2zM1706 195h2v2h-2zM1711 149h3v3h-3zM1714 143h3v2h-3zM1714 147h3v2h-3zM1714 149h3v3h-3zM1714 156h3v2h-3zM1714 184h3v3h-3zM1717 147h3v2h-3zM1717 149h3v3h-3zM1717 182h3v2h-3zM1720 149h3v3h-3zM1720 187h3v2h-3zM1723 141h2v2h-2zM1723 143h2v2h-2zM1723 145h2v2h-2zM1723 149h2v3h-2zM1725 141h3v2h-3zM1725 182h3v2h-3zM1728 178h3v2h-3zM1739 141h3v2h-3zM1739 176h3v2h-3zM1739 178h3v2h-3zM1742 145h3v2h-3zM1742 147h3v2h-3zM1742 176h3v2h-3zM1745 149h3v3h-3zM1745 180h3v2h-3zM1748 145h3v2h-3zM1748 149h3v3h-3zM1748 152h3v2h-3zM1748 156h3v2h-3zM1748 178h3v2h-3zM1748 182h3v2h-3zM1751 145h3v2h-3zM1751 147h3v2h-3zM1751 152h3v2h-3zM1751 180h3v2h-3zM1754 147h2v2h-2zM1754 149h2v3h-2zM1756 141h3v2h-3zM1756 178h3v2h-3zM1759 171h3v2h-3zM1759 173h3v3h-3zM1762 143h3v2h-3zM1762 176h3v2h-3zM1765 167h3v2h-3zM1765 169h3v2h-3zM1765 171h3v2h-3zM1768 167h2v2h-2zM1770 141h3v2h-3zM1773 165h3v2h-3zM1779 143h3v2h-3zM1782 145h3v2h-3zM1785 147h2v2h-2zM1785 149h2v3h-2zM1785 152h2v2h-2zM1787 169h3v2h-3zM1790 171h3v2h-3zM1796 152h3v2h-3zM1801 154h3v2h-3zM1801 173h3v3h-3zM1801 178h3v2h-3zM1807 173h3v3h-3zM1807 176h3v2h-3zM1813 173h3v3h-3zM1816 176h2v2h-2zM1818 156h3v2h-3zM1818 158h3v2h-3zM1818 176h3v2h-3zM1827 160h3v3h-3zM1827 178h3v2h-3zM1832 160h3v3h-3zM1832 178h3v2h-3zM1838 158h3v2h-3zM1838 176h3v2h-3zM1841 158h3v2h-3zM1849 156h3v2h-3zM1849 171h3v2h-3zM1855 158h3v2h-3zM1858 173h3v3h-3zM1861 176h2v2h-2zM1869 176h3v2h-3zM1872 160h3v3h-3zM1872 163h3v2h-3zM1872 176h3v2h-3zM1878 158h2v2h-2zM1878 160h2v3h-2zM1878 163h2v2h-2zM1878 176h2v2h-2zM1883 163h3v2h-3zM1886 158h3v2h-3zM1886 176h3v2h-3zM1889 160h3v3h-3zM1900 163h3v2h-3zM1906 160h3v3h-3zM1909 176h2v2h-2zM1911 163h3v2h-3zM1914 163h3v2h-3zM1917 163h3v2h-3zM1917 176h3v2h-3zM1920 160h3v3h-3zM1925 158h3v2h-3zM1925 173h3v3h-3zM1928 173h3v3h-3zM1931 160h3v3h-3zM1945 160h3v3h-3zM1945 173h3v3h-3zM1948 160h3v3h-3zM1951 163h3v2h-3zM1951 173h3v3h-3zM1956 173h3v3h-3zM1959 160h3v3h-3zM1959 163h3v2h-3zM1959 173h3v3h-3zM1962 171h3v2h-3zM1965 167h3v2h-3zM1965 173h3v3h-3zM1968 169h3v2h-3zM1973 165h3v2h-3z"/>
<path transform="translate(0 .5)" stroke="#000" d="M2304 167h6m1 0h4m1 0h2M2301 168h2m1 0h6m1 0h4m1 0h4M2301 169h2m14 0h3"/>
<path transform="translate(0 .5)" stroke="#000" d="M1751 382h2m3 0h2M1751 383h2m3 0h2M1763 385h2M1753 386h3m2 0h2m3 0h2M1749 387h2m2 0h3m2 0h2M1749 388h2m15 0h2M1766 389h2M1758 390h3M1752 391h2m4 0h3M1750 392h5m4 0h2M1750 393h5m7 0h6M1751 394h6m5 0h6M1749 395h2m1 0h14M1749 396h2m1 0h14M1709 397h2m39 0h16M1709 398h2m28 0h2m8 0h9m1 0h9M1739 399h2m6 0h23M1747 400h2m1 0h17m1 0h2M1750 401h20M1750 402h20M1750 403h17m1 0h2m42 0h2M1714 404h2m33 0h21m42 0h2M1714 405h2m30 0h2m1 0h20M1727 406h2m17 0h3m1 0h19m1 0h2M1727 407h2m17 0h26m83 0h2M1731 408h6m8 0h26m9 0h2m73 0h2m5 0h2m35 0h2M1723 409h2m6 0h6m8 0h3m1 0h22m1 0h2m6 0h2m69 0h2m9 0h2m35 0h2m13 0h2M1713 410h2m8 0h2m9 0h2m11 0h24m1 0h2m54 0h2m21 0h2m8 0h2m51 0h2M1713 411h2m12 0h2m8 0h2m2 0h2m3 0h25m57 0h2m31 0h2m69 0h2M1710 412h2m3 0h2m5 0h4m1 0h2m8 0h2m2 0h2m3 0h28m6 0h2m14 0h2m26 0h2m4 0h2m27 0h3m2 0h4m26 0h2m14 0h2m20 0h2M1708 413h4m3 0h2m5 0h4m1 0h2m3 0h4m9 0h30m3 0h4m14 0h2m1 0h2m14 0h2m7 0h2m4 0h2m27 0h3m2 0h4m21 0h2m3 0h2m1 0h2m11 0h2M1708 414h2m14 0h2m2 0h2m2 0h4m9 0h30m3 0h2m3 0h2m14 0h2m6 0h2m6 0h2m9 0h2m28 0h6m2 0h2m23 0h2m6 0h2M1716 415h2m4 0h4m2 0h3m2 0h3m9 0h29m2 0h2m5 0h2m9 0h4m9 0h2m16 0h5m2 0h2m10 0h2m9 0h11m3 0h2m20 0h2m38 0h2m5 0h4m3 0h2m32 0h2M1713 416h2m1 0h8m2 0h6m1 0h3m8 0h34m2 0h2m12 0h4m4 0h2m16 0h2m3 0h5m2 0h2m2 0h2m3 0h2m1 0h2m4 0h2m2 0h13m2 0h2m7 0h2m10 0h3m21 0h2m11 0h2m2 0h2m5 0h4m3 0h2m18 0h2m10 0h5M1703 417h2m2 0h5m1 0h11m2 0h10m1 0h2m5 0h34m2 0h2m1 0h2m10 0h3m4 0h2m7 0h2m7 0h3m2 0h3m4 0h2m2 0h3m2 0h2m1 0h2m4 0h17m2 0h2m7 0h2m9 0h5m1 0h3m3 0h2m4 0h4m3 0h2m2 0h2m7 0h2m11 0h3m4 0h2m16 0h2m10 0h5M1701 418h11m2 0h5m1 0h21m4 0h30m5 0h6m4 0h3m3 0h2m10 0h2m1 0h2m1 0h9m1 0h4m1 0h5m2 0h5m3 0h2m2 0h16m4 0h3m11 0h2m5 0h5m1 0h4m2 0h2m1 0h2m1 0h8m1 0h4m1 0h5m2 0h2m5 0h4m2 0h2m4 0h3m15 0h4m5 0h3m2 0h3M1701 419h2m2 0h2m1 0h33m1 0h2m1 0h41m3 0h7m12 0h4m2 0h7m3 0h10m2 0h31m1 0h2m7 0h2m1 0h4m5 0h5m3 0h2m1 0h2m1 0h3m2 0h7m1 0h3m1 0h12m3 0h4m8 0h3m2 0h2m5 0h4m4 0h6m1 0h8M1701 420h1m6 0h2m1 0h87m2 0h2m8 0h20m3 0h16m1 0h18m3 0h3m3 0h2m1 0h2m6 0h9m3 0h2m1 0h2m3 0h3m1 0h2m3 0h2m1 0h4m1 0h9m1 0h5m2 0h2m1 0h4m1 0h6m2 0h8m2 0h6m1 0h6M1702 421h2m5 0h51m1 0h16m1 0h11m1 0h9m1 0h4m3 0h4m1 0h53m1 0h2m2 0h9m4 0h2m1 0h11m2 0h4m4 0h3m2 0h4m3 0h2m1 0h8m2 0h2m1 0h27m1 0h3m2 0h3m1 0h7M1701 422h3m1 0h55m1 0h16m1 0h10m1 0h10m1 0h62m1 0h2m5 0h2m1 0h4m2 0h6m1 0h12m1 0h7m1 0h11m1 0h12m1 0h2m1 0h3m1 0h12m1 0h7m3 0h3m2 0h4m1 0h3M1701 423h3m1 0h37m2 0h16m1 0h27m1 0h3m1 0h8m3 0h56m3 0h2m2 0h7m1 0h31m2 0h53m1 0h4m1 0h2M1701 424h1m1 0h7m1 0h84m2 0h77m1 0h88m1 0h2M1701 425h94m2 0h2m1 0h163M1701 426h7m1 0h45m2 0h2m1 0h204M1702 427h49m1 0h3m1 0h2m1 0h2m1 0h185m1 0h16M1701 428h57m2 0h2m2 0h97m1 0h102M1701 429h52m2 0h4m1 0h193m1 0h3m2 0h2M1701 430h49m3 0h2m2 0h2m1 0h189m1 0h11M1701 431h46m1 0h2m3 0h4m6 0h186m1 0h6m1 0h2M1701 432h46m1 0h2m5 0h2m10 0h183m1 0h2m2 0h2M1701 433h45m1 0h2m18 0h79m2 0h97m3 0h2m1 0h3m1 0h2M1701 434h48m8 0h3m8 0h168m7 0h3m6 0h2M1701 435h46m10 0h3m8 0h72m1 0h95m3 0h3m1 0h3M1701 436h45m22 0h66m1 0h5m1 0h8m1 0h65m1 0h9m1 0h6m2 0h2m3 0h4m1 0h2M1701 437h45m22 0h50m1 0h16m3 0h2m2 0h63m1 0h3m1 0h13m3 0h6m2 0h2m5 0h2m1 0h2M1701 438h45m5 0h2m12 0h2m1 0h54m1 0h9m1 0h4m1 0h2m5 0h6m1 0h44m1 0h26m3 0h5m3 0h2m2 0h3m1 0h4M1701 439h46m4 0h2m12 0h2m1 0h61m6 0h2m1 0h4m3 0h66m1 0h9m1 0h2m2 0h2m1 0h2m3 0h2m2 0h3m1 0h2M1701 440h46m21 0h56m1 0h4m8 0h5m5 0h45m1 0h13m1 0h2m1 0h10m2 0h7M1701 441h45m24 0h52m1 0h2m5 0h2m4 0h5m4 0h33m1 0h5m2 0h5m1 0h4m1 0h8m2 0h2m1 0h8m5 0h3m1 0h2M1701 442h45m24 0h2m1 0h38m1 0h5m1 0h3m1 0h3m2 0h5m3 0h3m1 0h2m4 0h29m1 0h9m4 0h3m1 0h4m1 0h2m2 0h2m2 0h4m1 0h5m1 0h2m5 0h3M1701 443h45m24 0h42m1 0h3m3 0h2m1 0h2m3 0h3m5 0h2m11 0h9m1 0h3m1 0h2m1 0h8m1 0h12m8 0h2m2 0h5m2 0h5m3 0h2m9 0h2M1701 444h45m24 0h46m3 0h2m21 0h2m4 0h4m1 0h4m1 0h2m2 0h2m1 0h4m1 0h3m1 0h7m1 0h4m4 0h2m1 0h2m3 0h6m4 0h2M1701 445h24m1 0h20m23 0h3m1 0h42m7 0h2m1 0h2m15 0h2m4 0h2m1 0h6m1 0h2m2 0h2m2 0h4m6 0h3m3 0h2m6 0h2m1 0h4m2 0h2m1 0h2m1 0h4M1701 446h27m7 0h11m23 0h2m2 0h20m1 0h2m1 0h12m2 0h2m9 0h2m1 0h2m20 0h6m2 0h3m5 0h2m1 0h7m1 0h2m19 0h2m4 0h2m2 0h4M1701 447h27m6 0h2m1 0h6m1 0h2m23 0h2m1 0h12m1 0h16m2 0h3m1 0h9m8 0h2m21 0h6m2 0h3m2 0h5m1 0h7m1 0h2m9 0h4m1 0h2m9 0h2m4 0h2m1 0h3M1701 448h17m1 0h6m9 0h2m1 0h6m1 0h2m23 0h2m1 0h2m1 0h2m1 0h4m1 0h16m5 0h2m2 0h3m1 0h4m8 0h2m25 0h2m7 0h4m19 0h6m1 0h2m18 0h3M1701 449h17m1 0h2m17 0h2m3 0h2m33 0h3m2 0h2m1 0h8m2 0h2m1 0h2m11 0h2m1 0h3m2 0h2m25 0h2m2 0h2m11 0h2m15 0h4M1701 450h20m1 0h2m15 0h2m2 0h2m34 0h2m5 0h2m2 0h4m3 0h4m14 0h3m2 0h2m25 0h4m13 0h2m7 0h2m6 0h2M1701 451h15m2 0h2m2 0h2m14 0h3m1 0h3m25 0h2m13 0h2m1 0h4m5 0h3m4 0h4m41 0h2m15 0h2m5 0h2M1701 452h5m1 0h3m1 0h3m4 0h2m18 0h2m2 0h2m26 0h2m4 0h2m7 0h2m1 0h2m3 0h3m2 0h2m4 0h4m41 0h2m15 0h2M1701 453h5m1 0h2m2 0h2m5 0h2m54 0h4m10 0h2m3 0h3m2 0h2M1701 454h5m1 0h2m3 0h2m2 0h2m56 0h2m5 0h2m5 0h2m8 0h2M1701 455h8m3 0h2m2 0h2m63 0h2m1 0h2m114 0h2M1701 456h6m5 0h2m1 0h2m3 0h2m51 0h2m9 0h2m114 0h2M1701 457h7m7 0h2m3 0h2m51 0h3m5 0h2M1706 458h2m66 0h2m5 0h2M1708 459h2M1708 460h2M1706 461h2M1706 462h2M1701 475h2M1701 476h2M1708 481h2M1708 482h2"/>
<path transform="translate(0 .5)" stroke="#000" d="M2151 421h2M2076 422h2m67 0h2m4 0h2m3 0h2m72 0h2M2076 423h4m65 0h2m4 0h10m51 0h2m11 0h3m2 0h2M2040 424h4m4 0h2m20 0h2m3 0h5m64 0h2m4 0h16m27 0h2m1 0h2m14 0h2m1 0h3m1 0h2m4 0h3m1 0h4m3 0h2m12 0h4m4 0h4m4 0h3m5 0h2M2039 425h7m1 0h3m1 0h3m2 0h3m10 0h12m54 0h2m6 0h3m3 0h17m19 0h2m3 0h2m1 0h6m10 0h9m1 0h3m1 0h19m1 0h2m1 0h2m2 0h14m1 0h6m3 0h2M2039 426h24m5 0h13m30 0h2m11 0h2m8 0h37m11 0h2m1 0h2m3 0h2m2 0h6m1 0h76m2 0h6m2 0h3M2039 427h43m26 0h2m1 0h4m4 0h10m1 0h45m1 0h9m1 0h4m1 0h2m1 0h84m1 0h11m1 0h2M2039 428h45m12 0h5m2 0h4m1 0h3m1 0h3m2 0h172m2 0h5M2039 429h45m11 0h16m1 0h188m1 0h3m1 0h2m4 0h2M2039 430h47m7 0h214m1 0h6m1 0h2m2 0h1M2039 431h49m5 0h214m1 0h12M2039 432h50m2 0h197m1 0h15m1 0h2m2 0h2m3 0h6M2039 433h214m1 0h6m1 0h21m1 0h4m2 0h4m1 0h7m4 0h2m9 0h2M2039 434h117m1 0h2m1 0h2m3 0h79m1 0h3m1 0h11m1 0h12m2 0h8m7 0h2M2039 435h7m1 0h29m6 0h70m1 0h2m14 0h46m1 0h6m1 0h5m1 0h2m5 0h2m2 0h4m2 0h2m2 0h2m1 0h8m1 0h4m14 0h3M2039 436h2m2 0h3m1 0h5m1 0h2m1 0h2m1 0h16m9 0h53m1 0h13m15 0h2m1 0h2m1 0h35m1 0h5m7 0h2m18 0h2m8 0h2m7 0h2M2048 437h4m10 0h5m2 0h2m1 0h2m10 0h58m24 0h2m1 0h2m3 0h33m2 0h4M2064 438h2m3 0h2m15 0h41m2 0h5m3 0h2m27 0h2m6 0h2m6 0h10m1 0h6m2 0h5m2 0h2M2064 439h2m21 0h29m2 0h2m2 0h3m41 0h2m16 0h2m2 0h4m16 0h2M2088 440h13m1 0h2m1 0h2m2 0h6m7 0h2m66 0h2M2088 441h4m2 0h3m5 0h2m1 0h2m3 0h2m2 0h2M2089 442h3m22 0h2"/>
</g>
<polyline points="438.2,168.44 440.6,168.44 442.9,168.44 445.3,168.44 447.7,168.44 450.0,168.44 452.4,168.44 454.8,168.44 457.1,168.44 459.5,168.44 461.9,168.44 464.2,168.44 466.6,168.44 469.0,168.44 471.3,168.44 473.7,168.44 476.1,168.44 478.4,168.44 480.8,168.44 483.2,168.44 485.5,168.44 487.9,168.44 490.3,168.44 492.7,168.44 495.0,168.44 497.4,168.44 499.8,168.44 502.1,168.44 504.5,168.44 506.9,168.44 509.2,168.44 511.6,168.44 514.0,168.44 516.3,168.44 518.7,168.44 521.1,168.44 523.4,168.44 525.8,168.44 528.2,168.44 530.5,168.44 532.9,168.44 535.3,168.44 537.6,168.44 540.0,168.44 542.4,168.44 544.8,168.44 547.1,168.44 549.5,168.44 551.9,168.44 554.2,168.44 556.6,168.44 559.0,168.44 561.3,168.44 563.7,168.44 566.1,168.44 568.4,168.44 570.8,168.44 573.2,168.44 575.5,168.44 577.9,168.44 580.3,168.44 582.6,168.44 585.0,168.44 587.4,168.44 589.7,168.44 592.1,168.44 594.5,168.44 596.9,168.44 599.2,168.44 601.6,168.44 604.0,168.44 606.3,168.44 608.7,168.44 611.1,168.44 613.4,168.44 615.8,168.44 618.2,168.44 620.5,168.44 622.9,168.44 625.3,168.44 627.6,168.44 630.0,168.44 632.4,168.44 634.7,168.44 637.1,168.44 639.5,168.44 641.8,168.44 644.2,168.44 646.6,168.44 649.0,168.44 651.3,168.44 653.7,168.44 656.1,168.44 658.4,168.44 660.8,168.44 663.2,168.44 665.5,168.44 667.9,168.44 670.3,168.44 672.6,168.44 675.0,168.44 677.4,168.44 679.7,168.44 682.1,168.44 684.5,168.44 686.8,168.44 689.2,168.44 691.6,168.44 693.9,168.44 696.3,168.44 698.7,168.44 701.1,168.44 703.4,168.44 705.8,168.44 708.2,168.44 710.5,168.44 712.9,168.44 715.3,168.44 717.6,168.14 720.0,167.51" fill="none" stroke="#000" stroke-width="3.1"/>
<polyline points="1238.2,168.55 1239.8,168.55 1241.5,168.55 1243.1,168.55 1244.8,168.55 1246.4,168.55 1248.1,168.56 1249.7,168.56 1251.4,168.57 1253.0,168.59 1254.7,168.61 1256.3,168.63 1258.0,168.66 1259.6,168.69 1261.3,168.72 1262.9,168.75 1264.6,168.78 1266.2,168.80 1267.9,168.81 1269.5,168.81 1271.2,168.79 1272.8,168.77 1274.5,168.74 1276.1,168.71 1277.8,168.68 1279.4,168.64 1281.1,168.61 1282.7,168.56 1284.4,168.49 1286.0,168.40 1287.7,168.29 1289.3,168.18 1291.0,168.09 1292.6,168.07 1294.3,168.11 1295.9,168.21 1297.6,168.32 1299.2,168.41 1300.9,168.48 1302.5,168.52 1304.2,168.53 1305.8,168.54 1307.5,168.54 1309.1,168.55 1310.8,168.55 1312.4,168.55 1314.1,168.55 1315.7,168.55 1317.4,168.55 1319.0,168.55 1320.7,168.55 1322.3,168.55 1324.0,168.55 1325.6,168.55 1327.3,168.55 1328.9,168.55 1330.6,168.55 1332.2,168.55 1333.9,168.55 1335.5,168.55 1337.2,168.55 1338.8,168.55 1340.5,168.55 1342.1,168.55 1343.8,168.55 1345.4,168.55 1347.1,168.55 1348.7,168.55 1350.4,168.55 1352.0,168.55 1353.7,168.55 1355.3,168.55 1357.0,168.55 1358.6,168.55 1360.3,168.55 1361.9,168.55 1363.6,168.55 1365.2,168.55 1366.9,168.55 1368.5,168.55 1370.2,168.55 1371.8,168.55 1373.5,168.55 1375.1,168.55 1376.8,168.55 1378.4,168.55 1380.1,168.55 1381.7,168.55 1383.4,168.55 1385.0,168.55 1386.7,168.55 1388.3,168.55 1390.0,168.55 1391.6,168.55 1393.3,168.55 1394.9,168.55 1396.6,168.55 1398.2,168.55 1399.9,168.55 1401.5,168.55 1403.2,168.55 1404.8,168.55 1406.4,168.55 1408.1,168.55 1409.7,168.55 1411.4,168.55 1413.0,168.55 1414.7,168.55 1416.3,168.55 1418.0,168.55 1419.6,168.55 1421.3,168.55 1422.9,168.55 1424.6,168.55 1426.2,168.55 1427.9,168.55 1429.5,168.55 1431.2,168.55 1432.8,168.55 1434.5,168.55 1436.1,168.55 1437.8,168.55 1439.4,168.55 1441.1,168.55 1442.7,168.55 1444.4,168.55 1446.0,168.55 1447.7,168.55 1449.3,168.55 1451.0,168.55 1452.6,168.55 1454.3,168.55 1455.9,168.55 1457.6,168.55 1459.2,168.55 1460.9,168.55 1462.5,168.55 1464.2,168.55 1465.8,168.55 1467.5,168.55 1469.1,168.55 1470.8,168.55 1472.4,168.55 1474.1,168.55 1475.7,168.55 1477.4,168.55 1479.0,168.55 1480.7,168.55 1482.3,168.55 1484.0,168.55 1485.6,168.55 1487.3,168.55 1488.9,168.55 1490.6,168.55 1492.2,168.55 1493.9,168.55 1495.5,168.55 1497.2,168.55 1498.8,168.55 1500.5,168.55" fill="none" stroke="#000" stroke-width="3.0"/>
<polyline points="2038.2,168.55 2039.8,168.55 2041.5,168.55 2043.1,168.55 2044.8,168.55 2046.4,168.55 2048.1,168.56 2049.7,168.56 2051.4,168.57 2053.0,168.59 2054.7,168.61 2056.3,168.63 2058.0,168.66 2059.6,168.69 2061.3,168.72 2062.9,168.75 2064.6,168.78 2066.2,168.80 2067.9,168.81 2069.5,168.81 2071.2,168.79 2072.8,168.77 2074.5,168.74 2076.1,168.71 2077.8,168.68 2079.4,168.64 2081.1,168.61 2082.7,168.56 2084.4,168.49 2086.0,168.40 2087.7,168.29 2089.3,168.18 2091.0,168.09 2092.6,168.07 2094.3,168.11 2095.9,168.21 2097.6,168.32 2099.2,168.41 2100.9,168.48 2102.5,168.52 2104.2,168.53 2105.8,168.54 2107.5,168.54 2109.1,168.55 2110.8,168.55 2112.4,168.55 2114.1,168.55 2115.7,168.55 2117.4,168.55 2119.0,168.55 2120.7,168.55 2122.3,168.55 2124.0,168.55 2125.6,168.55 2127.3,168.55 2128.9,168.55 2130.6,168.55 2132.2,168.55 2133.9,168.55 2135.5,168.55 2137.2,168.55 2138.8,168.55 2140.5,168.55 2142.1,168.55 2143.8,168.55 2145.4,168.55 2147.1,168.55 2148.7,168.55 2150.4,168.55 2152.0,168.55 2153.7,168.55 2155.3,168.55 2157.0,168.55 2158.6,168.55 2160.3,168.55 2161.9,168.55 2163.6,168.55 2165.2,168.55 2166.9,168.55 2168.5,168.55 2170.2,168.55 2171.8,168.55 2173.5,168.55 2175.1,168.55 2176.8,168.55 2178.4,168.55 2180.1,168.55 2181.7,168.55 2183.4,168.55 2185.0,168.55 2186.7,168.55 2188.3,168.55 2190.0,168.55 2191.6,168.55 2193.3,168.55 2194.9,168.55 2196.6,168.55 2198.2,168.55 2199.9,168.55 2201.5,168.55 2203.2,168.55 2204.8,168.55 2206.4,168.55 2208.1,168.55 2209.7,168.55 2211.4,168.55 2213.0,168.55 2214.7,168.55 2216.3,168.55 2218.0,168.55 2219.6,168.55 2221.3,168.55 2222.9,168.55 2224.6,168.55 2226.2,168.55 2227.9,168.55 2229.5,168.55 2231.2,168.55 2232.8,168.55 2234.5,168.55 2236.1,168.55 2237.8,168.55 2239.4,168.55 2241.1,168.55 2242.7,168.55 2244.4,168.55 2246.0,168.55 2247.7,168.55 2249.3,168.55 2251.0,168.55 2252.6,168.55 2254.3,168.55 2255.9,168.55 2257.6,168.55 2259.2,168.55 2260.9,168.55 2262.5,168.55 2264.2,168.55 2265.8,168.55 2267.5,168.55 2269.1,168.55 2270.8,168.55 2272.4,168.55 2274.1,168.55 2275.7,168.55 2277.4,168.55 2279.0,168.55 2280.7,168.55 2282.3,168.55 2284.0,168.55 2285.6,168.55 2287.3,168.55 2288.9,168.55 2290.6,168.55 2292.2,168.55 2293.9,168.55 2295.5,168.55 2297.2,168.55 2298.8,168.55 2300.5,168.55" fill="none" stroke="#000" stroke-width="3.0"/>
<path d="M112.5 278.5v-6.1M112.5 60.5v6.1M145.5 278.5v-6.1M145.5 60.5v6.1M179.5 278.5v-6.1M179.5 60.5v6.1M212.5 278.5v-6.1M212.5 60.5v6.1M245.5 278.5v-6.1M245.5 60.5v6.1M278.5 278.5v-6.1M278.5 60.5v6.1M311.5 278.5v-6.1M311.5 60.5v6.1M344.5 278.5v-6.1M344.5 60.5v6.1M377.5 278.5v-6.1M377.5 60.5v6.1M100.5 256.5h6.1M382.5 256.5h-6.1M100.5 213.5h6.1M382.5 213.5h-6.1M100.5 169.5h6.1M382.5 169.5h-6.1M100.5 125.5h6.1M382.5 125.5h-6.1M100.5 82.5h6.1M382.5 82.5h-6.1" stroke="#000" stroke-width="0.8" fill="none"/>
<rect x="100.5" y="60.5" width="282.0" height="218.0" fill="none" stroke="#000" stroke-width="1.39"/>
<text x="108.5" y="295.3" letter-spacing="0.55">30</text>
<text x="141.6" y="295.3" letter-spacing="0.55">20</text>
<text x="174.7" y="295.3" letter-spacing="0.55">10</text>
<text x="206.6" y="295.3" letter-spacing="0.55">0</text>
<text x="234.8" y="295.3" letter-spacing="0.55">10</text>
<text x="267.9" y="295.3" letter-spacing="0.55">20</text>
<text x="301.0" y="295.3" letter-spacing="0.55">30</text>
<text x="334.1" y="295.3" letter-spacing="0.55">40</text>
<text x="367.3" y="295.3" letter-spacing="0.55">50</text>
<text x="86.0" y="262.3" letter-spacing="0.55">4</text>
<text x="86.0" y="218.6" letter-spacing="0.55">2</text>
<text x="86.0" y="175.0" letter-spacing="0.55">0</text>
<text x="86.0" y="131.4" letter-spacing="0.55">2</text>
<text x="86.0" y="87.7" letter-spacing="0.55">4</text>
<text class="m" x="241.2" y="317.1" text-anchor="middle" textLength="55.5" lengthAdjust="spacingAndGlyphs"><tspan font-style="italic">ϕ</tspan><tspan dy="4" font-size="11.3">1</tspan><tspan dy="-4"> </tspan>,<tspan class="b">[</tspan><tspan font-style="italic">deg</tspan><tspan class="b">]</tspan></text>
<text class="m" transform="translate(58.0 169.1) rotate(-90)" text-anchor="middle" textLength="84" lengthAdjust="spacingAndGlyphs">Δ<tspan class="b">(</tspan><tspan font-style="italic">ϕ</tspan><tspan dy="4" font-size="11.3">2</tspan><tspan dy="-4"> </tspan><tspan class="b">)</tspan>,<tspan class="b">[</tspan><tspan font-style="italic">deg</tspan><tspan class="b">]</tspan></text>
<path d="M451.5 278.5v-6.1M451.5 60.5v6.1M484.5 278.5v-6.1M484.5 60.5v6.1M517.5 278.5v-6.1M517.5 60.5v6.1M550.5 278.5v-6.1M550.5 60.5v6.1M583.5 278.5v-6.1M583.5 60.5v6.1M616.5 278.5v-6.1M616.5 60.5v6.1M649.5 278.5v-6.1M649.5 60.5v6.1M682.5 278.5v-6.1M682.5 60.5v6.1M715.5 278.5v-6.1M715.5 60.5v6.1M438.5 256.5h6.1M720.5 256.5h-6.1M438.5 213.5h6.1M720.5 213.5h-6.1M438.5 169.5h6.1M720.5 169.5h-6.1M438.5 125.5h6.1M720.5 125.5h-6.1M438.5 82.5h6.1M720.5 82.5h-6.1M441.5 278.5v-3.3M441.5 60.5v3.3M444.5 278.5v-3.3M444.5 60.5v3.3M447.5 278.5v-3.3M447.5 60.5v3.3M454.5 278.5v-3.3M454.5 60.5v3.3M457.5 278.5v-3.3M457.5 60.5v3.3M460.5 278.5v-3.3M460.5 60.5v3.3M464.5 278.5v-3.3M464.5 60.5v3.3M467.5 278.5v-3.3M467.5 60.5v3.3M470.5 278.5v-3.3M470.5 60.5v3.3M474.5 278.5v-3.3M474.5 60.5v3.3M477.5 278.5v-3.3M477.5 60.5v3.3M480.5 278.5v-3.3M480.5 60.5v3.3M487.5 278.5v-3.3M487.5 60.5v3.3M490.5 278.5v-3.3M490.5 60.5v3.3M494.5 278.5v-3.3M494.5 60.5v3.3M497.5 278.5v-3.3M497.5 60.5v3.3M500.5 278.5v-3.3M500.5 60.5v3.3M504.5 278.5v-3.3M504.5 60.5v3.3M507.5 278.5v-3.3M507.5 60.5v3.3M510.5 278.5v-3.3M510.5 60.5v3.3M513.5 278.5v-3.3M513.5 60.5v3.3M520.5 278.5v-3.3M520.5 60.5v3.3M523.5 278.5v-3.3M523.5 60.5v3.3M527.5 278.5v-3.3M527.5 60.5v3.3M530.5 278.5v-3.3M530.5 60.5v3.3M533.5 278.5v-3.3M533.5 60.5v3.3M537.5 278.5v-3.3M537.5 60.5v3.3M540.5 278.5v-3.3M540.5 60.5v3.3M543.5 278.5v-3.3M543.5 60.5v3.3M547.5 278.5v-3.3M547.5 60.5v3.3M553.5 278.5v-3.3M553.5 60.5v3.3M557.5 278.5v-3.3M557.5 60.5v3.3M560.5 278.5v-3.3M560.5 60.5v3.3M563.5 278.5v-3.3M563.5 60.5v3.3M566.5 278.5v-3.3M566.5 60.5v3.3M570.5 278.5v-3.3M570.5 60.5v3.3M573.5 278.5v-3.3M573.5 60.5v3.3M576.5 278.5v-3.3M576.5 60.5v3.3M580.5 278.5v-3.3M580.5 60.5v3.3M586.5 278.5v-3.3M586.5 60.5v3.3M590.5 278.5v-3.3M590.5 60.5v3.3M593.5 278.5v-3.3M593.5 60.5v3.3M596.5 278.5v-3.3M596.5 60.5v3.3M600.5 278.5v-3.3M600.5 60.5v3.3M603.5 278.5v-3.3M603.5 60.5v3.3M606.5 278.5v-3.3M606.5 60.5v3.3M609.5 278.5v-3.3M609.5 60.5v3.3M613.5 278.5v-3.3M613.5 60.5v3.3M619.5 278.5v-3.3M619.5 60.5v3.3M623.5 278.5v-3.3M623.5 60.5v3.3M626.5 278.5v-3.3M626.5 60.5v3.3M629.5 278.5v-3.3M629.5 60.5v3.3M633.5 278.5v-3.3M633.5 60.5v3.3M636.5 278.5v-3.3M636.5 60.5v3.3M639.5 278.5v-3.3M639.5 60.5v3.3M643.5 278.5v-3.3M643.5 60.5v3.3M646.5 278.5v-3.3M646.5 60.5v3.3M653.5 278.5v-3.3M653.5 60.5v3.3M656.5 278.5v-3.3M656.5 60.5v3.3M659.5 278.5v-3.3M659.5 60.5v3.3M662.5 278.5v-3.3M662.5 60.5v3.3M666.5 278.5v-3.3M666.5 60.5v3.3M669.5 278.5v-3.3M669.5 60.5v3.3M672.5 278.5v-3.3M672.5 60.5v3.3M676.5 278.5v-3.3M676.5 60.5v3.3M679.5 278.5v-3.3M679.5 60.5v3.3M686.5 278.5v-3.3M686.5 60.5v3.3M689.5 278.5v-3.3M689.5 60.5v3.3M692.5 278.5v-3.3M692.5 60.5v3.3M696.5 278.5v-3.3M696.5 60.5v3.3M699.5 278.5v-3.3M699.5 60.5v3.3M702.5 278.5v-3.3M702.5 60.5v3.3M706.5 278.5v-3.3M706.5 60.5v3.3M709.5 278.5v-3.3M709.5 60.5v3.3M712.5 278.5v-3.3M712.5 60.5v3.3M719.5 278.5v-3.3M719.5 60.5v3.3M438.5 278.5h3.3M720.5 278.5h-3.3M438.5 274.5h3.3M720.5 274.5h-3.3M438.5 269.5h3.3M720.5 269.5h-3.3M438.5 265.5h3.3M720.5 265.5h-3.3M438.5 261.5h3.3M720.5 261.5h-3.3M438.5 252.5h3.3M720.5 252.5h-3.3M438.5 248.5h3.3M720.5 248.5h-3.3M438.5 243.5h3.3M720.5 243.5h-3.3M438.5 239.5h3.3M720.5 239.5h-3.3M438.5 235.5h3.3M720.5 235.5h-3.3M438.5 230.5h3.3M720.5 230.5h-3.3M438.5 226.5h3.3M720.5 226.5h-3.3M438.5 221.5h3.3M720.5 221.5h-3.3M438.5 217.5h3.3M720.5 217.5h-3.3M438.5 208.5h3.3M720.5 208.5h-3.3M438.5 204.5h3.3M720.5 204.5h-3.3M438.5 200.5h3.3M720.5 200.5h-3.3M438.5 195.5h3.3M720.5 195.5h-3.3M438.5 191.5h3.3M720.5 191.5h-3.3M438.5 187.5h3.3M720.5 187.5h-3.3M438.5 182.5h3.3M720.5 182.5h-3.3M438.5 178.5h3.3M720.5 178.5h-3.3M438.5 173.5h3.3M720.5 173.5h-3.3M438.5 165.5h3.3M720.5 165.5h-3.3M438.5 160.5h3.3M720.5 160.5h-3.3M438.5 156.5h3.3M720.5 156.5h-3.3M438.5 152.5h3.3M720.5 152.5h-3.3M438.5 147.5h3.3M720.5 147.5h-3.3M438.5 143.5h3.3M720.5 143.5h-3.3M438.5 139.5h3.3M720.5 139.5h-3.3M438.5 134.5h3.3M720.5 134.5h-3.3M438.5 130.5h3.3M720.5 130.5h-3.3M438.5 121.5h3.3M720.5 121.5h-3.3M438.5 117.5h3.3M720.5 117.5h-3.3M438.5 112.5h3.3M720.5 112.5h-3.3M438.5 108.5h3.3M720.5 108.5h-3.3M438.5 104.5h3.3M720.5 104.5h-3.3M438.5 99.5h3.3M720.5 99.5h-3.3M438.5 95.5h3.3M720.5 95.5h-3.3M438.5 91.5h3.3M720.5 91.5h-3.3M438.5 86.5h3.3M720.5 86.5h-3.3M438.5 77.5h3.3M720.5 77.5h-3.3M438.5 73.5h3.3M720.5 73.5h-3.3M438.5 69.5h3.3M720.5 69.5h-3.3M438.5 64.5h3.3M720.5 64.5h-3.3M438.5 60.5h3.3M720.5 60.5h-3.3" stroke="#000" stroke-width="0.8" fill="none"/>
<rect x="438.5" y="60.5" width="282.0" height="218.0" fill="none" stroke="#000" stroke-width="1.39"/>
<text x="446.7" y="295.3" letter-spacing="0.55">30</text>
<text x="479.8" y="295.3" letter-spacing="0.55">20</text>
<text x="512.9" y="295.3" letter-spacing="0.55">10</text>
<text x="544.8" y="295.3" letter-spacing="0.55">0</text>
<text x="572.9" y="295.3" letter-spacing="0.55">10</text>
<text x="606.1" y="295.3" letter-spacing="0.55">20</text>
<text x="639.2" y="295.3" letter-spacing="0.55">30</text>
<text x="672.3" y="295.3" letter-spacing="0.55">40</text>
<text x="705.4" y="295.3" letter-spacing="0.55">50</text>
<text x="424.2" y="262.3" letter-spacing="0.55">4</text>
<text x="424.2" y="218.6" letter-spacing="0.55">2</text>
<text x="424.2" y="175.0" letter-spacing="0.55">0</text>
<text x="424.2" y="131.4" letter-spacing="0.55">2</text>
<text x="424.2" y="87.7" letter-spacing="0.55">4</text>
<text class="m" x="579.4" y="317.1" text-anchor="middle" textLength="55.5" lengthAdjust="spacingAndGlyphs"><tspan font-style="italic">ϕ</tspan><tspan dy="4" font-size="11.3">1</tspan><tspan dy="-4"> </tspan>,<tspan class="b">[</tspan><tspan font-style="italic">deg</tspan><tspan class="b">]</tspan></text>
<text class="m" transform="translate(394.5 169.1) rotate(-90)" text-anchor="middle" textLength="134" lengthAdjust="spacingAndGlyphs">Δ<tspan class="b">(</tspan><tspan font-style="italic">μ</tspan><tspan dy="4" font-size="11.3" font-style="italic">along</tspan><tspan dy="-4"> </tspan><tspan class="b">)</tspan>,<tspan class="b">[</tspan><tspan font-style="italic">mas/yr</tspan><tspan class="b">]</tspan></text>
<path d="M112.5 540.5v-6.1M112.5 322.5v6.1M145.5 540.5v-6.1M145.5 322.5v6.1M179.5 540.5v-6.1M179.5 322.5v6.1M212.5 540.5v-6.1M212.5 322.5v6.1M245.5 540.5v-6.1M245.5 322.5v6.1M278.5 540.5v-6.1M278.5 322.5v6.1M311.5 540.5v-6.1M311.5 322.5v6.1M344.5 540.5v-6.1M344.5 322.5v6.1M377.5 540.5v-6.1M377.5 322.5v6.1M100.5 540.5h6.1M382.5 540.5h-6.1M100.5 513.5h6.1M382.5 513.5h-6.1M100.5 485.5h6.1M382.5 485.5h-6.1M100.5 458.5h6.1M382.5 458.5h-6.1M100.5 431.5h6.1M382.5 431.5h-6.1M100.5 404.5h6.1M382.5 404.5h-6.1M100.5 376.5h6.1M382.5 376.5h-6.1M100.5 349.5h6.1M382.5 349.5h-6.1M100.5 322.5h6.1M382.5 322.5h-6.1M102.5 540.5v-3.3M102.5 322.5v3.3M106.5 540.5v-3.3M106.5 322.5v3.3M109.5 540.5v-3.3M109.5 322.5v3.3M116.5 540.5v-3.3M116.5 322.5v3.3M119.5 540.5v-3.3M119.5 322.5v3.3M122.5 540.5v-3.3M122.5 322.5v3.3M126.5 540.5v-3.3M126.5 322.5v3.3M129.5 540.5v-3.3M129.5 322.5v3.3M132.5 540.5v-3.3M132.5 322.5v3.3M136.5 540.5v-3.3M136.5 322.5v3.3M139.5 540.5v-3.3M139.5 322.5v3.3M142.5 540.5v-3.3M142.5 322.5v3.3M149.5 540.5v-3.3M149.5 322.5v3.3M152.5 540.5v-3.3M152.5 322.5v3.3M155.5 540.5v-3.3M155.5 322.5v3.3M159.5 540.5v-3.3M159.5 322.5v3.3M162.5 540.5v-3.3M162.5 322.5v3.3M165.5 540.5v-3.3M165.5 322.5v3.3M169.5 540.5v-3.3M169.5 322.5v3.3M172.5 540.5v-3.3M172.5 322.5v3.3M175.5 540.5v-3.3M175.5 322.5v3.3M182.5 540.5v-3.3M182.5 322.5v3.3M185.5 540.5v-3.3M185.5 322.5v3.3M189.5 540.5v-3.3M189.5 322.5v3.3M192.5 540.5v-3.3M192.5 322.5v3.3M195.5 540.5v-3.3M195.5 322.5v3.3M198.5 540.5v-3.3M198.5 322.5v3.3M202.5 540.5v-3.3M202.5 322.5v3.3M205.5 540.5v-3.3M205.5 322.5v3.3M208.5 540.5v-3.3M208.5 322.5v3.3M215.5 540.5v-3.3M215.5 322.5v3.3M218.5 540.5v-3.3M218.5 322.5v3.3M222.5 540.5v-3.3M222.5 322.5v3.3M225.5 540.5v-3.3M225.5 322.5v3.3M228.5 540.5v-3.3M228.5 322.5v3.3M232.5 540.5v-3.3M232.5 322.5v3.3M235.5 540.5v-3.3M235.5 322.5v3.3M238.5 540.5v-3.3M238.5 322.5v3.3M242.5 540.5v-3.3M242.5 322.5v3.3M248.5 540.5v-3.3M248.5 322.5v3.3M251.5 540.5v-3.3M251.5 322.5v3.3M255.5 540.5v-3.3M255.5 322.5v3.3M258.5 540.5v-3.3M258.5 322.5v3.3M261.5 540.5v-3.3M261.5 322.5v3.3M265.5 540.5v-3.3M265.5 322.5v3.3M268.5 540.5v-3.3M268.5 322.5v3.3M271.5 540.5v-3.3M271.5 322.5v3.3M275.5 540.5v-3.3M275.5 322.5v3.3M281.5 540.5v-3.3M281.5 322.5v3.3M285.5 540.5v-3.3M285.5 322.5v3.3M288.5 540.5v-3.3M288.5 322.5v3.3M291.5 540.5v-3.3M291.5 322.5v3.3M295.5 540.5v-3.3M295.5 322.5v3.3M298.5 540.5v-3.3M298.5 322.5v3.3M301.5 540.5v-3.3M301.5 322.5v3.3M304.5 540.5v-3.3M304.5 322.5v3.3M308.5 540.5v-3.3M308.5 322.5v3.3M314.5 540.5v-3.3M314.5 322.5v3.3M318.5 540.5v-3.3M318.5 322.5v3.3M321.5 540.5v-3.3M321.5 322.5v3.3M324.5 540.5v-3.3M324.5 322.5v3.3M328.5 540.5v-3.3M328.5 322.5v3.3M331.5 540.5v-3.3M331.5 322.5v3.3M334.5 540.5v-3.3M334.5 322.5v3.3M338.5 540.5v-3.3M338.5 322.5v3.3M341.5 540.5v-3.3M341.5 322.5v3.3M348.5 540.5v-3.3M348.5 322.5v3.3M351.5 540.5v-3.3M351.5 322.5v3.3M354.5 540.5v-3.3M354.5 322.5v3.3M357.5 540.5v-3.3M357.5 322.5v3.3M361.5 540.5v-3.3M361.5 322.5v3.3M364.5 540.5v-3.3M364.5 322.5v3.3M367.5 540.5v-3.3M367.5 322.5v3.3M371.5 540.5v-3.3M371.5 322.5v3.3M374.5 540.5v-3.3M374.5 322.5v3.3M381.5 540.5v-3.3M381.5 322.5v3.3M100.5 537.5h3.3M382.5 537.5h-3.3M100.5 535.5h3.3M382.5 535.5h-3.3M100.5 532.5h3.3M382.5 532.5h-3.3M100.5 529.5h3.3M382.5 529.5h-3.3M100.5 526.5h3.3M382.5 526.5h-3.3M100.5 524.5h3.3M382.5 524.5h-3.3M100.5 521.5h3.3M382.5 521.5h-3.3M100.5 518.5h3.3M382.5 518.5h-3.3M100.5 515.5h3.3M382.5 515.5h-3.3M100.5 510.5h3.3M382.5 510.5h-3.3M100.5 507.5h3.3M382.5 507.5h-3.3M100.5 505.5h3.3M382.5 505.5h-3.3M100.5 502.5h3.3M382.5 502.5h-3.3M100.5 499.5h3.3M382.5 499.5h-3.3M100.5 496.5h3.3M382.5 496.5h-3.3M100.5 494.5h3.3M382.5 494.5h-3.3M100.5 491.5h3.3M382.5 491.5h-3.3M100.5 488.5h3.3M382.5 488.5h-3.3M100.5 483.5h3.3M382.5 483.5h-3.3M100.5 480.5h3.3M382.5 480.5h-3.3M100.5 477.5h3.3M382.5 477.5h-3.3M100.5 475.5h3.3M382.5 475.5h-3.3M100.5 472.5h3.3M382.5 472.5h-3.3M100.5 469.5h3.3M382.5 469.5h-3.3M100.5 466.5h3.3M382.5 466.5h-3.3M100.5 464.5h3.3M382.5 464.5h-3.3M100.5 461.5h3.3M382.5 461.5h-3.3M100.5 455.5h3.3M382.5 455.5h-3.3M100.5 453.5h3.3M382.5 453.5h-3.3M100.5 450.5h3.3M382.5 450.5h-3.3M100.5 447.5h3.3M382.5 447.5h-3.3M100.5 445.5h3.3M382.5 445.5h-3.3M100.5 442.5h3.3M382.5 442.5h-3.3M100.5 439.5h3.3M382.5 439.5h-3.3M100.5 436.5h3.3M382.5 436.5h-3.3M100.5 434.5h3.3M382.5 434.5h-3.3M100.5 428.5h3.3M382.5 428.5h-3.3M100.5 425.5h3.3M382.5 425.5h-3.3M100.5 423.5h3.3M382.5 423.5h-3.3M100.5 420.5h3.3M382.5 420.5h-3.3M100.5 417.5h3.3M382.5 417.5h-3.3M100.5 415.5h3.3M382.5 415.5h-3.3M100.5 412.5h3.3M382.5 412.5h-3.3M100.5 409.5h3.3M382.5 409.5h-3.3M100.5 406.5h3.3M382.5 406.5h-3.3M100.5 401.5h3.3M382.5 401.5h-3.3M100.5 398.5h3.3M382.5 398.5h-3.3M100.5 395.5h3.3M382.5 395.5h-3.3M100.5 393.5h3.3M382.5 393.5h-3.3M100.5 390.5h3.3M382.5 390.5h-3.3M100.5 387.5h3.3M382.5 387.5h-3.3M100.5 385.5h3.3M382.5 385.5h-3.3M100.5 382.5h3.3M382.5 382.5h-3.3M100.5 379.5h3.3M382.5 379.5h-3.3M100.5 374.5h3.3M382.5 374.5h-3.3M100.5 371.5h3.3M382.5 371.5h-3.3M100.5 368.5h3.3M382.5 368.5h-3.3M100.5 365.5h3.3M382.5 365.5h-3.3M100.5 363.5h3.3M382.5 363.5h-3.3M100.5 360.5h3.3M382.5 360.5h-3.3M100.5 357.5h3.3M382.5 357.5h-3.3M100.5 355.5h3.3M382.5 355.5h-3.3M100.5 352.5h3.3M382.5 352.5h-3.3M100.5 346.5h3.3M382.5 346.5h-3.3M100.5 344.5h3.3M382.5 344.5h-3.3M100.5 341.5h3.3M382.5 341.5h-3.3M100.5 338.5h3.3M382.5 338.5h-3.3M100.5 335.5h3.3M382.5 335.5h-3.3M100.5 333.5h3.3M382.5 333.5h-3.3M100.5 330.5h3.3M382.5 330.5h-3.3M100.5 327.5h3.3M382.5 327.5h-3.3M100.5 325.5h3.3M382.5 325.5h-3.3" stroke="#000" stroke-width="0.8" fill="none"/>
<rect x="100.5" y="322.5" width="282.0" height="218.0" fill="none" stroke="#000" stroke-width="1.39"/>
<text x="108.5" y="557.1" letter-spacing="0.55">30</text>
<text x="141.6" y="557.1" letter-spacing="0.55">20</text>
<text x="174.7" y="557.1" letter-spacing="0.55">10</text>
<text x="206.6" y="557.1" letter-spacing="0.55">0</text>
<text x="234.8" y="557.1" letter-spacing="0.55">10</text>
<text x="267.9" y="557.1" letter-spacing="0.55">20</text>
<text x="301.0" y="557.1" letter-spacing="0.55">30</text>
<text x="334.1" y="557.1" letter-spacing="0.55">40</text>
<text x="367.3" y="557.1" letter-spacing="0.55">50</text>
<text x="75.0" y="545.9" letter-spacing="0.55">20</text>
<text x="76.0" y="518.6" letter-spacing="0.55">15</text>
<text x="76.0" y="491.4" letter-spacing="0.55">10</text>
<text x="86.0" y="464.1" letter-spacing="0.55">5</text>
<text x="86.0" y="436.8" letter-spacing="0.55">0</text>
<text x="86.0" y="409.5" letter-spacing="0.55">5</text>
<text x="76.0" y="382.3" letter-spacing="0.55">10</text>
<text x="76.0" y="355.0" letter-spacing="0.55">15</text>
<text x="75.0" y="326.7" letter-spacing="0.55">20</text>
<text class="m" x="241.2" y="578.9" text-anchor="middle" textLength="55.5" lengthAdjust="spacingAndGlyphs"><tspan font-style="italic">ϕ</tspan><tspan dy="4" font-size="11.3">1</tspan><tspan dy="-4"> </tspan>,<tspan class="b">[</tspan><tspan font-style="italic">deg</tspan><tspan class="b">]</tspan></text>
<text class="m" transform="translate(47.5 429.7) rotate(-90)" text-anchor="middle" textLength="109" lengthAdjust="spacingAndGlyphs">Δ<tspan class="b">(</tspan><tspan font-style="italic">V</tspan><tspan dy="4" font-size="11.3" font-style="italic">rad</tspan><tspan dy="-4"> </tspan><tspan class="b">)</tspan>,<tspan class="b">[</tspan><tspan font-style="italic">km/s</tspan><tspan class="b">]</tspan></text>
<path d="M451.5 540.5v-6.1M451.5 322.5v6.1M484.5 540.5v-6.1M484.5 322.5v6.1M517.5 540.5v-6.1M517.5 322.5v6.1M550.5 540.5v-6.1M550.5 322.5v6.1M583.5 540.5v-6.1M583.5 322.5v6.1M616.5 540.5v-6.1M616.5 322.5v6.1M649.5 540.5v-6.1M649.5 322.5v6.1M682.5 540.5v-6.1M682.5 322.5v6.1M715.5 540.5v-6.1M715.5 322.5v6.1M438.5 518.5h6.1M720.5 518.5h-6.1M438.5 475.5h6.1M720.5 475.5h-6.1M438.5 431.5h6.1M720.5 431.5h-6.1M438.5 387.5h6.1M720.5 387.5h-6.1M438.5 344.5h6.1M720.5 344.5h-6.1M441.5 540.5v-3.3M441.5 322.5v3.3M444.5 540.5v-3.3M444.5 322.5v3.3M447.5 540.5v-3.3M447.5 322.5v3.3M454.5 540.5v-3.3M454.5 322.5v3.3M457.5 540.5v-3.3M457.5 322.5v3.3M460.5 540.5v-3.3M460.5 322.5v3.3M464.5 540.5v-3.3M464.5 322.5v3.3M467.5 540.5v-3.3M467.5 322.5v3.3M470.5 540.5v-3.3M470.5 322.5v3.3M474.5 540.5v-3.3M474.5 322.5v3.3M477.5 540.5v-3.3M477.5 322.5v3.3M480.5 540.5v-3.3M480.5 322.5v3.3M487.5 540.5v-3.3M487.5 322.5v3.3M490.5 540.5v-3.3M490.5 322.5v3.3M494.5 540.5v-3.3M494.5 322.5v3.3M497.5 540.5v-3.3M497.5 322.5v3.3M500.5 540.5v-3.3M500.5 322.5v3.3M504.5 540.5v-3.3M504.5 322.5v3.3M507.5 540.5v-3.3M507.5 322.5v3.3M510.5 540.5v-3.3M510.5 322.5v3.3M513.5 540.5v-3.3M513.5 322.5v3.3M520.5 540.5v-3.3M520.5 322.5v3.3M523.5 540.5v-3.3M523.5 322.5v3.3M527.5 540.5v-3.3M527.5 322.5v3.3M530.5 540.5v-3.3M530.5 322.5v3.3M533.5 540.5v-3.3M533.5 322.5v3.3M537.5 540.5v-3.3M537.5 322.5v3.3M540.5 540.5v-3.3M540.5 322.5v3.3M543.5 540.5v-3.3M543.5 322.5v3.3M547.5 540.5v-3.3M547.5 322.5v3.3M553.5 540.5v-3.3M553.5 322.5v3.3M557.5 540.5v-3.3M557.5 322.5v3.3M560.5 540.5v-3.3M560.5 322.5v3.3M563.5 540.5v-3.3M563.5 322.5v3.3M566.5 540.5v-3.3M566.5 322.5v3.3M570.5 540.5v-3.3M570.5 322.5v3.3M573.5 540.5v-3.3M573.5 322.5v3.3M576.5 540.5v-3.3M576.5 322.5v3.3M580.5 540.5v-3.3M580.5 322.5v3.3M586.5 540.5v-3.3M586.5 322.5v3.3M590.5 540.5v-3.3M590.5 322.5v3.3M593.5 540.5v-3.3M593.5 322.5v3.3M596.5 540.5v-3.3M596.5 322.5v3.3M600.5 540.5v-3.3M600.5 322.5v3.3M603.5 540.5v-3.3M603.5 322.5v3.3M606.5 540.5v-3.3M606.5 322.5v3.3M609.5 540.5v-3.3M609.5 322.5v3.3M613.5 540.5v-3.3M613.5 322.5v3.3M619.5 540.5v-3.3M619.5 322.5v3.3M623.5 540.5v-3.3M623.5 322.5v3.3M626.5 540.5v-3.3M626.5 322.5v3.3M629.5 540.5v-3.3M629.5 322.5v3.3M633.5 540.5v-3.3M633.5 322.5v3.3M636.5 540.5v-3.3M636.5 322.5v3.3M639.5 540.5v-3.3M639.5 322.5v3.3M643.5 540.5v-3.3M643.5 322.5v3.3M646.5 540.5v-3.3M646.5 322.5v3.3M653.5 540.5v-3.3M653.5 322.5v3.3M656.5 540.5v-3.3M656.5 322.5v3.3M659.5 540.5v-3.3M659.5 322.5v3.3M662.5 540.5v-3.3M662.5 322.5v3.3M666.5 540.5v-3.3M666.5 322.5v3.3M669.5 540.5v-3.3M669.5 322.5v3.3M672.5 540.5v-3.3M672.5 322.5v3.3M676.5 540.5v-3.3M676.5 322.5v3.3M679.5 540.5v-3.3M679.5 322.5v3.3M686.5 540.5v-3.3M686.5 322.5v3.3M689.5 540.5v-3.3M689.5 322.5v3.3M692.5 540.5v-3.3M692.5 322.5v3.3M696.5 540.5v-3.3M696.5 322.5v3.3M699.5 540.5v-3.3M699.5 322.5v3.3M702.5 540.5v-3.3M702.5 322.5v3.3M706.5 540.5v-3.3M706.5 322.5v3.3M709.5 540.5v-3.3M709.5 322.5v3.3M712.5 540.5v-3.3M712.5 322.5v3.3M719.5 540.5v-3.3M719.5 322.5v3.3M438.5 540.5h3.3M720.5 540.5h-3.3M438.5 536.5h3.3M720.5 536.5h-3.3M438.5 531.5h3.3M720.5 531.5h-3.3M438.5 527.5h3.3M720.5 527.5h-3.3M438.5 523.5h3.3M720.5 523.5h-3.3M438.5 514.5h3.3M720.5 514.5h-3.3M438.5 509.5h3.3M720.5 509.5h-3.3M438.5 505.5h3.3M720.5 505.5h-3.3M438.5 501.5h3.3M720.5 501.5h-3.3M438.5 496.5h3.3M720.5 496.5h-3.3M438.5 492.5h3.3M720.5 492.5h-3.3M438.5 488.5h3.3M720.5 488.5h-3.3M438.5 483.5h3.3M720.5 483.5h-3.3M438.5 479.5h3.3M720.5 479.5h-3.3M438.5 470.5h3.3M720.5 470.5h-3.3M438.5 466.5h3.3M720.5 466.5h-3.3M438.5 461.5h3.3M720.5 461.5h-3.3M438.5 457.5h3.3M720.5 457.5h-3.3M438.5 453.5h3.3M720.5 453.5h-3.3M438.5 448.5h3.3M720.5 448.5h-3.3M438.5 444.5h3.3M720.5 444.5h-3.3M438.5 440.5h3.3M720.5 440.5h-3.3M438.5 435.5h3.3M720.5 435.5h-3.3M438.5 427.5h3.3M720.5 427.5h-3.3M438.5 422.5h3.3M720.5 422.5h-3.3M438.5 418.5h3.3M720.5 418.5h-3.3M438.5 413.5h3.3M720.5 413.5h-3.3M438.5 409.5h3.3M720.5 409.5h-3.3M438.5 405.5h3.3M720.5 405.5h-3.3M438.5 400.5h3.3M720.5 400.5h-3.3M438.5 396.5h3.3M720.5 396.5h-3.3M438.5 392.5h3.3M720.5 392.5h-3.3M438.5 383.5h3.3M720.5 383.5h-3.3M438.5 379.5h3.3M720.5 379.5h-3.3M438.5 374.5h3.3M720.5 374.5h-3.3M438.5 370.5h3.3M720.5 370.5h-3.3M438.5 365.5h3.3M720.5 365.5h-3.3M438.5 361.5h3.3M720.5 361.5h-3.3M438.5 357.5h3.3M720.5 357.5h-3.3M438.5 352.5h3.3M720.5 352.5h-3.3M438.5 348.5h3.3M720.5 348.5h-3.3M438.5 339.5h3.3M720.5 339.5h-3.3M438.5 335.5h3.3M720.5 335.5h-3.3M438.5 331.5h3.3M720.5 331.5h-3.3M438.5 326.5h3.3M720.5 326.5h-3.3M438.5 322.5h3.3M720.5 322.5h-3.3" stroke="#000" stroke-width="0.8" fill="none"/>
<rect x="438.5" y="322.5" width="282.0" height="218.0" fill="none" stroke="#000" stroke-width="1.39"/>
<text x="446.7" y="557.1" letter-spacing="0.55">30</text>
<text x="479.8" y="557.1" letter-spacing="0.55">20</text>
<text x="512.9" y="557.1" letter-spacing="0.55">10</text>
<text x="544.8" y="557.1" letter-spacing="0.55">0</text>
<text x="572.9" y="557.1" letter-spacing="0.55">10</text>
<text x="606.1" y="557.1" letter-spacing="0.55">20</text>
<text x="639.2" y="557.1" letter-spacing="0.55">30</text>
<text x="672.3" y="557.1" letter-spacing="0.55">40</text>
<text x="705.4" y="557.1" letter-spacing="0.55">50</text>
<text x="424.2" y="524.1" letter-spacing="0.55">4</text>
<text x="424.2" y="480.4" letter-spacing="0.55">2</text>
<text x="424.2" y="436.8" letter-spacing="0.55">0</text>
<text x="424.2" y="393.2" letter-spacing="0.55">2</text>
<text x="424.2" y="349.5" letter-spacing="0.55">4</text>
<text class="m" x="579.4" y="578.9" text-anchor="middle" textLength="55.5" lengthAdjust="spacingAndGlyphs"><tspan font-style="italic">ϕ</tspan><tspan dy="4" font-size="11.3">1</tspan><tspan dy="-4"> </tspan>,<tspan class="b">[</tspan><tspan font-style="italic">deg</tspan><tspan class="b">]</tspan></text>
<text class="m" transform="translate(397.0 430.2) rotate(-90)" text-anchor="middle" textLength="132.5" lengthAdjust="spacingAndGlyphs">Δ<tspan class="b">(</tspan><tspan font-style="italic">Distance</tspan><tspan class="b">)</tspan>,<tspan class="b">[</tspan><tspan font-style="italic">kpc</tspan><tspan class="b">]</tspan></text>
<path d="M941.5 278.5v-6.1M941.5 60.5v6.1M995.5 278.5v-6.1M995.5 60.5v6.1M1050.5 278.5v-6.1M1050.5 60.5v6.1M1104.5 278.5v-6.1M1104.5 60.5v6.1M1158.5 278.5v-6.1M1158.5 60.5v6.1M900.5 256.5h6.1M1182.5 256.5h-6.1M900.5 213.5h6.1M1182.5 213.5h-6.1M900.5 169.5h6.1M1182.5 169.5h-6.1M900.5 125.5h6.1M1182.5 125.5h-6.1M900.5 82.5h6.1M1182.5 82.5h-6.1" stroke="#000" stroke-width="0.8" fill="none"/>
<rect x="900.5" y="60.5" width="282.0" height="218.0" fill="none" stroke="#000" stroke-width="1.39"/>
<text x="937.2" y="295.3" letter-spacing="0.55">20</text>
<text x="990.3" y="295.3" letter-spacing="0.55">0</text>
<text x="1039.5" y="295.3" letter-spacing="0.55">20</text>
<text x="1093.7" y="295.3" letter-spacing="0.55">40</text>
<text x="1147.9" y="295.3" letter-spacing="0.55">60</text>
<text x="886.0" y="262.3" letter-spacing="0.55">4</text>
<text x="886.0" y="218.6" letter-spacing="0.55">2</text>
<text x="886.0" y="175.0" letter-spacing="0.55">0</text>
<text x="886.0" y="131.4" letter-spacing="0.55">2</text>
<text x="886.0" y="87.7" letter-spacing="0.55">4</text>
<text class="m" x="1041.2" y="317.1" text-anchor="middle" textLength="55.5" lengthAdjust="spacingAndGlyphs"><tspan font-style="italic">ϕ</tspan><tspan dy="4" font-size="11.3">1</tspan><tspan dy="-4"> </tspan>,<tspan class="b">[</tspan><tspan font-style="italic">deg</tspan><tspan class="b">]</tspan></text>
<text class="m" transform="translate(858.0 169.1) rotate(-90)" text-anchor="middle" textLength="84" lengthAdjust="spacingAndGlyphs">Δ<tspan class="b">(</tspan><tspan font-style="italic">ϕ</tspan><tspan dy="4" font-size="11.3">2</tspan><tspan dy="-4"> </tspan><tspan class="b">)</tspan>,<tspan class="b">[</tspan><tspan font-style="italic">deg</tspan><tspan class="b">]</tspan></text>
<path d="M1279.5 278.5v-6.1M1279.5 60.5v6.1M1333.5 278.5v-6.1M1333.5 60.5v6.1M1388.5 278.5v-6.1M1388.5 60.5v6.1M1442.5 278.5v-6.1M1442.5 60.5v6.1M1496.5 278.5v-6.1M1496.5 60.5v6.1M1238.5 256.5h6.1M1520.5 256.5h-6.1M1238.5 213.5h6.1M1520.5 213.5h-6.1M1238.5 169.5h6.1M1520.5 169.5h-6.1M1238.5 125.5h6.1M1520.5 125.5h-6.1M1238.5 82.5h6.1M1520.5 82.5h-6.1M1241.5 278.5v-3.3M1241.5 60.5v3.3M1247.5 278.5v-3.3M1247.5 60.5v3.3M1252.5 278.5v-3.3M1252.5 60.5v3.3M1258.5 278.5v-3.3M1258.5 60.5v3.3M1263.5 278.5v-3.3M1263.5 60.5v3.3M1268.5 278.5v-3.3M1268.5 60.5v3.3M1274.5 278.5v-3.3M1274.5 60.5v3.3M1285.5 278.5v-3.3M1285.5 60.5v3.3M1290.5 278.5v-3.3M1290.5 60.5v3.3M1296.5 278.5v-3.3M1296.5 60.5v3.3M1301.5 278.5v-3.3M1301.5 60.5v3.3M1306.5 278.5v-3.3M1306.5 60.5v3.3M1312.5 278.5v-3.3M1312.5 60.5v3.3M1317.5 278.5v-3.3M1317.5 60.5v3.3M1323.5 278.5v-3.3M1323.5 60.5v3.3M1328.5 278.5v-3.3M1328.5 60.5v3.3M1339.5 278.5v-3.3M1339.5 60.5v3.3M1344.5 278.5v-3.3M1344.5 60.5v3.3M1350.5 278.5v-3.3M1350.5 60.5v3.3M1355.5 278.5v-3.3M1355.5 60.5v3.3M1361.5 278.5v-3.3M1361.5 60.5v3.3M1366.5 278.5v-3.3M1366.5 60.5v3.3M1371.5 278.5v-3.3M1371.5 60.5v3.3M1377.5 278.5v-3.3M1377.5 60.5v3.3M1382.5 278.5v-3.3M1382.5 60.5v3.3M1393.5 278.5v-3.3M1393.5 60.5v3.3M1399.5 278.5v-3.3M1399.5 60.5v3.3M1404.5 278.5v-3.3M1404.5 60.5v3.3M1409.5 278.5v-3.3M1409.5 60.5v3.3M1415.5 278.5v-3.3M1415.5 60.5v3.3M1420.5 278.5v-3.3M1420.5 60.5v3.3M1426.5 278.5v-3.3M1426.5 60.5v3.3M1431.5 278.5v-3.3M1431.5 60.5v3.3M1437.5 278.5v-3.3M1437.5 60.5v3.3M1447.5 278.5v-3.3M1447.5 60.5v3.3M1453.5 278.5v-3.3M1453.5 60.5v3.3M1458.5 278.5v-3.3M1458.5 60.5v3.3M1464.5 278.5v-3.3M1464.5 60.5v3.3M1469.5 278.5v-3.3M1469.5 60.5v3.3M1474.5 278.5v-3.3M1474.5 60.5v3.3M1480.5 278.5v-3.3M1480.5 60.5v3.3M1485.5 278.5v-3.3M1485.5 60.5v3.3M1491.5 278.5v-3.3M1491.5 60.5v3.3M1502.5 278.5v-3.3M1502.5 60.5v3.3M1507.5 278.5v-3.3M1507.5 60.5v3.3M1512.5 278.5v-3.3M1512.5 60.5v3.3M1518.5 278.5v-3.3M1518.5 60.5v3.3M1238.5 278.5h3.3M1520.5 278.5h-3.3M1238.5 274.5h3.3M1520.5 274.5h-3.3M1238.5 269.5h3.3M1520.5 269.5h-3.3M1238.5 265.5h3.3M1520.5 265.5h-3.3M1238.5 261.5h3.3M1520.5 261.5h-3.3M1238.5 252.5h3.3M1520.5 252.5h-3.3M1238.5 248.5h3.3M1520.5 248.5h-3.3M1238.5 243.5h3.3M1520.5 243.5h-3.3M1238.5 239.5h3.3M1520.5 239.5h-3.3M1238.5 235.5h3.3M1520.5 235.5h-3.3M1238.5 230.5h3.3M1520.5 230.5h-3.3M1238.5 226.5h3.3M1520.5 226.5h-3.3M1238.5 221.5h3.3M1520.5 221.5h-3.3M1238.5 217.5h3.3M1520.5 217.5h-3.3M1238.5 208.5h3.3M1520.5 208.5h-3.3M1238.5 204.5h3.3M1520.5 204.5h-3.3M1238.5 200.5h3.3M1520.5 200.5h-3.3M1238.5 195.5h3.3M1520.5 195.5h-3.3M1238.5 191.5h3.3M1520.5 191.5h-3.3M1238.5 187.5h3.3M1520.5 187.5h-3.3M1238.5 182.5h3.3M1520.5 182.5h-3.3M1238.5 178.5h3.3M1520.5 178.5h-3.3M1238.5 173.5h3.3M1520.5 173.5h-3.3M1238.5 165.5h3.3M1520.5 165.5h-3.3M1238.5 160.5h3.3M1520.5 160.5h-3.3M1238.5 156.5h3.3M1520.5 156.5h-3.3M1238.5 152.5h3.3M1520.5 152.5h-3.3M1238.5 147.5h3.3M1520.5 147.5h-3.3M1238.5 143.5h3.3M1520.5 143.5h-3.3M1238.5 139.5h3.3M1520.5 139.5h-3.3M1238.5 134.5h3.3M1520.5 134.5h-3.3M1238.5 130.5h3.3M1520.5 130.5h-3.3M1238.5 121.5h3.3M1520.5 121.5h-3.3M1238.5 117.5h3.3M1520.5 117.5h-3.3M1238.5 112.5h3.3M1520.5 112.5h-3.3M1238.5 108.5h3.3M1520.5 108.5h-3.3M1238.5 104.5h3.3M1520.5 104.5h-3.3M1238.5 99.5h3.3M1520.5 99.5h-3.3M1238.5 95.5h3.3M1520.5 95.5h-3.3M1238.5 91.5h3.3M1520.5 91.5h-3.3M1238.5 86.5h3.3M1520.5 86.5h-3.3M1238.5 77.5h3.3M1520.5 77.5h-3.3M1238.5 73.5h3.3M1520.5 73.5h-3.3M1238.5 69.5h3.3M1520.5 69.5h-3.3M1238.5 64.5h3.3M1520.5 64.5h-3.3M1238.5 60.5h3.3M1520.5 60.5h-3.3" stroke="#000" stroke-width="0.8" fill="none"/>
<rect x="1238.5" y="60.5" width="282.0" height="218.0" fill="none" stroke="#000" stroke-width="1.39"/>
<text x="1275.4" y="295.3" letter-spacing="0.55">20</text>
<text x="1328.4" y="295.3" letter-spacing="0.55">0</text>
<text x="1377.7" y="295.3" letter-spacing="0.55">20</text>
<text x="1431.9" y="295.3" letter-spacing="0.55">40</text>
<text x="1486.1" y="295.3" letter-spacing="0.55">60</text>
<text x="1224.2" y="262.3" letter-spacing="0.55">4</text>
<text x="1224.2" y="218.6" letter-spacing="0.55">2</text>
<text x="1224.2" y="175.0" letter-spacing="0.55">0</text>
<text x="1224.2" y="131.4" letter-spacing="0.55">2</text>
<text x="1224.2" y="87.7" letter-spacing="0.55">4</text>
<text class="m" x="1379.4" y="317.1" text-anchor="middle" textLength="55.5" lengthAdjust="spacingAndGlyphs"><tspan font-style="italic">ϕ</tspan><tspan dy="4" font-size="11.3">1</tspan><tspan dy="-4"> </tspan>,<tspan class="b">[</tspan><tspan font-style="italic">deg</tspan><tspan class="b">]</tspan></text>
<text class="m" transform="translate(1194.5 169.1) rotate(-90)" text-anchor="middle" textLength="134" lengthAdjust="spacingAndGlyphs">Δ<tspan class="b">(</tspan><tspan font-style="italic">μ</tspan><tspan dy="4" font-size="11.3" font-style="italic">along</tspan><tspan dy="-4"> </tspan><tspan class="b">)</tspan>,<tspan class="b">[</tspan><tspan font-style="italic">mas/yr</tspan><tspan class="b">]</tspan></text>
<path d="M941.5 540.5v-6.1M941.5 322.5v6.1M995.5 540.5v-6.1M995.5 322.5v6.1M1050.5 540.5v-6.1M1050.5 322.5v6.1M1104.5 540.5v-6.1M1104.5 322.5v6.1M1158.5 540.5v-6.1M1158.5 322.5v6.1M900.5 540.5h6.1M1182.5 540.5h-6.1M900.5 513.5h6.1M1182.5 513.5h-6.1M900.5 485.5h6.1M1182.5 485.5h-6.1M900.5 458.5h6.1M1182.5 458.5h-6.1M900.5 431.5h6.1M1182.5 431.5h-6.1M900.5 404.5h6.1M1182.5 404.5h-6.1M900.5 376.5h6.1M1182.5 376.5h-6.1M900.5 349.5h6.1M1182.5 349.5h-6.1M900.5 322.5h6.1M1182.5 322.5h-6.1M903.5 540.5v-3.3M903.5 322.5v3.3M909.5 540.5v-3.3M909.5 322.5v3.3M914.5 540.5v-3.3M914.5 322.5v3.3M919.5 540.5v-3.3M919.5 322.5v3.3M925.5 540.5v-3.3M925.5 322.5v3.3M930.5 540.5v-3.3M930.5 322.5v3.3M936.5 540.5v-3.3M936.5 322.5v3.3M947.5 540.5v-3.3M947.5 322.5v3.3M952.5 540.5v-3.3M952.5 322.5v3.3M957.5 540.5v-3.3M957.5 322.5v3.3M963.5 540.5v-3.3M963.5 322.5v3.3M968.5 540.5v-3.3M968.5 322.5v3.3M974.5 540.5v-3.3M974.5 322.5v3.3M979.5 540.5v-3.3M979.5 322.5v3.3M984.5 540.5v-3.3M984.5 322.5v3.3M990.5 540.5v-3.3M990.5 322.5v3.3M1001.5 540.5v-3.3M1001.5 322.5v3.3M1006.5 540.5v-3.3M1006.5 322.5v3.3M1012.5 540.5v-3.3M1012.5 322.5v3.3M1017.5 540.5v-3.3M1017.5 322.5v3.3M1022.5 540.5v-3.3M1022.5 322.5v3.3M1028.5 540.5v-3.3M1028.5 322.5v3.3M1033.5 540.5v-3.3M1033.5 322.5v3.3M1039.5 540.5v-3.3M1039.5 322.5v3.3M1044.5 540.5v-3.3M1044.5 322.5v3.3M1055.5 540.5v-3.3M1055.5 322.5v3.3M1060.5 540.5v-3.3M1060.5 322.5v3.3M1066.5 540.5v-3.3M1066.5 322.5v3.3M1071.5 540.5v-3.3M1071.5 322.5v3.3M1077.5 540.5v-3.3M1077.5 322.5v3.3M1082.5 540.5v-3.3M1082.5 322.5v3.3M1087.5 540.5v-3.3M1087.5 322.5v3.3M1093.5 540.5v-3.3M1093.5 322.5v3.3M1098.5 540.5v-3.3M1098.5 322.5v3.3M1109.5 540.5v-3.3M1109.5 322.5v3.3M1115.5 540.5v-3.3M1115.5 322.5v3.3M1120.5 540.5v-3.3M1120.5 322.5v3.3M1125.5 540.5v-3.3M1125.5 322.5v3.3M1131.5 540.5v-3.3M1131.5 322.5v3.3M1136.5 540.5v-3.3M1136.5 322.5v3.3M1142.5 540.5v-3.3M1142.5 322.5v3.3M1147.5 540.5v-3.3M1147.5 322.5v3.3M1153.5 540.5v-3.3M1153.5 322.5v3.3M1163.5 540.5v-3.3M1163.5 322.5v3.3M1169.5 540.5v-3.3M1169.5 322.5v3.3M1174.5 540.5v-3.3M1174.5 322.5v3.3M1180.5 540.5v-3.3M1180.5 322.5v3.3M900.5 537.5h3.3M1182.5 537.5h-3.3M900.5 535.5h3.3M1182.5 535.5h-3.3M900.5 532.5h3.3M1182.5 532.5h-3.3M900.5 529.5h3.3M1182.5 529.5h-3.3M900.5 526.5h3.3M1182.5 526.5h-3.3M900.5 524.5h3.3M1182.5 524.5h-3.3M900.5 521.5h3.3M1182.5 521.5h-3.3M900.5 518.5h3.3M1182.5 518.5h-3.3M900.5 515.5h3.3M1182.5 515.5h-3.3M900.5 510.5h3.3M1182.5 510.5h-3.3M900.5 507.5h3.3M1182.5 507.5h-3.3M900.5 505.5h3.3M1182.5 505.5h-3.3M900.5 502.5h3.3M1182.5 502.5h-3.3M900.5 499.5h3.3M1182.5 499.5h-3.3M900.5 496.5h3.3M1182.5 496.5h-3.3M900.5 494.5h3.3M1182.5 494.5h-3.3M900.5 491.5h3.3M1182.5 491.5h-3.3M900.5 488.5h3.3M1182.5 488.5h-3.3M900.5 483.5h3.3M1182.5 483.5h-3.3M900.5 480.5h3.3M1182.5 480.5h-3.3M900.5 477.5h3.3M1182.5 477.5h-3.3M900.5 475.5h3.3M1182.5 475.5h-3.3M900.5 472.5h3.3M1182.5 472.5h-3.3M900.5 469.5h3.3M1182.5 469.5h-3.3M900.5 466.5h3.3M1182.5 466.5h-3.3M900.5 464.5h3.3M1182.5 464.5h-3.3M900.5 461.5h3.3M1182.5 461.5h-3.3M900.5 455.5h3.3M1182.5 455.5h-3.3M900.5 453.5h3.3M1182.5 453.5h-3.3M900.5 450.5h3.3M1182.5 450.5h-3.3M900.5 447.5h3.3M1182.5 447.5h-3.3M900.5 445.5h3.3M1182.5 445.5h-3.3M900.5 442.5h3.3M1182.5 442.5h-3.3M900.5 439.5h3.3M1182.5 439.5h-3.3M900.5 436.5h3.3M1182.5 436.5h-3.3M900.5 434.5h3.3M1182.5 434.5h-3.3M900.5 428.5h3.3M1182.5 428.5h-3.3M900.5 425.5h3.3M1182.5 425.5h-3.3M900.5 423.5h3.3M1182.5 423.5h-3.3M900.5 420.5h3.3M1182.5 420.5h-3.3M900.5 417.5h3.3M1182.5 417.5h-3.3M900.5 415.5h3.3M1182.5 415.5h-3.3M900.5 412.5h3.3M1182.5 412.5h-3.3M900.5 409.5h3.3M1182.5 409.5h-3.3M900.5 406.5h3.3M1182.5 406.5h-3.3M900.5 401.5h3.3M1182.5 401.5h-3.3M900.5 398.5h3.3M1182.5 398.5h-3.3M900.5 395.5h3.3M1182.5 395.5h-3.3M900.5 393.5h3.3M1182.5 393.5h-3.3M900.5 390.5h3.3M1182.5 390.5h-3.3M900.5 387.5h3.3M1182.5 387.5h-3.3M900.5 385.5h3.3M1182.5 385.5h-3.3M900.5 382.5h3.3M1182.5 382.5h-3.3M900.5 379.5h3.3M1182.5 379.5h-3.3M900.5 374.5h3.3M1182.5 374.5h-3.3M900.5 371.5h3.3M1182.5 371.5h-3.3M900.5 368.5h3.3M1182.5 368.5h-3.3M900.5 365.5h3.3M1182.5 365.5h-3.3M900.5 363.5h3.3M1182.5 363.5h-3.3M900.5 360.5h3.3M1182.5 360.5h-3.3M900.5 357.5h3.3M1182.5 357.5h-3.3M900.5 355.5h3.3M1182.5 355.5h-3.3M900.5 352.5h3.3M1182.5 352.5h-3.3M900.5 346.5h3.3M1182.5 346.5h-3.3M900.5 344.5h3.3M1182.5 344.5h-3.3M900.5 341.5h3.3M1182.5 341.5h-3.3M900.5 338.5h3.3M1182.5 338.5h-3.3M900.5 335.5h3.3M1182.5 335.5h-3.3M900.5 333.5h3.3M1182.5 333.5h-3.3M900.5 330.5h3.3M1182.5 330.5h-3.3M900.5 327.5h3.3M1182.5 327.5h-3.3M900.5 325.5h3.3M1182.5 325.5h-3.3" stroke="#000" stroke-width="0.8" fill="none"/>
<rect x="900.5" y="322.5" width="282.0" height="218.0" fill="none" stroke="#000" stroke-width="1.39"/>
<text x="937.2" y="557.1" letter-spacing="0.55">20</text>
<text x="990.3" y="557.1" letter-spacing="0.55">0</text>
<text x="1039.5" y="557.1" letter-spacing="0.55">20</text>
<text x="1093.7" y="557.1" letter-spacing="0.55">40</text>
<text x="1147.9" y="557.1" letter-spacing="0.55">60</text>
<text x="874.9" y="545.9" letter-spacing="0.55">20</text>
<text x="876.0" y="518.6" letter-spacing="0.55">15</text>
<text x="876.0" y="491.4" letter-spacing="0.55">10</text>
<text x="886.0" y="464.1" letter-spacing="0.55">5</text>
<text x="886.0" y="436.8" letter-spacing="0.55">0</text>
<text x="886.0" y="409.5" letter-spacing="0.55">5</text>
<text x="876.0" y="382.3" letter-spacing="0.55">10</text>
<text x="876.0" y="355.0" letter-spacing="0.55">15</text>
<text x="874.9" y="326.7" letter-spacing="0.55">20</text>
<text class="m" x="1041.2" y="578.9" text-anchor="middle" textLength="55.5" lengthAdjust="spacingAndGlyphs"><tspan font-style="italic">ϕ</tspan><tspan dy="4" font-size="11.3">1</tspan><tspan dy="-4"> </tspan>,<tspan class="b">[</tspan><tspan font-style="italic">deg</tspan><tspan class="b">]</tspan></text>
<text class="m" transform="translate(847.5 429.7) rotate(-90)" text-anchor="middle" textLength="109" lengthAdjust="spacingAndGlyphs">Δ<tspan class="b">(</tspan><tspan font-style="italic">V</tspan><tspan dy="4" font-size="11.3" font-style="italic">rad</tspan><tspan dy="-4"> </tspan><tspan class="b">)</tspan>,<tspan class="b">[</tspan><tspan font-style="italic">km/s</tspan><tspan class="b">]</tspan></text>
<path d="M1279.5 540.5v-6.1M1279.5 322.5v6.1M1333.5 540.5v-6.1M1333.5 322.5v6.1M1388.5 540.5v-6.1M1388.5 322.5v6.1M1442.5 540.5v-6.1M1442.5 322.5v6.1M1496.5 540.5v-6.1M1496.5 322.5v6.1M1238.5 518.5h6.1M1520.5 518.5h-6.1M1238.5 475.5h6.1M1520.5 475.5h-6.1M1238.5 431.5h6.1M1520.5 431.5h-6.1M1238.5 387.5h6.1M1520.5 387.5h-6.1M1238.5 344.5h6.1M1520.5 344.5h-6.1M1241.5 540.5v-3.3M1241.5 322.5v3.3M1247.5 540.5v-3.3M1247.5 322.5v3.3M1252.5 540.5v-3.3M1252.5 322.5v3.3M1258.5 540.5v-3.3M1258.5 322.5v3.3M1263.5 540.5v-3.3M1263.5 322.5v3.3M1268.5 540.5v-3.3M1268.5 322.5v3.3M1274.5 540.5v-3.3M1274.5 322.5v3.3M1285.5 540.5v-3.3M1285.5 322.5v3.3M1290.5 540.5v-3.3M1290.5 322.5v3.3M1296.5 540.5v-3.3M1296.5 322.5v3.3M1301.5 540.5v-3.3M1301.5 322.5v3.3M1306.5 540.5v-3.3M1306.5 322.5v3.3M1312.5 540.5v-3.3M1312.5 322.5v3.3M1317.5 540.5v-3.3M1317.5 322.5v3.3M1323.5 540.5v-3.3M1323.5 322.5v3.3M1328.5 540.5v-3.3M1328.5 322.5v3.3M1339.5 540.5v-3.3M1339.5 322.5v3.3M1344.5 540.5v-3.3M1344.5 322.5v3.3M1350.5 540.5v-3.3M1350.5 322.5v3.3M1355.5 540.5v-3.3M1355.5 322.5v3.3M1361.5 540.5v-3.3M1361.5 322.5v3.3M1366.5 540.5v-3.3M1366.5 322.5v3.3M1371.5 540.5v-3.3M1371.5 322.5v3.3M1377.5 540.5v-3.3M1377.5 322.5v3.3M1382.5 540.5v-3.3M1382.5 322.5v3.3M1393.5 540.5v-3.3M1393.5 322.5v3.3M1399.5 540.5v-3.3M1399.5 322.5v3.3M1404.5 540.5v-3.3M1404.5 322.5v3.3M1409.5 540.5v-3.3M1409.5 322.5v3.3M1415.5 540.5v-3.3M1415.5 322.5v3.3M1420.5 540.5v-3.3M1420.5 322.5v3.3M1426.5 540.5v-3.3M1426.5 322.5v3.3M1431.5 540.5v-3.3M1431.5 322.5v3.3M1437.5 540.5v-3.3M1437.5 322.5v3.3M1447.5 540.5v-3.3M1447.5 322.5v3.3M1453.5 540.5v-3.3M1453.5 322.5v3.3M1458.5 540.5v-3.3M1458.5 322.5v3.3M1464.5 540.5v-3.3M1464.5 322.5v3.3M1469.5 540.5v-3.3M1469.5 322.5v3.3M1474.5 540.5v-3.3M1474.5 322.5v3.3M1480.5 540.5v-3.3M1480.5 322.5v3.3M1485.5 540.5v-3.3M1485.5 322.5v3.3M1491.5 540.5v-3.3M1491.5 322.5v3.3M1502.5 540.5v-3.3M1502.5 322.5v3.3M1507.5 540.5v-3.3M1507.5 322.5v3.3M1512.5 540.5v-3.3M1512.5 322.5v3.3M1518.5 540.5v-3.3M1518.5 322.5v3.3M1238.5 540.5h3.3M1520.5 540.5h-3.3M1238.5 536.5h3.3M1520.5 536.5h-3.3M1238.5 531.5h3.3M1520.5 531.5h-3.3M1238.5 527.5h3.3M1520.5 527.5h-3.3M1238.5 523.5h3.3M1520.5 523.5h-3.3M1238.5 514.5h3.3M1520.5 514.5h-3.3M1238.5 509.5h3.3M1520.5 509.5h-3.3M1238.5 505.5h3.3M1520.5 505.5h-3.3M1238.5 501.5h3.3M1520.5 501.5h-3.3M1238.5 496.5h3.3M1520.5 496.5h-3.3M1238.5 492.5h3.3M1520.5 492.5h-3.3M1238.5 488.5h3.3M1520.5 488.5h-3.3M1238.5 483.5h3.3M1520.5 483.5h-3.3M1238.5 479.5h3.3M1520.5 479.5h-3.3M1238.5 470.5h3.3M1520.5 470.5h-3.3M1238.5 466.5h3.3M1520.5 466.5h-3.3M1238.5 461.5h3.3M1520.5 461.5h-3.3M1238.5 457.5h3.3M1520.5 457.5h-3.3M1238.5 453.5h3.3M1520.5 453.5h-3.3M1238.5 448.5h3.3M1520.5 448.5h-3.3M1238.5 444.5h3.3M1520.5 444.5h-3.3M1238.5 440.5h3.3M1520.5 440.5h-3.3M1238.5 435.5h3.3M1520.5 435.5h-3.3M1238.5 427.5h3.3M1520.5 427.5h-3.3M1238.5 422.5h3.3M1520.5 422.5h-3.3M1238.5 418.5h3.3M1520.5 418.5h-3.3M1238.5 413.5h3.3M1520.5 413.5h-3.3M1238.5 409.5h3.3M1520.5 409.5h-3.3M1238.5 405.5h3.3M1520.5 405.5h-3.3M1238.5 400.5h3.3M1520.5 400.5h-3.3M1238.5 396.5h3.3M1520.5 396.5h-3.3M1238.5 392.5h3.3M1520.5 392.5h-3.3M1238.5 383.5h3.3M1520.5 383.5h-3.3M1238.5 379.5h3.3M1520.5 379.5h-3.3M1238.5 374.5h3.3M1520.5 374.5h-3.3M1238.5 370.5h3.3M1520.5 370.5h-3.3M1238.5 365.5h3.3M1520.5 365.5h-3.3M1238.5 361.5h3.3M1520.5 361.5h-3.3M1238.5 357.5h3.3M1520.5 357.5h-3.3M1238.5 352.5h3.3M1520.5 352.5h-3.3M1238.5 348.5h3.3M1520.5 348.5h-3.3M1238.5 339.5h3.3M1520.5 339.5h-3.3M1238.5 335.5h3.3M1520.5 335.5h-3.3M1238.5 331.5h3.3M1520.5 331.5h-3.3M1238.5 326.5h3.3M1520.5 326.5h-3.3M1238.5 322.5h3.3M1520.5 322.5h-3.3" stroke="#000" stroke-width="0.8" fill="none"/>
<rect x="1238.5" y="322.5" width="282.0" height="218.0" fill="none" stroke="#000" stroke-width="1.39"/>
<text x="1275.4" y="557.1" letter-spacing="0.55">20</text>
<text x="1328.4" y="557.1" letter-spacing="0.55">0</text>
<text x="1377.7" y="557.1" letter-spacing="0.55">20</text>
<text x="1431.9" y="557.1" letter-spacing="0.55">40</text>
<text x="1486.1" y="557.1" letter-spacing="0.55">60</text>
<text x="1224.2" y="524.1" letter-spacing="0.55">4</text>
<text x="1224.2" y="480.4" letter-spacing="0.55">2</text>
<text x="1224.2" y="436.8" letter-spacing="0.55">0</text>
<text x="1224.2" y="393.2" letter-spacing="0.55">2</text>
<text x="1224.2" y="349.5" letter-spacing="0.55">4</text>
<text class="m" x="1379.4" y="578.9" text-anchor="middle" textLength="55.5" lengthAdjust="spacingAndGlyphs"><tspan font-style="italic">ϕ</tspan><tspan dy="4" font-size="11.3">1</tspan><tspan dy="-4"> </tspan>,<tspan class="b">[</tspan><tspan font-style="italic">deg</tspan><tspan class="b">]</tspan></text>
<text class="m" transform="translate(1197.0 430.2) rotate(-90)" text-anchor="middle" textLength="132.5" lengthAdjust="spacingAndGlyphs">Δ<tspan class="b">(</tspan><tspan font-style="italic">Distance</tspan><tspan class="b">)</tspan>,<tspan class="b">[</tspan><tspan font-style="italic">kpc</tspan><tspan class="b">]</tspan></text>
<path d="M1741.5 278.5v-6.1M1741.5 60.5v6.1M1795.5 278.5v-6.1M1795.5 60.5v6.1M1850.5 278.5v-6.1M1850.5 60.5v6.1M1904.5 278.5v-6.1M1904.5 60.5v6.1M1958.5 278.5v-6.1M1958.5 60.5v6.1M1700.5 256.5h6.1M1982.5 256.5h-6.1M1700.5 213.5h6.1M1982.5 213.5h-6.1M1700.5 169.5h6.1M1982.5 169.5h-6.1M1700.5 125.5h6.1M1982.5 125.5h-6.1M1700.5 82.5h6.1M1982.5 82.5h-6.1" stroke="#000" stroke-width="0.8" fill="none"/>
<rect x="1700.5" y="60.5" width="282.0" height="218.0" fill="none" stroke="#000" stroke-width="1.39"/>
<text x="1737.2" y="295.3" letter-spacing="0.55">20</text>
<text x="1790.3" y="295.3" letter-spacing="0.55">0</text>
<text x="1839.5" y="295.3" letter-spacing="0.55">20</text>
<text x="1893.7" y="295.3" letter-spacing="0.55">40</text>
<text x="1947.9" y="295.3" letter-spacing="0.55">60</text>
<text x="1686.0" y="262.3" letter-spacing="0.55">4</text>
<text x="1686.0" y="218.6" letter-spacing="0.55">2</text>
<text x="1686.0" y="175.0" letter-spacing="0.55">0</text>
<text x="1686.0" y="131.4" letter-spacing="0.55">2</text>
<text x="1686.0" y="87.7" letter-spacing="0.55">4</text>
<text class="m" x="1841.2" y="317.1" text-anchor="middle" textLength="55.5" lengthAdjust="spacingAndGlyphs"><tspan font-style="italic">ϕ</tspan><tspan dy="4" font-size="11.3">1</tspan><tspan dy="-4"> </tspan>,<tspan class="b">[</tspan><tspan font-style="italic">deg</tspan><tspan class="b">]</tspan></text>
<text class="m" transform="translate(1658.0 169.1) rotate(-90)" text-anchor="middle" textLength="84" lengthAdjust="spacingAndGlyphs">Δ<tspan class="b">(</tspan><tspan font-style="italic">ϕ</tspan><tspan dy="4" font-size="11.3">2</tspan><tspan dy="-4"> </tspan><tspan class="b">)</tspan>,<tspan class="b">[</tspan><tspan font-style="italic">deg</tspan><tspan class="b">]</tspan></text>
<path d="M2079.5 278.5v-6.1M2079.5 60.5v6.1M2133.5 278.5v-6.1M2133.5 60.5v6.1M2188.5 278.5v-6.1M2188.5 60.5v6.1M2242.5 278.5v-6.1M2242.5 60.5v6.1M2296.5 278.5v-6.1M2296.5 60.5v6.1M2038.5 256.5h6.1M2320.5 256.5h-6.1M2038.5 213.5h6.1M2320.5 213.5h-6.1M2038.5 169.5h6.1M2320.5 169.5h-6.1M2038.5 125.5h6.1M2320.5 125.5h-6.1M2038.5 82.5h6.1M2320.5 82.5h-6.1M2041.5 278.5v-3.3M2041.5 60.5v3.3M2047.5 278.5v-3.3M2047.5 60.5v3.3M2052.5 278.5v-3.3M2052.5 60.5v3.3M2058.5 278.5v-3.3M2058.5 60.5v3.3M2063.5 278.5v-3.3M2063.5 60.5v3.3M2068.5 278.5v-3.3M2068.5 60.5v3.3M2074.5 278.5v-3.3M2074.5 60.5v3.3M2085.5 278.5v-3.3M2085.5 60.5v3.3M2090.5 278.5v-3.3M2090.5 60.5v3.3M2096.5 278.5v-3.3M2096.5 60.5v3.3M2101.5 278.5v-3.3M2101.5 60.5v3.3M2106.5 278.5v-3.3M2106.5 60.5v3.3M2112.5 278.5v-3.3M2112.5 60.5v3.3M2117.5 278.5v-3.3M2117.5 60.5v3.3M2123.5 278.5v-3.3M2123.5 60.5v3.3M2128.5 278.5v-3.3M2128.5 60.5v3.3M2139.5 278.5v-3.3M2139.5 60.5v3.3M2144.5 278.5v-3.3M2144.5 60.5v3.3M2150.5 278.5v-3.3M2150.5 60.5v3.3M2155.5 278.5v-3.3M2155.5 60.5v3.3M2161.5 278.5v-3.3M2161.5 60.5v3.3M2166.5 278.5v-3.3M2166.5 60.5v3.3M2171.5 278.5v-3.3M2171.5 60.5v3.3M2177.5 278.5v-3.3M2177.5 60.5v3.3M2182.5 278.5v-3.3M2182.5 60.5v3.3M2193.5 278.5v-3.3M2193.5 60.5v3.3M2199.5 278.5v-3.3M2199.5 60.5v3.3M2204.5 278.5v-3.3M2204.5 60.5v3.3M2209.5 278.5v-3.3M2209.5 60.5v3.3M2215.5 278.5v-3.3M2215.5 60.5v3.3M2220.5 278.5v-3.3M2220.5 60.5v3.3M2226.5 278.5v-3.3M2226.5 60.5v3.3M2231.5 278.5v-3.3M2231.5 60.5v3.3M2237.5 278.5v-3.3M2237.5 60.5v3.3M2247.5 278.5v-3.3M2247.5 60.5v3.3M2253.5 278.5v-3.3M2253.5 60.5v3.3M2258.5 278.5v-3.3M2258.5 60.5v3.3M2264.5 278.5v-3.3M2264.5 60.5v3.3M2269.5 278.5v-3.3M2269.5 60.5v3.3M2274.5 278.5v-3.3M2274.5 60.5v3.3M2280.5 278.5v-3.3M2280.5 60.5v3.3M2285.5 278.5v-3.3M2285.5 60.5v3.3M2291.5 278.5v-3.3M2291.5 60.5v3.3M2302.5 278.5v-3.3M2302.5 60.5v3.3M2307.5 278.5v-3.3M2307.5 60.5v3.3M2312.5 278.5v-3.3M2312.5 60.5v3.3M2318.5 278.5v-3.3M2318.5 60.5v3.3M2038.5 278.5h3.3M2320.5 278.5h-3.3M2038.5 274.5h3.3M2320.5 274.5h-3.3M2038.5 269.5h3.3M2320.5 269.5h-3.3M2038.5 265.5h3.3M2320.5 265.5h-3.3M2038.5 261.5h3.3M2320.5 261.5h-3.3M2038.5 252.5h3.3M2320.5 252.5h-3.3M2038.5 248.5h3.3M2320.5 248.5h-3.3M2038.5 243.5h3.3M2320.5 243.5h-3.3M2038.5 239.5h3.3M2320.5 239.5h-3.3M2038.5 235.5h3.3M2320.5 235.5h-3.3M2038.5 230.5h3.3M2320.5 230.5h-3.3M2038.5 226.5h3.3M2320.5 226.5h-3.3M2038.5 221.5h3.3M2320.5 221.5h-3.3M2038.5 217.5h3.3M2320.5 217.5h-3.3M2038.5 208.5h3.3M2320.5 208.5h-3.3M2038.5 204.5h3.3M2320.5 204.5h-3.3M2038.5 200.5h3.3M2320.5 200.5h-3.3M2038.5 195.5h3.3M2320.5 195.5h-3.3M2038.5 191.5h3.3M2320.5 191.5h-3.3M2038.5 187.5h3.3M2320.5 187.5h-3.3M2038.5 182.5h3.3M2320.5 182.5h-3.3M2038.5 178.5h3.3M2320.5 178.5h-3.3M2038.5 173.5h3.3M2320.5 173.5h-3.3M2038.5 165.5h3.3M2320.5 165.5h-3.3M2038.5 160.5h3.3M2320.5 160.5h-3.3M2038.5 156.5h3.3M2320.5 156.5h-3.3M2038.5 152.5h3.3M2320.5 152.5h-3.3M2038.5 147.5h3.3M2320.5 147.5h-3.3M2038.5 143.5h3.3M2320.5 143.5h-3.3M2038.5 139.5h3.3M2320.5 139.5h-3.3M2038.5 134.5h3.3M2320.5 134.5h-3.3M2038.5 130.5h3.3M2320.5 130.5h-3.3M2038.5 121.5h3.3M2320.5 121.5h-3.3M2038.5 117.5h3.3M2320.5 117.5h-3.3M2038.5 112.5h3.3M2320.5 112.5h-3.3M2038.5 108.5h3.3M2320.5 108.5h-3.3M2038.5 104.5h3.3M2320.5 104.5h-3.3M2038.5 99.5h3.3M2320.5 99.5h-3.3M2038.5 95.5h3.3M2320.5 95.5h-3.3M2038.5 91.5h3.3M2320.5 91.5h-3.3M2038.5 86.5h3.3M2320.5 86.5h-3.3M2038.5 77.5h3.3M2320.5 77.5h-3.3M2038.5 73.5h3.3M2320.5 73.5h-3.3M2038.5 69.5h3.3M2320.5 69.5h-3.3M2038.5 64.5h3.3M2320.5 64.5h-3.3M2038.5 60.5h3.3M2320.5 60.5h-3.3" stroke="#000" stroke-width="0.8" fill="none"/>
<rect x="2038.5" y="60.5" width="282.0" height="218.0" fill="none" stroke="#000" stroke-width="1.39"/>
<text x="2075.4" y="295.3" letter-spacing="0.55">20</text>
<text x="2128.4" y="295.3" letter-spacing="0.55">0</text>
<text x="2177.7" y="295.3" letter-spacing="0.55">20</text>
<text x="2231.9" y="295.3" letter-spacing="0.55">40</text>
<text x="2286.1" y="295.3" letter-spacing="0.55">60</text>
<text x="2024.2" y="262.3" letter-spacing="0.55">4</text>
<text x="2024.2" y="218.6" letter-spacing="0.55">2</text>
<text x="2024.2" y="175.0" letter-spacing="0.55">0</text>
<text x="2024.2" y="131.4" letter-spacing="0.55">2</text>
<text x="2024.2" y="87.7" letter-spacing="0.55">4</text>
<text class="m" x="2179.4" y="317.1" text-anchor="middle" textLength="55.5" lengthAdjust="spacingAndGlyphs"><tspan font-style="italic">ϕ</tspan><tspan dy="4" font-size="11.3">1</tspan><tspan dy="-4"> </tspan>,<tspan class="b">[</tspan><tspan font-style="italic">deg</tspan><tspan class="b">]</tspan></text>
<text class="m" transform="translate(1994.5 169.1) rotate(-90)" text-anchor="middle" textLength="134" lengthAdjust="spacingAndGlyphs">Δ<tspan class="b">(</tspan><tspan font-style="italic">μ</tspan><tspan dy="4" font-size="11.3" font-style="italic">along</tspan><tspan dy="-4"> </tspan><tspan class="b">)</tspan>,<tspan class="b">[</tspan><tspan font-style="italic">mas/yr</tspan><tspan class="b">]</tspan></text>
<path d="M1741.5 540.5v-6.1M1741.5 322.5v6.1M1795.5 540.5v-6.1M1795.5 322.5v6.1M1850.5 540.5v-6.1M1850.5 322.5v6.1M1904.5 540.5v-6.1M1904.5 322.5v6.1M1958.5 540.5v-6.1M1958.5 322.5v6.1M1700.5 540.5h6.1M1982.5 540.5h-6.1M1700.5 513.5h6.1M1982.5 513.5h-6.1M1700.5 485.5h6.1M1982.5 485.5h-6.1M1700.5 458.5h6.1M1982.5 458.5h-6.1M1700.5 431.5h6.1M1982.5 431.5h-6.1M1700.5 404.5h6.1M1982.5 404.5h-6.1M1700.5 376.5h6.1M1982.5 376.5h-6.1M1700.5 349.5h6.1M1982.5 349.5h-6.1M1700.5 322.5h6.1M1982.5 322.5h-6.1M1703.5 540.5v-3.3M1703.5 322.5v3.3M1709.5 540.5v-3.3M1709.5 322.5v3.3M1714.5 540.5v-3.3M1714.5 322.5v3.3M1719.5 540.5v-3.3M1719.5 322.5v3.3M1725.5 540.5v-3.3M1725.5 322.5v3.3M1730.5 540.5v-3.3M1730.5 322.5v3.3M1736.5 540.5v-3.3M1736.5 322.5v3.3M1747.5 540.5v-3.3M1747.5 322.5v3.3M1752.5 540.5v-3.3M1752.5 322.5v3.3M1757.5 540.5v-3.3M1757.5 322.5v3.3M1763.5 540.5v-3.3M1763.5 322.5v3.3M1768.5 540.5v-3.3M1768.5 322.5v3.3M1774.5 540.5v-3.3M1774.5 322.5v3.3M1779.5 540.5v-3.3M1779.5 322.5v3.3M1784.5 540.5v-3.3M1784.5 322.5v3.3M1790.5 540.5v-3.3M1790.5 322.5v3.3M1801.5 540.5v-3.3M1801.5 322.5v3.3M1806.5 540.5v-3.3M1806.5 322.5v3.3M1812.5 540.5v-3.3M1812.5 322.5v3.3M1817.5 540.5v-3.3M1817.5 322.5v3.3M1822.5 540.5v-3.3M1822.5 322.5v3.3M1828.5 540.5v-3.3M1828.5 322.5v3.3M1833.5 540.5v-3.3M1833.5 322.5v3.3M1839.5 540.5v-3.3M1839.5 322.5v3.3M1844.5 540.5v-3.3M1844.5 322.5v3.3M1855.5 540.5v-3.3M1855.5 322.5v3.3M1860.5 540.5v-3.3M1860.5 322.5v3.3M1866.5 540.5v-3.3M1866.5 322.5v3.3M1871.5 540.5v-3.3M1871.5 322.5v3.3M1877.5 540.5v-3.3M1877.5 322.5v3.3M1882.5 540.5v-3.3M1882.5 322.5v3.3M1887.5 540.5v-3.3M1887.5 322.5v3.3M1893.5 540.5v-3.3M1893.5 322.5v3.3M1898.5 540.5v-3.3M1898.5 322.5v3.3M1909.5 540.5v-3.3M1909.5 322.5v3.3M1915.5 540.5v-3.3M1915.5 322.5v3.3M1920.5 540.5v-3.3M1920.5 322.5v3.3M1925.5 540.5v-3.3M1925.5 322.5v3.3M1931.5 540.5v-3.3M1931.5 322.5v3.3M1936.5 540.5v-3.3M1936.5 322.5v3.3M1942.5 540.5v-3.3M1942.5 322.5v3.3M1947.5 540.5v-3.3M1947.5 322.5v3.3M1953.5 540.5v-3.3M1953.5 322.5v3.3M1963.5 540.5v-3.3M1963.5 322.5v3.3M1969.5 540.5v-3.3M1969.5 322.5v3.3M1974.5 540.5v-3.3M1974.5 322.5v3.3M1980.5 540.5v-3.3M1980.5 322.5v3.3M1700.5 537.5h3.3M1982.5 537.5h-3.3M1700.5 535.5h3.3M1982.5 535.5h-3.3M1700.5 532.5h3.3M1982.5 532.5h-3.3M1700.5 529.5h3.3M1982.5 529.5h-3.3M1700.5 526.5h3.3M1982.5 526.5h-3.3M1700.5 524.5h3.3M1982.5 524.5h-3.3M1700.5 521.5h3.3M1982.5 521.5h-3.3M1700.5 518.5h3.3M1982.5 518.5h-3.3M1700.5 515.5h3.3M1982.5 515.5h-3.3M1700.5 510.5h3.3M1982.5 510.5h-3.3M1700.5 507.5h3.3M1982.5 507.5h-3.3M1700.5 505.5h3.3M1982.5 505.5h-3.3M1700.5 502.5h3.3M1982.5 502.5h-3.3M1700.5 499.5h3.3M1982.5 499.5h-3.3M1700.5 496.5h3.3M1982.5 496.5h-3.3M1700.5 494.5h3.3M1982.5 494.5h-3.3M1700.5 491.5h3.3M1982.5 491.5h-3.3M1700.5 488.5h3.3M1982.5 488.5h-3.3M1700.5 483.5h3.3M1982.5 483.5h-3.3M1700.5 480.5h3.3M1982.5 480.5h-3.3M1700.5 477.5h3.3M1982.5 477.5h-3.3M1700.5 475.5h3.3M1982.5 475.5h-3.3M1700.5 472.5h3.3M1982.5 472.5h-3.3M1700.5 469.5h3.3M1982.5 469.5h-3.3M1700.5 466.5h3.3M1982.5 466.5h-3.3M1700.5 464.5h3.3M1982.5 464.5h-3.3M1700.5 461.5h3.3M1982.5 461.5h-3.3M1700.5 455.5h3.3M1982.5 455.5h-3.3M1700.5 453.5h3.3M1982.5 453.5h-3.3M1700.5 450.5h3.3M1982.5 450.5h-3.3M1700.5 447.5h3.3M1982.5 447.5h-3.3M1700.5 445.5h3.3M1982.5 445.5h-3.3M1700.5 442.5h3.3M1982.5 442.5h-3.3M1700.5 439.5h3.3M1982.5 439.5h-3.3M1700.5 436.5h3.3M1982.5 436.5h-3.3M1700.5 434.5h3.3M1982.5 434.5h-3.3M1700.5 428.5h3.3M1982.5 428.5h-3.3M1700.5 425.5h3.3M1982.5 425.5h-3.3M1700.5 423.5h3.3M1982.5 423.5h-3.3M1700.5 420.5h3.3M1982.5 420.5h-3.3M1700.5 417.5h3.3M1982.5 417.5h-3.3M1700.5 415.5h3.3M1982.5 415.5h-3.3M1700.5 412.5h3.3M1982.5 412.5h-3.3M1700.5 409.5h3.3M1982.5 409.5h-3.3M1700.5 406.5h3.3M1982.5 406.5h-3.3M1700.5 401.5h3.3M1982.5 401.5h-3.3M1700.5 398.5h3.3M1982.5 398.5h-3.3M1700.5 395.5h3.3M1982.5 395.5h-3.3M1700.5 393.5h3.3M1982.5 393.5h-3.3M1700.5 390.5h3.3M1982.5 390.5h-3.3M1700.5 387.5h3.3M1982.5 387.5h-3.3M1700.5 385.5h3.3M1982.5 385.5h-3.3M1700.5 382.5h3.3M1982.5 382.5h-3.3M1700.5 379.5h3.3M1982.5 379.5h-3.3M1700.5 374.5h3.3M1982.5 374.5h-3.3M1700.5 371.5h3.3M1982.5 371.5h-3.3M1700.5 368.5h3.3M1982.5 368.5h-3.3M1700.5 365.5h3.3M1982.5 365.5h-3.3M1700.5 363.5h3.3M1982.5 363.5h-3.3M1700.5 360.5h3.3M1982.5 360.5h-3.3M1700.5 357.5h3.3M1982.5 357.5h-3.3M1700.5 355.5h3.3M1982.5 355.5h-3.3M1700.5 352.5h3.3M1982.5 352.5h-3.3M1700.5 346.5h3.3M1982.5 346.5h-3.3M1700.5 344.5h3.3M1982.5 344.5h-3.3M1700.5 341.5h3.3M1982.5 341.5h-3.3M1700.5 338.5h3.3M1982.5 338.5h-3.3M1700.5 335.5h3.3M1982.5 335.5h-3.3M1700.5 333.5h3.3M1982.5 333.5h-3.3M1700.5 330.5h3.3M1982.5 330.5h-3.3M1700.5 327.5h3.3M1982.5 327.5h-3.3M1700.5 325.5h3.3M1982.5 325.5h-3.3" stroke="#000" stroke-width="0.8" fill="none"/>
<rect x="1700.5" y="322.5" width="282.0" height="218.0" fill="none" stroke="#000" stroke-width="1.39"/>
<text x="1737.2" y="557.1" letter-spacing="0.55">20</text>
<text x="1790.3" y="557.1" letter-spacing="0.55">0</text>
<text x="1839.5" y="557.1" letter-spacing="0.55">20</text>
<text x="1893.7" y="557.1" letter-spacing="0.55">40</text>
<text x="1947.9" y="557.1" letter-spacing="0.55">60</text>
<text x="1675.0" y="545.9" letter-spacing="0.55">20</text>
<text x="1676.0" y="518.6" letter-spacing="0.55">15</text>
<text x="1676.0" y="491.4" letter-spacing="0.55">10</text>
<text x="1686.0" y="464.1" letter-spacing="0.55">5</text>
<text x="1686.0" y="436.8" letter-spacing="0.55">0</text>
<text x="1686.0" y="409.5" letter-spacing="0.55">5</text>
<text x="1676.0" y="382.3" letter-spacing="0.55">10</text>
<text x="1676.0" y="355.0" letter-spacing="0.55">15</text>
<text x="1675.0" y="326.7" letter-spacing="0.55">20</text>
<text class="m" x="1841.2" y="578.9" text-anchor="middle" textLength="55.5" lengthAdjust="spacingAndGlyphs"><tspan font-style="italic">ϕ</tspan><tspan dy="4" font-size="11.3">1</tspan><tspan dy="-4"> </tspan>,<tspan class="b">[</tspan><tspan font-style="italic">deg</tspan><tspan class="b">]</tspan></text>
<text class="m" transform="translate(1647.5 429.7) rotate(-90)" text-anchor="middle" textLength="109" lengthAdjust="spacingAndGlyphs">Δ<tspan class="b">(</tspan><tspan font-style="italic">V</tspan><tspan dy="4" font-size="11.3" font-style="italic">rad</tspan><tspan dy="-4"> </tspan><tspan class="b">)</tspan>,<tspan class="b">[</tspan><tspan font-style="italic">km/s</tspan><tspan class="b">]</tspan></text>
<path d="M2079.5 540.5v-6.1M2079.5 322.5v6.1M2133.5 540.5v-6.1M2133.5 322.5v6.1M2188.5 540.5v-6.1M2188.5 322.5v6.1M2242.5 540.5v-6.1M2242.5 322.5v6.1M2296.5 540.5v-6.1M2296.5 322.5v6.1M2038.5 518.5h6.1M2320.5 518.5h-6.1M2038.5 475.5h6.1M2320.5 475.5h-6.1M2038.5 431.5h6.1M2320.5 431.5h-6.1M2038.5 387.5h6.1M2320.5 387.5h-6.1M2038.5 344.5h6.1M2320.5 344.5h-6.1M2041.5 540.5v-3.3M2041.5 322.5v3.3M2047.5 540.5v-3.3M2047.5 322.5v3.3M2052.5 540.5v-3.3M2052.5 322.5v3.3M2058.5 540.5v-3.3M2058.5 322.5v3.3M2063.5 540.5v-3.3M2063.5 322.5v3.3M2068.5 540.5v-3.3M2068.5 322.5v3.3M2074.5 540.5v-3.3M2074.5 322.5v3.3M2085.5 540.5v-3.3M2085.5 322.5v3.3M2090.5 540.5v-3.3M2090.5 322.5v3.3M2096.5 540.5v-3.3M2096.5 322.5v3.3M2101.5 540.5v-3.3M2101.5 322.5v3.3M2106.5 540.5v-3.3M2106.5 322.5v3.3M2112.5 540.5v-3.3M2112.5 322.5v3.3M2117.5 540.5v-3.3M2117.5 322.5v3.3M2123.5 540.5v-3.3M2123.5 322.5v3.3M2128.5 540.5v-3.3M2128.5 322.5v3.3M2139.5 540.5v-3.3M2139.5 322.5v3.3M2144.5 540.5v-3.3M2144.5 322.5v3.3M2150.5 540.5v-3.3M2150.5 322.5v3.3M2155.5 540.5v-3.3M2155.5 322.5v3.3M2161.5 540.5v-3.3M2161.5 322.5v3.3M2166.5 540.5v-3.3M2166.5 322.5v3.3M2171.5 540.5v-3.3M2171.5 322.5v3.3M2177.5 540.5v-3.3M2177.5 322.5v3.3M2182.5 540.5v-3.3M2182.5 322.5v3.3M2193.5 540.5v-3.3M2193.5 322.5v3.3M2199.5 540.5v-3.3M2199.5 322.5v3.3M2204.5 540.5v-3.3M2204.5 322.5v3.3M2209.5 540.5v-3.3M2209.5 322.5v3.3M2215.5 540.5v-3.3M2215.5 322.5v3.3M2220.5 540.5v-3.3M2220.5 322.5v3.3M2226.5 540.5v-3.3M2226.5 322.5v3.3M2231.5 540.5v-3.3M2231.5 322.5v3.3M2237.5 540.5v-3.3M2237.5 322.5v3.3M2247.5 540.5v-3.3M2247.5 322.5v3.3M2253.5 540.5v-3.3M2253.5 322.5v3.3M2258.5 540.5v-3.3M2258.5 322.5v3.3M2264.5 540.5v-3.3M2264.5 322.5v3.3M2269.5 540.5v-3.3M2269.5 322.5v3.3M2274.5 540.5v-3.3M2274.5 322.5v3.3M2280.5 540.5v-3.3M2280.5 322.5v3.3M2285.5 540.5v-3.3M2285.5 322.5v3.3M2291.5 540.5v-3.3M2291.5 322.5v3.3M2302.5 540.5v-3.3M2302.5 322.5v3.3M2307.5 540.5v-3.3M2307.5 322.5v3.3M2312.5 540.5v-3.3M2312.5 322.5v3.3M2318.5 540.5v-3.3M2318.5 322.5v3.3M2038.5 540.5h3.3M2320.5 540.5h-3.3M2038.5 536.5h3.3M2320.5 536.5h-3.3M2038.5 531.5h3.3M2320.5 531.5h-3.3M2038.5 527.5h3.3M2320.5 527.5h-3.3M2038.5 523.5h3.3M2320.5 523.5h-3.3M2038.5 514.5h3.3M2320.5 514.5h-3.3M2038.5 509.5h3.3M2320.5 509.5h-3.3M2038.5 505.5h3.3M2320.5 505.5h-3.3M2038.5 501.5h3.3M2320.5 501.5h-3.3M2038.5 496.5h3.3M2320.5 496.5h-3.3M2038.5 492.5h3.3M2320.5 492.5h-3.3M2038.5 488.5h3.3M2320.5 488.5h-3.3M2038.5 483.5h3.3M2320.5 483.5h-3.3M2038.5 479.5h3.3M2320.5 479.5h-3.3M2038.5 470.5h3.3M2320.5 470.5h-3.3M2038.5 466.5h3.3M2320.5 466.5h-3.3M2038.5 461.5h3.3M2320.5 461.5h-3.3M2038.5 457.5h3.3M2320.5 457.5h-3.3M2038.5 453.5h3.3M2320.5 453.5h-3.3M2038.5 448.5h3.3M2320.5 448.5h-3.3M2038.5 444.5h3.3M2320.5 444.5h-3.3M2038.5 440.5h3.3M2320.5 440.5h-3.3M2038.5 435.5h3.3M2320.5 435.5h-3.3M2038.5 427.5h3.3M2320.5 427.5h-3.3M2038.5 422.5h3.3M2320.5 422.5h-3.3M2038.5 418.5h3.3M2320.5 418.5h-3.3M2038.5 413.5h3.3M2320.5 413.5h-3.3M2038.5 409.5h3.3M2320.5 409.5h-3.3M2038.5 405.5h3.3M2320.5 405.5h-3.3M2038.5 400.5h3.3M2320.5 400.5h-3.3M2038.5 396.5h3.3M2320.5 396.5h-3.3M2038.5 392.5h3.3M2320.5 392.5h-3.3M2038.5 383.5h3.3M2320.5 383.5h-3.3M2038.5 379.5h3.3M2320.5 379.5h-3.3M2038.5 374.5h3.3M2320.5 374.5h-3.3M2038.5 370.5h3.3M2320.5 370.5h-3.3M2038.5 365.5h3.3M2320.5 365.5h-3.3M2038.5 361.5h3.3M2320.5 361.5h-3.3M2038.5 357.5h3.3M2320.5 357.5h-3.3M2038.5 352.5h3.3M2320.5 352.5h-3.3M2038.5 348.5h3.3M2320.5 348.5h-3.3M2038.5 339.5h3.3M2320.5 339.5h-3.3M2038.5 335.5h3.3M2320.5 335.5h-3.3M2038.5 331.5h3.3M2320.5 331.5h-3.3M2038.5 326.5h3.3M2320.5 326.5h-3.3M2038.5 322.5h3.3M2320.5 322.5h-3.3" stroke="#000" stroke-width="0.8" fill="none"/>
<rect x="2038.5" y="322.5" width="282.0" height="218.0" fill="none" stroke="#000" stroke-width="1.39"/>
<text x="2075.4" y="557.1" letter-spacing="0.55">20</text>
<text x="2128.4" y="557.1" letter-spacing="0.55">0</text>
<text x="2177.7" y="557.1" letter-spacing="0.55">20</text>
<text x="2231.9" y="557.1" letter-spacing="0.55">40</text>
<text x="2286.1" y="557.1" letter-spacing="0.55">60</text>
<text x="2024.2" y="524.1" letter-spacing="0.55">4</text>
<text x="2024.2" y="480.4" letter-spacing="0.55">2</text>
<text x="2024.2" y="436.8" letter-spacing="0.55">0</text>
<text x="2024.2" y="393.2" letter-spacing="0.55">2</text>
<text x="2024.2" y="349.5" letter-spacing="0.55">4</text>
<text class="m" x="2179.4" y="578.9" text-anchor="middle" textLength="55.5" lengthAdjust="spacingAndGlyphs"><tspan font-style="italic">ϕ</tspan><tspan dy="4" font-size="11.3">1</tspan><tspan dy="-4"> </tspan>,<tspan class="b">[</tspan><tspan font-style="italic">deg</tspan><tspan class="b">]</tspan></text>
<text class="m" transform="translate(1997.0 430.2) rotate(-90)" text-anchor="middle" textLength="132.5" lengthAdjust="spacingAndGlyphs">Δ<tspan class="b">(</tspan><tspan font-style="italic">Distance</tspan><tspan class="b">)</tspan>,<tspan class="b">[</tspan><tspan font-style="italic">kpc</tspan><tspan class="b">]</tspan></text>
<path d="M95.6 289.5h10.7M128.7 289.5h10.7M161.9 289.5h10.7M73.2 256.5h10.7M73.2 212.5h10.7M433.8 289.5h10.7M466.9 289.5h10.7M500.1 289.5h10.7M411.4 256.5h10.7M411.4 212.5h10.7M95.6 551.5h10.7M128.7 551.5h10.7M161.9 551.5h10.7M62.1 540.5h10.7M63.2 512.5h10.7M63.2 485.5h10.7M73.2 458.5h10.7M433.8 551.5h10.7M466.9 551.5h10.7M500.1 551.5h10.7M411.4 518.5h10.7M411.4 474.5h10.7M924.4 289.5h10.7M873.2 256.5h10.7M873.2 212.5h10.7M1262.6 289.5h10.7M1211.4 256.5h10.7M1211.4 212.5h10.7M924.4 551.5h10.7M862.1 540.5h10.7M863.2 512.5h10.7M863.2 485.5h10.7M873.2 458.5h10.7M1262.6 551.5h10.7M1211.4 518.5h10.7M1211.4 474.5h10.7M1724.4 289.5h10.7M1673.2 256.5h10.7M1673.2 212.5h10.7M2062.6 289.5h10.7M2011.4 256.5h10.7M2011.4 212.5h10.7M1724.4 551.5h10.7M1662.1 540.5h10.7M1663.2 512.5h10.7M1663.2 485.5h10.7M1673.2 458.5h10.7M2062.6 551.5h10.7M2011.4 518.5h10.7M2011.4 474.5h10.7" stroke="#242424" stroke-width="1" fill="none"/>
</svg></body></html>
